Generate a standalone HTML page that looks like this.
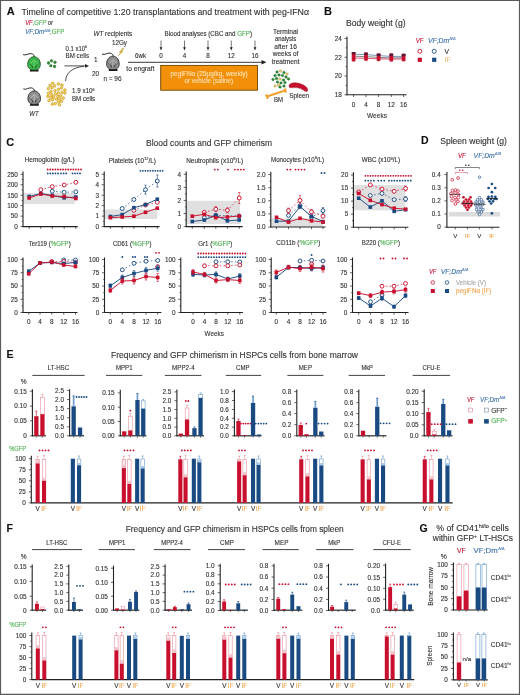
<!DOCTYPE html>
<html><head><meta charset="utf-8"><title>Figure</title>
<style>
html,body{margin:0;padding:0;background:#fff;}
svg{display:block;font-family:"Liberation Sans", sans-serif;}
</style></head><body>
<div style="will-change:transform;width:520px;height:695px"><svg width="520" height="695" viewBox="0 0 520 695" font-family='"Liberation Sans", sans-serif'>
<rect x="0" y="0" width="520" height="695" fill="#fff"/>
<text x="6.80" y="14.80" font-size="11" fill="#111" font-weight="bold" stroke="#111" stroke-width="0.12">A</text>
<text x="21.50" y="15.30" font-size="8.8" fill="#333" textLength="287.50" lengthAdjust="spacingAndGlyphs" stroke="#333" stroke-width="0.12">Timeline of competitive 1:20 transplantations and treatment with peg-IFNα</text>
<text x="25.2" y="25.4" font-size="6.4" font-style="italic" fill="#c8102e" textLength="27.7" lengthAdjust="spacingAndGlyphs" stroke="#c8102e" stroke-width="0.12">VF<tspan fill="#4caf50" stroke="#4caf50" stroke-width="0.12">;GFP</tspan><tspan fill="#333" stroke="#333" stroke-width="0.12"> or</tspan></text>
<text x="25.2" y="34.3" font-size="6.4" font-style="italic" fill="#3a6fa8" textLength="39.2" lengthAdjust="spacingAndGlyphs" stroke="#3a6fa8" stroke-width="0.12">VF;Dm<tspan font-size="3.8" dy="-2.5">Δ/Δ</tspan><tspan dy="2.5" fill="#4caf50" font-style="normal" stroke="#4caf50" stroke-width="0.12">;GFP</tspan></text>
<path d="M23.10,54.60 C26.00,55.90 28.00,53.20 31.20,53.60 C33.20,53.90 34.30,55.30 34.40,56.90" fill="none" stroke="#222" stroke-width="0.95" />
<path d="M30.00,69.50 L38.40,69.50 L38.60,71.40 L29.80,71.40 Z" fill="#151515" />
<path d="M34.00,56.70 C38.00,56.70 40.30,60.50 40.30,64.40 C40.30,67.80 38.00,70.10 34.00,70.10 C30.00,70.10 27.70,67.80 27.70,64.40 C27.70,60.50 30.00,56.70 34.00,56.70 Z" fill="#3cb44b" stroke="#1a4d1e" stroke-width="0.85" />
<path d="M33.80,60.00 L29.20,65.00 M34.20,60.00 L38.80,65.00 M34.00,60.00 L34.00,68.00" fill="none" stroke="#62d464" stroke-width="1.1" />
<path d="M28.80,63.70 Q31.80,64.50 33.00,68.00 M39.20,63.70 Q36.20,64.50 35.00,68.00" fill="none" stroke="#1a5a1e" stroke-width="0.55" />
<circle cx="32.50" cy="67.10" r="0.75" fill="#1a5a1e" />
<circle cx="35.50" cy="67.10" r="0.75" fill="#1a5a1e" />
<path d="M23.30,88.90 C26.20,90.20 28.20,87.50 31.40,87.90 C33.40,88.20 34.50,89.60 34.60,91.20" fill="none" stroke="#222" stroke-width="0.95" />
<path d="M30.20,103.80 L38.60,103.80 L38.80,105.70 L30.00,105.70 Z" fill="#151515" />
<path d="M34.20,91.00 C38.20,91.00 40.50,94.80 40.50,98.70 C40.50,102.10 38.20,104.40 34.20,104.40 C30.20,104.40 27.90,102.10 27.90,98.70 C27.90,94.80 30.20,91.00 34.20,91.00 Z" fill="#8e8e8e" stroke="#222" stroke-width="0.85" />
<path d="M34.00,94.30 L29.40,99.30 M34.40,94.30 L39.00,99.30 M34.20,94.30 L34.20,102.30" fill="none" stroke="#b0b0b0" stroke-width="1.1" />
<path d="M29.00,98.00 Q32.00,98.80 33.20,102.30 M39.40,98.00 Q36.40,98.80 35.20,102.30" fill="none" stroke="#333" stroke-width="0.55" />
<circle cx="32.70" cy="101.40" r="0.75" fill="#333" />
<circle cx="35.70" cy="101.40" r="0.75" fill="#333" />
<path d="M102.00,54.10 C104.90,55.40 106.90,52.70 110.10,53.10 C112.10,53.40 113.20,54.80 113.30,56.40" fill="none" stroke="#222" stroke-width="0.95" />
<path d="M108.90,69.00 L117.30,69.00 L117.50,70.90 L108.70,70.90 Z" fill="#151515" />
<path d="M112.90,56.20 C116.90,56.20 119.20,60.00 119.20,63.90 C119.20,67.30 116.90,69.60 112.90,69.60 C108.90,69.60 106.60,67.30 106.60,63.90 C106.60,60.00 108.90,56.20 112.90,56.20 Z" fill="#8e8e8e" stroke="#222" stroke-width="0.85" />
<path d="M112.70,59.50 L108.10,64.50 M113.10,59.50 L117.70,64.50 M112.90,59.50 L112.90,67.50" fill="none" stroke="#b0b0b0" stroke-width="1.1" />
<path d="M107.70,63.20 Q110.70,64.00 111.90,67.50 M118.10,63.20 Q115.10,64.00 113.90,67.50" fill="none" stroke="#333" stroke-width="0.55" />
<circle cx="111.40" cy="66.60" r="0.75" fill="#333" />
<circle cx="114.40" cy="66.60" r="0.75" fill="#333" />
<text x="34.00" y="116.20" font-size="6.8" text-anchor="middle" fill="#333" textLength="9.50" lengthAdjust="spacingAndGlyphs" font-style="italic" stroke="#333" stroke-width="0.12">WT</text>
<circle cx="48.50" cy="63.00" r="1.40" fill="#2f8a35" stroke="#1d5e22" stroke-width="0.3" />
<circle cx="51.50" cy="60.80" r="1.40" fill="#2f8a35" stroke="#1d5e22" stroke-width="0.3" />
<circle cx="55.00" cy="62.30" r="1.40" fill="#2f8a35" stroke="#1d5e22" stroke-width="0.3" />
<circle cx="50.80" cy="65.80" r="1.40" fill="#2f8a35" stroke="#1d5e22" stroke-width="0.3" />
<circle cx="54.60" cy="66.50" r="1.40" fill="#2f8a35" stroke="#1d5e22" stroke-width="0.3" />
<circle cx="51.66" cy="94.75" r="1.30" fill="#f3d870" stroke="#c99a1a" stroke-width="0.7" />
<circle cx="58.45" cy="83.97" r="1.30" fill="#f3d870" stroke="#c99a1a" stroke-width="0.7" />
<circle cx="52.04" cy="87.77" r="1.30" fill="#f3d870" stroke="#c99a1a" stroke-width="0.7" />
<circle cx="64.92" cy="93.08" r="1.30" fill="#f3d870" stroke="#c99a1a" stroke-width="0.7" />
<circle cx="58.61" cy="102.03" r="1.30" fill="#f3d870" stroke="#c99a1a" stroke-width="0.7" />
<circle cx="56.66" cy="99.18" r="1.30" fill="#f3d870" stroke="#c99a1a" stroke-width="0.7" />
<circle cx="60.77" cy="95.80" r="1.30" fill="#f3d870" stroke="#c99a1a" stroke-width="0.7" />
<circle cx="52.77" cy="83.20" r="1.30" fill="#f3d870" stroke="#c99a1a" stroke-width="0.7" />
<circle cx="55.28" cy="103.55" r="1.30" fill="#f3d870" stroke="#c99a1a" stroke-width="0.7" />
<circle cx="58.47" cy="89.27" r="1.30" fill="#f3d870" stroke="#c99a1a" stroke-width="0.7" />
<circle cx="49.05" cy="100.51" r="1.30" fill="#f3d870" stroke="#c99a1a" stroke-width="0.7" />
<circle cx="54.68" cy="85.89" r="1.30" fill="#f3d870" stroke="#c99a1a" stroke-width="0.7" />
<circle cx="52.64" cy="99.80" r="1.30" fill="#f3d870" stroke="#c99a1a" stroke-width="0.7" />
<circle cx="50.95" cy="91.68" r="1.30" fill="#f3d870" stroke="#c99a1a" stroke-width="0.7" />
<circle cx="55.56" cy="94.20" r="1.30" fill="#f3d870" stroke="#c99a1a" stroke-width="0.7" />
<circle cx="47.85" cy="96.36" r="1.30" fill="#f3d870" stroke="#c99a1a" stroke-width="0.7" />
<circle cx="58.48" cy="92.99" r="1.30" fill="#f3d870" stroke="#c99a1a" stroke-width="0.7" />
<circle cx="59.87" cy="99.11" r="1.30" fill="#f3d870" stroke="#c99a1a" stroke-width="0.7" />
<circle cx="61.57" cy="87.87" r="1.30" fill="#f3d870" stroke="#c99a1a" stroke-width="0.7" />
<circle cx="62.09" cy="92.36" r="1.30" fill="#f3d870" stroke="#c99a1a" stroke-width="0.7" />
<circle cx="61.62" cy="101.37" r="1.30" fill="#f3d870" stroke="#c99a1a" stroke-width="0.7" />
<circle cx="63.31" cy="98.11" r="1.30" fill="#f3d870" stroke="#c99a1a" stroke-width="0.7" />
<circle cx="48.37" cy="88.61" r="1.30" fill="#f3d870" stroke="#c99a1a" stroke-width="0.7" />
<circle cx="53.65" cy="97.06" r="1.30" fill="#f3d870" stroke="#c99a1a" stroke-width="0.7" />
<circle cx="55.05" cy="90.88" r="1.30" fill="#f3d870" stroke="#c99a1a" stroke-width="0.7" />
<circle cx="61.95" cy="85.03" r="1.30" fill="#f3d870" stroke="#c99a1a" stroke-width="0.7" />
<circle cx="64.93" cy="90.04" r="1.30" fill="#f3d870" stroke="#c99a1a" stroke-width="0.7" />
<circle cx="59.47" cy="104.82" r="1.30" fill="#f3d870" stroke="#c99a1a" stroke-width="0.7" />
<circle cx="52.44" cy="104.13" r="1.30" fill="#f3d870" stroke="#c99a1a" stroke-width="0.7" />
<circle cx="50.04" cy="85.36" r="1.30" fill="#f3d870" stroke="#c99a1a" stroke-width="0.7" />
<circle cx="57.96" cy="96.63" r="1.30" fill="#f3d870" stroke="#c99a1a" stroke-width="0.7" />
<circle cx="48.46" cy="93.35" r="1.30" fill="#f3d870" stroke="#c99a1a" stroke-width="0.7" />
<circle cx="50.72" cy="97.53" r="1.30" fill="#f3d870" stroke="#c99a1a" stroke-width="0.7" />
<text x="65.6" y="50.7" font-size="6.6" fill="#333" textLength="21.4" lengthAdjust="spacingAndGlyphs" stroke="#333" stroke-width="0.12">0.1 x10<tspan font-size="3.8" dy="-2.6">6</tspan></text>
<text x="65.60" y="58.30" font-size="6.6" fill="#333" textLength="23.40" lengthAdjust="spacingAndGlyphs" stroke="#333" stroke-width="0.12">BM cells</text>
<text x="72" y="93.1" font-size="6.6" fill="#333" textLength="22.5" lengthAdjust="spacingAndGlyphs" stroke="#333" stroke-width="0.12">1.9 x10<tspan font-size="3.8" dy="-2.6">6</tspan></text>
<text x="72.00" y="100.70" font-size="6.6" fill="#333" textLength="23.20" lengthAdjust="spacingAndGlyphs" stroke="#333" stroke-width="0.12">BM cells</text>
<line x1="64.40" y1="65.90" x2="86.00" y2="65.90" stroke="#222" stroke-width="0.8" />
<path d="M89,65.9 L85,64 L85,67.8 Z" fill="#222" />
<path d="M65.6,81 C66,73 72,67.5 84,66.3" fill="none" stroke="#222" stroke-width="0.8" />
<text x="95.80" y="62.20" font-size="6.4" text-anchor="middle" fill="#333" stroke="#333" stroke-width="0.12">1</text>
<circle cx="94.60" cy="66.50" r="0.35" fill="#555" />
<circle cx="97.00" cy="66.50" r="0.35" fill="#555" />
<text x="95.50" y="75.80" font-size="6.4" text-anchor="middle" fill="#333" stroke="#333" stroke-width="0.12">20</text>
<text x="112.50" y="81.20" font-size="6.6" text-anchor="middle" fill="#333" textLength="18.20" lengthAdjust="spacingAndGlyphs" stroke="#333" stroke-width="0.12">n = 96</text>
<text x="93.4" y="35.7" font-size="6.6" fill="#333" textLength="38.8" lengthAdjust="spacingAndGlyphs" stroke="#333" stroke-width="0.12"><tspan font-style="italic">WT</tspan> recipients</text>
<text x="119.50" y="45.20" font-size="6.6" text-anchor="middle" fill="#333" textLength="15.00" lengthAdjust="spacingAndGlyphs" stroke="#333" stroke-width="0.12">12Gy</text>
<path d="M122.5,48.3 L119.2,52.6 L120.9,52.4 L118.2,56 L123.2,51.2 L121.4,51.4 L124,48.3 Z" fill="#e8c030" stroke="#8a7020" stroke-width="0.3" />
<line x1="128.00" y1="62.30" x2="262.00" y2="62.30" stroke="#222" stroke-width="0.9" />
<path d="M266.5,62.3 L261.5,60 L261.5,64.6 Z" fill="#222" />
<text x="140.50" y="58.20" font-size="6.3" text-anchor="middle" fill="#333" textLength="11.00" lengthAdjust="spacingAndGlyphs" stroke="#333" stroke-width="0.12">6wk</text>
<text x="126.30" y="71.20" font-size="6.6" fill="#333" textLength="28.20" lengthAdjust="spacingAndGlyphs" stroke="#333" stroke-width="0.12">to engraft</text>
<text x="164.5" y="35.6" font-size="6.5" fill="#333" textLength="87.5" lengthAdjust="spacingAndGlyphs" stroke="#333" stroke-width="0.12">Blood analyses (CBC and <tspan fill="#4caf50" stroke="#4caf50" stroke-width="0.12">GFP</tspan>)</text>
<line x1="161.00" y1="40.50" x2="161.00" y2="48.00" stroke="#222" stroke-width="0.6" />
<path d="M161,50.5 L159.6,47.3 L162.4,47.3 Z" fill="#222" />
<text x="161.00" y="58.20" font-size="6.3" text-anchor="middle" fill="#333" stroke="#333" stroke-width="0.12">0</text>
<line x1="184.50" y1="40.50" x2="184.50" y2="48.00" stroke="#222" stroke-width="0.6" />
<path d="M184.5,50.5 L183.1,47.3 L185.9,47.3 Z" fill="#222" />
<text x="184.50" y="58.20" font-size="6.3" text-anchor="middle" fill="#333" stroke="#333" stroke-width="0.12">4</text>
<line x1="208.00" y1="40.50" x2="208.00" y2="48.00" stroke="#222" stroke-width="0.6" />
<path d="M208,50.5 L206.6,47.3 L209.4,47.3 Z" fill="#222" />
<text x="208.00" y="58.20" font-size="6.3" text-anchor="middle" fill="#333" stroke="#333" stroke-width="0.12">8</text>
<line x1="231.30" y1="40.50" x2="231.30" y2="48.00" stroke="#222" stroke-width="0.6" />
<path d="M231.3,50.5 L229.9,47.3 L232.70000000000002,47.3 Z" fill="#222" />
<text x="231.30" y="58.20" font-size="6.3" text-anchor="middle" fill="#333" stroke="#333" stroke-width="0.12">12</text>
<line x1="255.00" y1="40.50" x2="255.00" y2="48.00" stroke="#222" stroke-width="0.6" />
<path d="M255,50.5 L253.6,47.3 L256.4,47.3 Z" fill="#222" />
<text x="255.00" y="58.20" font-size="6.3" text-anchor="middle" fill="#333" stroke="#333" stroke-width="0.12">16</text>
<rect x="160.70" y="65.40" width="96.80" height="24.80" fill="#f39009" stroke="#6b4500" stroke-width="0.9" />
<text x="209.10" y="75.80" font-size="6.6" text-anchor="middle" fill="#fde0b0" textLength="77.20" lengthAdjust="spacingAndGlyphs" stroke="#fde0b0" stroke-width="0.12">pegIFNα (25μg/kg, weekly)</text>
<text x="208.80" y="83.20" font-size="6.6" text-anchor="middle" fill="#fde0b0" textLength="48.40" lengthAdjust="spacingAndGlyphs" stroke="#fde0b0" stroke-width="0.12">or vehicle (saline)</text>
<text x="285.60" y="33.90" font-size="6.6" text-anchor="middle" fill="#333" textLength="25.00" lengthAdjust="spacingAndGlyphs" stroke="#333" stroke-width="0.12">Terminal</text>
<text x="285.60" y="41.40" font-size="6.6" text-anchor="middle" fill="#333" textLength="21.30" lengthAdjust="spacingAndGlyphs" stroke="#333" stroke-width="0.12">analysis</text>
<text x="285.60" y="48.90" font-size="6.6" text-anchor="middle" fill="#333" textLength="22.50" lengthAdjust="spacingAndGlyphs" stroke="#333" stroke-width="0.12">after 16</text>
<text x="285.60" y="56.40" font-size="6.6" text-anchor="middle" fill="#333" textLength="25.60" lengthAdjust="spacingAndGlyphs" stroke="#333" stroke-width="0.12">weeks of</text>
<text x="285.60" y="63.90" font-size="6.6" text-anchor="middle" fill="#333" textLength="27.90" lengthAdjust="spacingAndGlyphs" stroke="#333" stroke-width="0.12">treatment</text>
<circle cx="277.00" cy="72.00" r="1.35" fill="#2f8a35" stroke="#1d5e22" stroke-width="0.3" />
<circle cx="280.50" cy="71.00" r="1.10" fill="#f8eeb8" stroke="#b08818" stroke-width="0.65" />
<circle cx="284.00" cy="72.50" r="1.35" fill="#2f8a35" stroke="#1d5e22" stroke-width="0.3" />
<circle cx="287.00" cy="74.00" r="1.10" fill="#f8eeb8" stroke="#b08818" stroke-width="0.65" />
<circle cx="275.00" cy="75.50" r="1.35" fill="#2f8a35" stroke="#1d5e22" stroke-width="0.3" />
<circle cx="279.00" cy="75.00" r="1.35" fill="#2f8a35" stroke="#1d5e22" stroke-width="0.3" />
<circle cx="282.50" cy="75.50" r="1.35" fill="#2f8a35" stroke="#1d5e22" stroke-width="0.3" />
<circle cx="286.00" cy="77.00" r="1.35" fill="#2f8a35" stroke="#1d5e22" stroke-width="0.3" />
<circle cx="288.50" cy="79.00" r="1.35" fill="#2f8a35" stroke="#1d5e22" stroke-width="0.3" />
<circle cx="273.00" cy="79.50" r="1.35" fill="#2f8a35" stroke="#1d5e22" stroke-width="0.3" />
<circle cx="276.50" cy="78.50" r="1.35" fill="#2f8a35" stroke="#1d5e22" stroke-width="0.3" />
<circle cx="280.00" cy="79.00" r="1.10" fill="#f8eeb8" stroke="#b08818" stroke-width="0.65" />
<circle cx="283.50" cy="80.00" r="1.35" fill="#2f8a35" stroke="#1d5e22" stroke-width="0.3" />
<circle cx="277.50" cy="82.00" r="1.35" fill="#2f8a35" stroke="#1d5e22" stroke-width="0.3" />
<circle cx="281.00" cy="83.00" r="1.35" fill="#2f8a35" stroke="#1d5e22" stroke-width="0.3" />
<circle cx="285.00" cy="82.50" r="1.35" fill="#2f8a35" stroke="#1d5e22" stroke-width="0.3" />
<circle cx="275.00" cy="86.00" r="1.10" fill="#f8eeb8" stroke="#b08818" stroke-width="0.65" />
<circle cx="280.00" cy="87.00" r="1.35" fill="#2f8a35" stroke="#1d5e22" stroke-width="0.3" />
<circle cx="284.00" cy="86.00" r="1.35" fill="#2f8a35" stroke="#1d5e22" stroke-width="0.3" />
<circle cx="278.50" cy="85.00" r="1.10" fill="#f8eeb8" stroke="#b08818" stroke-width="0.65" />
<path d="M267,96.5 L285,90.5" fill="none" stroke="#f0a030" stroke-width="2.0" stroke-linecap="round"/>
<circle cx="266.50" cy="95.50" r="1.20" fill="#f0a030" />
<circle cx="267.50" cy="97.70" r="1.20" fill="#f0a030" />
<circle cx="285.30" cy="89.40" r="1.20" fill="#f0a030" />
<circle cx="285.80" cy="91.60" r="1.20" fill="#f0a030" />
<path d="M289.5,84.5 C292,82 298,82.2 303,84.8 C306.5,86.6 308.5,89 307.5,91 C306.5,92.2 304.8,91.2 303,89.8 C299,87.2 294,87.5 291,87.8 C289,88 288.5,86 289.5,84.5 Z" fill="#c8102e" stroke="#8a0a1e" stroke-width="0.4" />
<text x="278.50" y="102.20" font-size="6.6" text-anchor="middle" fill="#333" textLength="9.00" lengthAdjust="spacingAndGlyphs" stroke="#333" stroke-width="0.12">BM</text>
<text x="299.20" y="97.70" font-size="6.6" text-anchor="middle" fill="#333" textLength="20.00" lengthAdjust="spacingAndGlyphs" stroke="#333" stroke-width="0.12">Spleen</text>
<text x="324.00" y="15.00" font-size="11" fill="#111" font-weight="bold" stroke="#111" stroke-width="0.12">B</text>
<text x="346.00" y="26.00" font-size="8.6" fill="#333" textLength="59.60" lengthAdjust="spacingAndGlyphs" stroke="#333" stroke-width="0.12">Body weight (g)</text>
<line x1="347.00" y1="36.50" x2="347.00" y2="95.20" stroke="#222" stroke-width="1.1" />
<line x1="346.60" y1="94.80" x2="406.50" y2="94.80" stroke="#222" stroke-width="1.1" />
<line x1="344.50" y1="38.50" x2="347.00" y2="38.50" stroke="#222" stroke-width="0.7" />
<text x="341.80" y="40.80" font-size="6.4" text-anchor="end" fill="#333" stroke="#333" stroke-width="0.12">24</text>
<line x1="344.50" y1="57.30" x2="347.00" y2="57.30" stroke="#222" stroke-width="0.7" />
<text x="341.80" y="59.60" font-size="6.4" text-anchor="end" fill="#333" stroke="#333" stroke-width="0.12">22</text>
<line x1="344.50" y1="76.00" x2="347.00" y2="76.00" stroke="#222" stroke-width="0.7" />
<text x="341.80" y="78.30" font-size="6.4" text-anchor="end" fill="#333" stroke="#333" stroke-width="0.12">20</text>
<line x1="344.50" y1="94.80" x2="347.00" y2="94.80" stroke="#222" stroke-width="0.7" />
<text x="341.80" y="97.10" font-size="6.4" text-anchor="end" fill="#333" stroke="#333" stroke-width="0.12">18</text>
<line x1="345.50" y1="47.90" x2="347.00" y2="47.90" stroke="#222" stroke-width="0.6" />
<line x1="345.50" y1="66.60" x2="347.00" y2="66.60" stroke="#222" stroke-width="0.6" />
<line x1="345.50" y1="85.40" x2="347.00" y2="85.40" stroke="#222" stroke-width="0.6" />
<line x1="353.60" y1="94.80" x2="353.60" y2="97.00" stroke="#222" stroke-width="0.7" />
<text x="353.60" y="106.90" font-size="6.4" text-anchor="middle" fill="#333" stroke="#333" stroke-width="0.12">0</text>
<line x1="366.00" y1="94.80" x2="366.00" y2="97.00" stroke="#222" stroke-width="0.7" />
<text x="366.00" y="106.90" font-size="6.4" text-anchor="middle" fill="#333" stroke="#333" stroke-width="0.12">4</text>
<line x1="378.60" y1="94.80" x2="378.60" y2="97.00" stroke="#222" stroke-width="0.7" />
<text x="378.60" y="106.90" font-size="6.4" text-anchor="middle" fill="#333" stroke="#333" stroke-width="0.12">8</text>
<line x1="391.30" y1="94.80" x2="391.30" y2="97.00" stroke="#222" stroke-width="0.7" />
<text x="391.30" y="106.90" font-size="6.4" text-anchor="middle" fill="#333" stroke="#333" stroke-width="0.12">12</text>
<line x1="403.60" y1="94.80" x2="403.60" y2="97.00" stroke="#222" stroke-width="0.7" />
<text x="403.60" y="106.90" font-size="6.4" text-anchor="middle" fill="#333" stroke="#333" stroke-width="0.12">16</text>
<text x="377.00" y="117.80" font-size="7.6" text-anchor="middle" fill="#333" textLength="20.00" lengthAdjust="spacingAndGlyphs" stroke="#333" stroke-width="0.12">Weeks</text>
<path d="M353.6,54.2 L366.0,54.6 L378.6,55.6 L391.3,56.4 L403.6,56.4" fill="none" stroke="#3a6a9a" stroke-width="0.7" />
<path d="M353.6,56.2 L366.0,56.6 L378.6,57.4 L391.3,57.9 L403.6,57.8" fill="none" stroke="#333" stroke-width="0.6" />
<path d="M353.6,58.0 L366.0,58.3 L378.6,58.8 L391.3,59.1 L403.6,58.9" fill="none" stroke="#c8102e" stroke-width="0.7" />
<rect x="351.70" y="51.90" width="3.80" height="9.50" fill="#c8102e" rx="0.8"/>
<rect x="351.70" y="51.90" width="3.80" height="2.40" fill="#5a1a34" rx="0.8"/>
<line x1="353.60" y1="61.40" x2="353.60" y2="62.00" stroke="#c8102e" stroke-width="0.5" />
<rect x="364.10" y="52.60" width="3.80" height="8.20" fill="#c8102e" rx="0.8"/>
<rect x="364.10" y="52.60" width="3.80" height="2.40" fill="#5a1a34" rx="0.8"/>
<line x1="366.00" y1="60.80" x2="366.00" y2="61.40" stroke="#c8102e" stroke-width="0.5" />
<rect x="376.70" y="53.50" width="3.80" height="7.50" fill="#c8102e" rx="0.8"/>
<rect x="376.70" y="53.50" width="3.80" height="2.40" fill="#5a1a34" rx="0.8"/>
<line x1="378.60" y1="61.00" x2="378.60" y2="61.60" stroke="#c8102e" stroke-width="0.5" />
<rect x="389.40" y="53.60" width="3.80" height="8.00" fill="#c8102e" rx="0.8"/>
<rect x="389.40" y="53.60" width="3.80" height="2.40" fill="#5a1a34" rx="0.8"/>
<line x1="391.30" y1="61.60" x2="391.30" y2="62.20" stroke="#c8102e" stroke-width="0.5" />
<rect x="401.70" y="53.80" width="3.80" height="7.50" fill="#c8102e" rx="0.8"/>
<rect x="401.70" y="53.80" width="3.80" height="2.40" fill="#5a1a34" rx="0.8"/>
<line x1="403.60" y1="61.30" x2="403.60" y2="61.90" stroke="#c8102e" stroke-width="0.5" />
<text x="415.80" y="42.50" font-size="6.8" fill="#c8102e" textLength="7.80" lengthAdjust="spacingAndGlyphs" font-style="italic" stroke="#c8102e" stroke-width="0.12">VF</text>
<text x="428" y="42.5" font-size="6.8" font-style="italic" fill="#3a6fa8" stroke="#3a6fa8" stroke-width="0.12">VF;Dm<tspan font-size="4" dy="-2.8">Δ/Δ</tspan></text>
<circle cx="419.80" cy="51.30" r="2.00" fill="#fff" stroke="#c8102e" stroke-width="0.9" />
<circle cx="434.20" cy="51.30" r="2.00" fill="#fff" stroke="#1a4a82" stroke-width="0.9" />
<text x="444.60" y="53.50" font-size="6.8" fill="#333" stroke="#333" stroke-width="0.12">V</text>
<rect x="417.70" y="57.70" width="4.20" height="4.20" fill="#c8102e" />
<rect x="432.10" y="57.70" width="4.20" height="4.20" fill="#1a4a82" />
<text x="444.60" y="62.00" font-size="6.8" fill="#f5b878" stroke="#f5b878" stroke-width="0.12">IF</text>
<text x="6.20" y="145.50" font-size="11" fill="#111" font-weight="bold" stroke="#111" stroke-width="0.12">C</text>
<text x="146.00" y="145.60" font-size="8.5" fill="#333" textLength="126.00" lengthAdjust="spacingAndGlyphs" stroke="#333" stroke-width="0.12">Blood counts and GFP chimerism</text>
<text x="24.60" y="162.30" font-size="6.4" fill="#333" textLength="50.00" lengthAdjust="spacingAndGlyphs" stroke="#333" stroke-width="0.12"><tspan>Hemoglobin (g/L)</tspan></text>
<rect x="23.00" y="193.00" width="51.60" height="11.00" fill="#e0e0e0" />
<line x1="23.00" y1="171.50" x2="23.00" y2="227.05" stroke="#222" stroke-width="1.1" />
<line x1="20.50" y1="174.30" x2="23.00" y2="174.30" stroke="#222" stroke-width="0.7" />
<text x="17.80" y="176.60" font-size="6.4" text-anchor="end" fill="#333" stroke="#333" stroke-width="0.12">250</text>
<line x1="20.50" y1="184.76" x2="23.00" y2="184.76" stroke="#222" stroke-width="0.7" />
<text x="17.80" y="187.06" font-size="6.4" text-anchor="end" fill="#333" stroke="#333" stroke-width="0.12">200</text>
<line x1="20.50" y1="195.22" x2="23.00" y2="195.22" stroke="#222" stroke-width="0.7" />
<text x="17.80" y="197.52" font-size="6.4" text-anchor="end" fill="#333" stroke="#333" stroke-width="0.12">150</text>
<line x1="20.50" y1="205.68" x2="23.00" y2="205.68" stroke="#222" stroke-width="0.7" />
<text x="17.80" y="207.98" font-size="6.4" text-anchor="end" fill="#333" stroke="#333" stroke-width="0.12">100</text>
<line x1="20.50" y1="216.14" x2="23.00" y2="216.14" stroke="#222" stroke-width="0.7" />
<text x="17.80" y="218.44" font-size="6.4" text-anchor="end" fill="#333" stroke="#333" stroke-width="0.12">50</text>
<line x1="20.50" y1="226.60" x2="23.00" y2="226.60" stroke="#222" stroke-width="0.7" />
<text x="17.80" y="228.90" font-size="6.4" text-anchor="end" fill="#333" stroke="#333" stroke-width="0.12">0</text>
<line x1="21.60" y1="179.53" x2="23.00" y2="179.53" stroke="#222" stroke-width="0.6" />
<line x1="21.60" y1="189.99" x2="23.00" y2="189.99" stroke="#222" stroke-width="0.6" />
<line x1="21.60" y1="200.45" x2="23.00" y2="200.45" stroke="#222" stroke-width="0.6" />
<line x1="21.60" y1="210.91" x2="23.00" y2="210.91" stroke="#222" stroke-width="0.6" />
<line x1="21.60" y1="221.37" x2="23.00" y2="221.37" stroke="#222" stroke-width="0.6" />
<line x1="22.55" y1="226.60" x2="77.70" y2="226.60" stroke="#222" stroke-width="1.1" />
<line x1="29.20" y1="226.60" x2="29.20" y2="228.80" stroke="#222" stroke-width="0.7" />
<line x1="40.80" y1="226.60" x2="40.80" y2="228.80" stroke="#222" stroke-width="0.7" />
<line x1="52.30" y1="226.60" x2="52.30" y2="228.80" stroke="#222" stroke-width="0.7" />
<line x1="64.20" y1="226.60" x2="64.20" y2="228.80" stroke="#222" stroke-width="0.7" />
<line x1="75.80" y1="226.60" x2="75.80" y2="228.80" stroke="#222" stroke-width="0.7" />
<circle cx="47.70" cy="169.50" r="0.92" fill="#c8102e" />
<circle cx="50.26" cy="169.50" r="0.92" fill="#c8102e" />
<circle cx="52.82" cy="169.50" r="0.92" fill="#c8102e" />
<circle cx="55.38" cy="169.50" r="0.92" fill="#c8102e" />
<circle cx="57.95" cy="169.50" r="0.92" fill="#c8102e" />
<circle cx="60.51" cy="169.50" r="0.92" fill="#c8102e" />
<circle cx="63.07" cy="169.50" r="0.92" fill="#c8102e" />
<circle cx="65.63" cy="169.50" r="0.92" fill="#c8102e" />
<circle cx="68.19" cy="169.50" r="0.92" fill="#c8102e" />
<circle cx="70.75" cy="169.50" r="0.92" fill="#c8102e" />
<circle cx="73.32" cy="169.50" r="0.92" fill="#c8102e" />
<circle cx="75.88" cy="169.50" r="0.92" fill="#c8102e" />
<circle cx="78.44" cy="169.50" r="0.92" fill="#c8102e" />
<circle cx="81.00" cy="169.50" r="0.92" fill="#c8102e" />
<circle cx="47.70" cy="173.40" r="0.92" fill="#1a4a82" />
<circle cx="50.28" cy="173.40" r="0.92" fill="#1a4a82" />
<circle cx="52.85" cy="173.40" r="0.92" fill="#1a4a82" />
<circle cx="55.42" cy="173.40" r="0.92" fill="#1a4a82" />
<circle cx="58.00" cy="173.40" r="0.92" fill="#1a4a82" />
<circle cx="61.00" cy="173.40" r="0.92" fill="#1a4a82" />
<circle cx="63.60" cy="173.40" r="0.92" fill="#1a4a82" />
<circle cx="66.20" cy="173.40" r="0.92" fill="#1a4a82" />
<circle cx="72.50" cy="173.40" r="0.92" fill="#1a4a82" />
<circle cx="75.00" cy="173.40" r="0.92" fill="#1a4a82" />
<circle cx="77.50" cy="173.40" r="0.92" fill="#1a4a82" />
<circle cx="80.00" cy="173.40" r="0.92" fill="#1a4a82" />
<path d="M52.30,191.20 L64.20,192.30 L75.80,191.80" fill="none" stroke="#1a4a82" stroke-width="0.7" stroke-dasharray="1.6,2.2"/>
<circle cx="52.30" cy="191.20" r="1.95" fill="#fff" stroke="#1a4a82" stroke-width="0.95" />
<circle cx="64.20" cy="192.30" r="1.95" fill="#fff" stroke="#1a4a82" stroke-width="0.95" />
<circle cx="75.80" cy="191.80" r="1.95" fill="#fff" stroke="#1a4a82" stroke-width="0.95" />
<path d="M40.80,189.70 L52.30,186.60 L64.20,185.00 L75.80,182.30" fill="none" stroke="#c8102e" stroke-width="0.7" stroke-dasharray="1.6,2.2"/>
<circle cx="40.80" cy="189.70" r="1.95" fill="#fff" stroke="#c8102e" stroke-width="0.95" />
<circle cx="52.30" cy="186.60" r="1.95" fill="#fff" stroke="#c8102e" stroke-width="0.95" />
<circle cx="64.20" cy="185.00" r="1.95" fill="#fff" stroke="#c8102e" stroke-width="0.95" />
<circle cx="75.80" cy="182.30" r="1.95" fill="#fff" stroke="#c8102e" stroke-width="0.95" />
<path d="M29.20,196.50 L40.80,193.50 L52.30,195.50 L64.20,197.80 L75.80,197.00" fill="none" stroke="#1a4a82" stroke-width="0.95" />
<rect x="27.40" y="194.70" width="3.60" height="3.60" fill="#1a4a82" />
<rect x="39.00" y="191.70" width="3.60" height="3.60" fill="#1a4a82" />
<rect x="50.50" y="193.70" width="3.60" height="3.60" fill="#1a4a82" />
<rect x="62.40" y="196.00" width="3.60" height="3.60" fill="#1a4a82" />
<rect x="74.00" y="195.20" width="3.60" height="3.60" fill="#1a4a82" />
<path d="M29.20,198.00 L40.80,194.00 L52.30,196.00 L64.20,196.50 L75.80,198.50" fill="none" stroke="#c8102e" stroke-width="0.95" />
<rect x="27.40" y="196.20" width="3.60" height="3.60" fill="#c8102e" />
<rect x="39.00" y="192.20" width="3.60" height="3.60" fill="#c8102e" />
<rect x="50.50" y="194.20" width="3.60" height="3.60" fill="#c8102e" />
<rect x="62.40" y="194.70" width="3.60" height="3.60" fill="#c8102e" />
<rect x="74.00" y="196.70" width="3.60" height="3.60" fill="#c8102e" />
<text x="108.80" y="162.60" font-size="6.4" fill="#333" textLength="47.20" lengthAdjust="spacingAndGlyphs" stroke="#333" stroke-width="0.12"><tspan>Platelets (10</tspan><tspan font-size="3.97" dy="-2.56">12</tspan><tspan dy="2.56">/L)</tspan></text>
<rect x="104.20" y="209.50" width="53.10" height="9.50" fill="#e0e0e0" />
<line x1="104.20" y1="171.50" x2="104.20" y2="227.05" stroke="#222" stroke-width="1.1" />
<line x1="101.70" y1="174.30" x2="104.20" y2="174.30" stroke="#222" stroke-width="0.7" />
<text x="99.00" y="176.60" font-size="6.4" text-anchor="end" fill="#333" stroke="#333" stroke-width="0.12">5</text>
<line x1="101.70" y1="184.76" x2="104.20" y2="184.76" stroke="#222" stroke-width="0.7" />
<text x="99.00" y="187.06" font-size="6.4" text-anchor="end" fill="#333" stroke="#333" stroke-width="0.12">4</text>
<line x1="101.70" y1="195.22" x2="104.20" y2="195.22" stroke="#222" stroke-width="0.7" />
<text x="99.00" y="197.52" font-size="6.4" text-anchor="end" fill="#333" stroke="#333" stroke-width="0.12">3</text>
<line x1="101.70" y1="205.68" x2="104.20" y2="205.68" stroke="#222" stroke-width="0.7" />
<text x="99.00" y="207.98" font-size="6.4" text-anchor="end" fill="#333" stroke="#333" stroke-width="0.12">2</text>
<line x1="101.70" y1="216.14" x2="104.20" y2="216.14" stroke="#222" stroke-width="0.7" />
<text x="99.00" y="218.44" font-size="6.4" text-anchor="end" fill="#333" stroke="#333" stroke-width="0.12">1</text>
<line x1="101.70" y1="226.60" x2="104.20" y2="226.60" stroke="#222" stroke-width="0.7" />
<text x="99.00" y="228.90" font-size="6.4" text-anchor="end" fill="#333" stroke="#333" stroke-width="0.12">0</text>
<line x1="102.80" y1="179.53" x2="104.20" y2="179.53" stroke="#222" stroke-width="0.6" />
<line x1="102.80" y1="189.99" x2="104.20" y2="189.99" stroke="#222" stroke-width="0.6" />
<line x1="102.80" y1="200.45" x2="104.20" y2="200.45" stroke="#222" stroke-width="0.6" />
<line x1="102.80" y1="210.91" x2="104.20" y2="210.91" stroke="#222" stroke-width="0.6" />
<line x1="102.80" y1="221.37" x2="104.20" y2="221.37" stroke="#222" stroke-width="0.6" />
<line x1="103.75" y1="226.60" x2="159.60" y2="226.60" stroke="#222" stroke-width="1.1" />
<line x1="110.40" y1="226.60" x2="110.40" y2="228.80" stroke="#222" stroke-width="0.7" />
<line x1="122.20" y1="226.60" x2="122.20" y2="228.80" stroke="#222" stroke-width="0.7" />
<line x1="133.90" y1="226.60" x2="133.90" y2="228.80" stroke="#222" stroke-width="0.7" />
<line x1="145.50" y1="226.60" x2="145.50" y2="228.80" stroke="#222" stroke-width="0.7" />
<line x1="157.30" y1="226.60" x2="157.30" y2="228.80" stroke="#222" stroke-width="0.7" />
<circle cx="140.40" cy="170.80" r="0.92" fill="#1a4a82" />
<circle cx="142.88" cy="170.80" r="0.92" fill="#1a4a82" />
<circle cx="145.36" cy="170.80" r="0.92" fill="#1a4a82" />
<circle cx="147.83" cy="170.80" r="0.92" fill="#1a4a82" />
<circle cx="150.31" cy="170.80" r="0.92" fill="#1a4a82" />
<circle cx="152.79" cy="170.80" r="0.92" fill="#1a4a82" />
<circle cx="155.27" cy="170.80" r="0.92" fill="#1a4a82" />
<circle cx="157.74" cy="170.80" r="0.92" fill="#1a4a82" />
<circle cx="160.22" cy="170.80" r="0.92" fill="#1a4a82" />
<circle cx="162.70" cy="170.80" r="0.92" fill="#1a4a82" />
<path d="M122.20,208.50 L133.90,199.50 L145.50,189.70 L157.30,181.00" fill="none" stroke="#1a4a82" stroke-width="0.7" stroke-dasharray="1.6,2.2"/>
<circle cx="122.20" cy="208.50" r="1.95" fill="#fff" stroke="#1a4a82" stroke-width="0.95" />
<circle cx="133.90" cy="199.50" r="1.95" fill="#fff" stroke="#1a4a82" stroke-width="0.95" />
<line x1="145.50" y1="185.20" x2="145.50" y2="194.20" stroke="#1a4a82" stroke-width="0.6" />
<line x1="144.30" y1="185.20" x2="146.70" y2="185.20" stroke="#1a4a82" stroke-width="0.6" />
<line x1="144.30" y1="194.20" x2="146.70" y2="194.20" stroke="#1a4a82" stroke-width="0.6" />
<circle cx="145.50" cy="189.70" r="1.95" fill="#fff" stroke="#1a4a82" stroke-width="0.95" />
<line x1="157.30" y1="175.00" x2="157.30" y2="187.00" stroke="#1a4a82" stroke-width="0.6" />
<line x1="156.10" y1="175.00" x2="158.50" y2="175.00" stroke="#1a4a82" stroke-width="0.6" />
<line x1="156.10" y1="187.00" x2="158.50" y2="187.00" stroke="#1a4a82" stroke-width="0.6" />
<circle cx="157.30" cy="181.00" r="1.95" fill="#fff" stroke="#1a4a82" stroke-width="0.95" />
<path d="M133.90,210.30 L145.50,205.00 L157.30,202.30" fill="none" stroke="#c8102e" stroke-width="0.7" stroke-dasharray="1.6,2.2"/>
<circle cx="133.90" cy="210.30" r="1.95" fill="#fff" stroke="#c8102e" stroke-width="0.95" />
<circle cx="145.50" cy="205.00" r="1.95" fill="#fff" stroke="#c8102e" stroke-width="0.95" />
<circle cx="157.30" cy="202.30" r="1.95" fill="#fff" stroke="#c8102e" stroke-width="0.95" />
<path d="M110.40,216.50 L122.20,214.60 L133.90,207.70 L145.50,204.60 L157.30,199.20" fill="none" stroke="#1a4a82" stroke-width="0.95" />
<rect x="108.60" y="214.70" width="3.60" height="3.60" fill="#1a4a82" />
<rect x="120.40" y="212.80" width="3.60" height="3.60" fill="#1a4a82" />
<rect x="132.10" y="205.90" width="3.60" height="3.60" fill="#1a4a82" />
<rect x="143.70" y="202.80" width="3.60" height="3.60" fill="#1a4a82" />
<rect x="155.50" y="197.40" width="3.60" height="3.60" fill="#1a4a82" />
<path d="M110.40,217.70 L122.20,217.00 L133.90,216.20 L145.50,212.30 L157.30,208.20" fill="none" stroke="#c8102e" stroke-width="0.95" />
<rect x="108.60" y="215.90" width="3.60" height="3.60" fill="#c8102e" />
<rect x="120.40" y="215.20" width="3.60" height="3.60" fill="#c8102e" />
<rect x="132.10" y="214.40" width="3.60" height="3.60" fill="#c8102e" />
<rect x="143.70" y="210.50" width="3.60" height="3.60" fill="#c8102e" />
<rect x="155.50" y="206.40" width="3.60" height="3.60" fill="#c8102e" />
<text x="186.20" y="162.60" font-size="6.4" fill="#333" textLength="57.00" lengthAdjust="spacingAndGlyphs" stroke="#333" stroke-width="0.12"><tspan>Neutrophils (x10</tspan><tspan font-size="3.97" dy="-2.56">9</tspan><tspan dy="2.56">/L)</tspan></text>
<rect x="186.20" y="200.80" width="53.80" height="23.20" fill="#e0e0e0" />
<line x1="186.20" y1="171.50" x2="186.20" y2="227.05" stroke="#222" stroke-width="1.1" />
<line x1="183.70" y1="174.30" x2="186.20" y2="174.30" stroke="#222" stroke-width="0.7" />
<text x="181.00" y="176.60" font-size="6.4" text-anchor="end" fill="#333" stroke="#333" stroke-width="0.12">4</text>
<line x1="183.70" y1="187.38" x2="186.20" y2="187.38" stroke="#222" stroke-width="0.7" />
<text x="181.00" y="189.68" font-size="6.4" text-anchor="end" fill="#333" stroke="#333" stroke-width="0.12">3</text>
<line x1="183.70" y1="200.45" x2="186.20" y2="200.45" stroke="#222" stroke-width="0.7" />
<text x="181.00" y="202.75" font-size="6.4" text-anchor="end" fill="#333" stroke="#333" stroke-width="0.12">2</text>
<line x1="183.70" y1="213.53" x2="186.20" y2="213.53" stroke="#222" stroke-width="0.7" />
<text x="181.00" y="215.83" font-size="6.4" text-anchor="end" fill="#333" stroke="#333" stroke-width="0.12">1</text>
<line x1="183.70" y1="226.60" x2="186.20" y2="226.60" stroke="#222" stroke-width="0.7" />
<text x="181.00" y="228.90" font-size="6.4" text-anchor="end" fill="#333" stroke="#333" stroke-width="0.12">0</text>
<line x1="184.80" y1="180.84" x2="186.20" y2="180.84" stroke="#222" stroke-width="0.6" />
<line x1="184.80" y1="193.91" x2="186.20" y2="193.91" stroke="#222" stroke-width="0.6" />
<line x1="184.80" y1="206.99" x2="186.20" y2="206.99" stroke="#222" stroke-width="0.6" />
<line x1="184.80" y1="220.06" x2="186.20" y2="220.06" stroke="#222" stroke-width="0.6" />
<line x1="185.75" y1="226.60" x2="242.70" y2="226.60" stroke="#222" stroke-width="1.1" />
<line x1="192.30" y1="226.60" x2="192.30" y2="228.80" stroke="#222" stroke-width="0.7" />
<line x1="204.30" y1="226.60" x2="204.30" y2="228.80" stroke="#222" stroke-width="0.7" />
<line x1="215.80" y1="226.60" x2="215.80" y2="228.80" stroke="#222" stroke-width="0.7" />
<line x1="227.40" y1="226.60" x2="227.40" y2="228.80" stroke="#222" stroke-width="0.7" />
<line x1="239.20" y1="226.60" x2="239.20" y2="228.80" stroke="#222" stroke-width="0.7" />
<circle cx="214.75" cy="169.60" r="0.92" fill="#c8102e" />
<circle cx="217.75" cy="169.60" r="0.92" fill="#c8102e" />
<circle cx="228.00" cy="169.60" r="0.92" fill="#c8102e" />
<circle cx="234.90" cy="169.60" r="0.92" fill="#c8102e" />
<circle cx="237.90" cy="169.60" r="0.92" fill="#c8102e" />
<circle cx="240.90" cy="169.60" r="0.92" fill="#c8102e" />
<circle cx="243.90" cy="169.60" r="0.92" fill="#c8102e" />
<path d="M204.30,217.70 L215.80,215.40 L239.20,216.00" fill="none" stroke="#1a4a82" stroke-width="0.7" stroke-dasharray="1.6,2.2"/>
<circle cx="204.30" cy="217.70" r="1.95" fill="#fff" stroke="#1a4a82" stroke-width="0.95" />
<circle cx="215.80" cy="215.40" r="1.95" fill="#fff" stroke="#1a4a82" stroke-width="0.95" />
<circle cx="239.20" cy="216.00" r="1.95" fill="#fff" stroke="#1a4a82" stroke-width="0.95" />
<path d="M204.30,212.30 L215.80,209.20 L227.40,210.30 L239.20,198.00" fill="none" stroke="#c8102e" stroke-width="0.7" stroke-dasharray="1.6,2.2"/>
<circle cx="204.30" cy="212.30" r="1.95" fill="#fff" stroke="#c8102e" stroke-width="0.95" />
<line x1="215.80" y1="206.70" x2="215.80" y2="211.70" stroke="#c8102e" stroke-width="0.6" />
<line x1="214.60" y1="206.70" x2="217.00" y2="206.70" stroke="#c8102e" stroke-width="0.6" />
<line x1="214.60" y1="211.70" x2="217.00" y2="211.70" stroke="#c8102e" stroke-width="0.6" />
<circle cx="215.80" cy="209.20" r="1.95" fill="#fff" stroke="#c8102e" stroke-width="0.95" />
<line x1="227.40" y1="207.80" x2="227.40" y2="212.80" stroke="#c8102e" stroke-width="0.6" />
<line x1="226.20" y1="207.80" x2="228.60" y2="207.80" stroke="#c8102e" stroke-width="0.6" />
<line x1="226.20" y1="212.80" x2="228.60" y2="212.80" stroke="#c8102e" stroke-width="0.6" />
<circle cx="227.40" cy="210.30" r="1.95" fill="#fff" stroke="#c8102e" stroke-width="0.95" />
<line x1="239.20" y1="192.50" x2="239.20" y2="203.50" stroke="#c8102e" stroke-width="0.6" />
<line x1="238.00" y1="192.50" x2="240.40" y2="192.50" stroke="#c8102e" stroke-width="0.6" />
<line x1="238.00" y1="203.50" x2="240.40" y2="203.50" stroke="#c8102e" stroke-width="0.6" />
<circle cx="239.20" cy="198.00" r="1.95" fill="#fff" stroke="#c8102e" stroke-width="0.95" />
<path d="M192.30,221.50 L204.30,220.00 L215.80,215.40 L227.40,220.80 L239.20,220.00" fill="none" stroke="#1a4a82" stroke-width="0.95" />
<rect x="190.50" y="219.70" width="3.60" height="3.60" fill="#1a4a82" />
<rect x="202.50" y="218.20" width="3.60" height="3.60" fill="#1a4a82" />
<rect x="214.00" y="213.60" width="3.60" height="3.60" fill="#1a4a82" />
<rect x="225.60" y="219.00" width="3.60" height="3.60" fill="#1a4a82" />
<rect x="237.40" y="218.20" width="3.60" height="3.60" fill="#1a4a82" />
<path d="M192.30,216.20 L204.30,214.30 L215.80,217.70 L227.40,217.00 L239.20,216.00" fill="none" stroke="#c8102e" stroke-width="0.95" />
<rect x="190.50" y="214.40" width="3.60" height="3.60" fill="#c8102e" />
<rect x="202.50" y="212.50" width="3.60" height="3.60" fill="#c8102e" />
<rect x="214.00" y="215.90" width="3.60" height="3.60" fill="#c8102e" />
<rect x="225.60" y="215.20" width="3.60" height="3.60" fill="#c8102e" />
<rect x="237.40" y="214.20" width="3.60" height="3.60" fill="#c8102e" />
<text x="271.00" y="162.00" font-size="6.4" fill="#333" textLength="53.00" lengthAdjust="spacingAndGlyphs" stroke="#333" stroke-width="0.12"><tspan>Monocytes (x10</tspan><tspan font-size="3.97" dy="-2.56">9</tspan><tspan dy="2.56">/L)</tspan></text>
<rect x="270.80" y="218.50" width="52.20" height="8.00" fill="#e0e0e0" />
<line x1="270.80" y1="171.80" x2="270.80" y2="227.45" stroke="#222" stroke-width="1.1" />
<line x1="268.30" y1="174.60" x2="270.80" y2="174.60" stroke="#222" stroke-width="0.7" />
<text x="265.60" y="176.90" font-size="6.4" text-anchor="end" fill="#333" stroke="#333" stroke-width="0.12">2.0</text>
<line x1="268.30" y1="187.70" x2="270.80" y2="187.70" stroke="#222" stroke-width="0.7" />
<text x="265.60" y="190.00" font-size="6.4" text-anchor="end" fill="#333" stroke="#333" stroke-width="0.12">1.5</text>
<line x1="268.30" y1="200.80" x2="270.80" y2="200.80" stroke="#222" stroke-width="0.7" />
<text x="265.60" y="203.10" font-size="6.4" text-anchor="end" fill="#333" stroke="#333" stroke-width="0.12">1.0</text>
<line x1="268.30" y1="213.90" x2="270.80" y2="213.90" stroke="#222" stroke-width="0.7" />
<text x="265.60" y="216.20" font-size="6.4" text-anchor="end" fill="#333" stroke="#333" stroke-width="0.12">0.5</text>
<line x1="268.30" y1="227.00" x2="270.80" y2="227.00" stroke="#222" stroke-width="0.7" />
<text x="265.60" y="229.30" font-size="6.4" text-anchor="end" fill="#333" stroke="#333" stroke-width="0.12">0.0</text>
<line x1="269.40" y1="181.15" x2="270.80" y2="181.15" stroke="#222" stroke-width="0.6" />
<line x1="269.40" y1="194.25" x2="270.80" y2="194.25" stroke="#222" stroke-width="0.6" />
<line x1="269.40" y1="207.35" x2="270.80" y2="207.35" stroke="#222" stroke-width="0.6" />
<line x1="269.40" y1="220.45" x2="270.80" y2="220.45" stroke="#222" stroke-width="0.6" />
<line x1="270.35" y1="227.00" x2="325.50" y2="227.00" stroke="#222" stroke-width="1.1" />
<line x1="276.50" y1="227.00" x2="276.50" y2="229.20" stroke="#222" stroke-width="0.7" />
<line x1="288.50" y1="227.00" x2="288.50" y2="229.20" stroke="#222" stroke-width="0.7" />
<line x1="300.00" y1="227.00" x2="300.00" y2="229.20" stroke="#222" stroke-width="0.7" />
<line x1="311.50" y1="227.00" x2="311.50" y2="229.20" stroke="#222" stroke-width="0.7" />
<line x1="323.00" y1="227.00" x2="323.00" y2="229.20" stroke="#222" stroke-width="0.7" />
<circle cx="287.25" cy="169.60" r="0.92" fill="#c8102e" />
<circle cx="290.25" cy="169.60" r="0.92" fill="#c8102e" />
<circle cx="295.50" cy="169.60" r="0.92" fill="#c8102e" />
<circle cx="298.50" cy="169.60" r="0.92" fill="#c8102e" />
<circle cx="301.50" cy="169.60" r="0.92" fill="#c8102e" />
<circle cx="304.50" cy="169.60" r="0.92" fill="#c8102e" />
<circle cx="321.50" cy="173.00" r="0.92" fill="#1a4a82" />
<circle cx="324.50" cy="173.00" r="0.92" fill="#1a4a82" />
<path d="M288.50,215.40 L300.00,205.80 L311.50,217.30 L323.00,210.60" fill="none" stroke="#1a4a82" stroke-width="0.7" stroke-dasharray="1.6,2.2"/>
<circle cx="288.50" cy="215.40" r="1.95" fill="#fff" stroke="#1a4a82" stroke-width="0.95" />
<line x1="300.00" y1="202.80" x2="300.00" y2="208.80" stroke="#1a4a82" stroke-width="0.6" />
<line x1="298.80" y1="202.80" x2="301.20" y2="202.80" stroke="#1a4a82" stroke-width="0.6" />
<line x1="298.80" y1="208.80" x2="301.20" y2="208.80" stroke="#1a4a82" stroke-width="0.6" />
<circle cx="300.00" cy="205.80" r="1.95" fill="#fff" stroke="#1a4a82" stroke-width="0.95" />
<circle cx="311.50" cy="217.30" r="1.95" fill="#fff" stroke="#1a4a82" stroke-width="0.95" />
<line x1="323.00" y1="207.60" x2="323.00" y2="213.60" stroke="#1a4a82" stroke-width="0.6" />
<line x1="321.80" y1="207.60" x2="324.20" y2="207.60" stroke="#1a4a82" stroke-width="0.6" />
<line x1="321.80" y1="213.60" x2="324.20" y2="213.60" stroke="#1a4a82" stroke-width="0.6" />
<circle cx="323.00" cy="210.60" r="1.95" fill="#fff" stroke="#1a4a82" stroke-width="0.95" />
<path d="M288.50,210.60 L300.00,200.40 L311.50,211.90 L323.00,216.30" fill="none" stroke="#c8102e" stroke-width="0.7" stroke-dasharray="1.6,2.2"/>
<line x1="288.50" y1="208.10" x2="288.50" y2="213.10" stroke="#c8102e" stroke-width="0.6" />
<line x1="287.30" y1="208.10" x2="289.70" y2="208.10" stroke="#c8102e" stroke-width="0.6" />
<line x1="287.30" y1="213.10" x2="289.70" y2="213.10" stroke="#c8102e" stroke-width="0.6" />
<circle cx="288.50" cy="210.60" r="1.95" fill="#fff" stroke="#c8102e" stroke-width="0.95" />
<line x1="300.00" y1="195.40" x2="300.00" y2="205.40" stroke="#c8102e" stroke-width="0.6" />
<line x1="298.80" y1="195.40" x2="301.20" y2="195.40" stroke="#c8102e" stroke-width="0.6" />
<line x1="298.80" y1="205.40" x2="301.20" y2="205.40" stroke="#c8102e" stroke-width="0.6" />
<circle cx="300.00" cy="200.40" r="1.95" fill="#fff" stroke="#c8102e" stroke-width="0.95" />
<line x1="311.50" y1="209.40" x2="311.50" y2="214.40" stroke="#c8102e" stroke-width="0.6" />
<line x1="310.30" y1="209.40" x2="312.70" y2="209.40" stroke="#c8102e" stroke-width="0.6" />
<line x1="310.30" y1="214.40" x2="312.70" y2="214.40" stroke="#c8102e" stroke-width="0.6" />
<circle cx="311.50" cy="211.90" r="1.95" fill="#fff" stroke="#c8102e" stroke-width="0.95" />
<circle cx="323.00" cy="216.30" r="1.95" fill="#fff" stroke="#c8102e" stroke-width="0.95" />
<path d="M276.50,221.20 L288.50,221.20 L300.00,206.70 L311.50,216.30 L323.00,221.70" fill="none" stroke="#1a4a82" stroke-width="0.95" />
<rect x="274.70" y="219.40" width="3.60" height="3.60" fill="#1a4a82" />
<rect x="286.70" y="219.40" width="3.60" height="3.60" fill="#1a4a82" />
<rect x="298.20" y="204.90" width="3.60" height="3.60" fill="#1a4a82" />
<rect x="309.70" y="214.50" width="3.60" height="3.60" fill="#1a4a82" />
<rect x="321.20" y="219.90" width="3.60" height="3.60" fill="#1a4a82" />
<path d="M276.50,217.30 L288.50,222.10 L300.00,218.30 L311.50,220.80 L323.00,222.10" fill="none" stroke="#c8102e" stroke-width="0.95" />
<rect x="274.70" y="215.50" width="3.60" height="3.60" fill="#c8102e" />
<rect x="286.70" y="220.30" width="3.60" height="3.60" fill="#c8102e" />
<rect x="298.20" y="216.50" width="3.60" height="3.60" fill="#c8102e" />
<rect x="309.70" y="219.00" width="3.60" height="3.60" fill="#c8102e" />
<rect x="321.20" y="220.30" width="3.60" height="3.60" fill="#c8102e" />
<text x="361.80" y="162.30" font-size="6.4" fill="#333" textLength="38.20" lengthAdjust="spacingAndGlyphs" stroke="#333" stroke-width="0.12"><tspan>WBC (x10</tspan><tspan font-size="3.97" dy="-2.56">9</tspan><tspan dy="2.56">/L)</tspan></text>
<rect x="353.40" y="185.00" width="51.60" height="25.30" fill="#e0e0e0" />
<line x1="353.40" y1="172.20" x2="353.40" y2="227.65" stroke="#222" stroke-width="1.1" />
<line x1="350.90" y1="175.00" x2="353.40" y2="175.00" stroke="#222" stroke-width="0.7" />
<text x="348.20" y="177.30" font-size="6.4" text-anchor="end" fill="#333" stroke="#333" stroke-width="0.12">20</text>
<line x1="350.90" y1="188.05" x2="353.40" y2="188.05" stroke="#222" stroke-width="0.7" />
<text x="348.20" y="190.35" font-size="6.4" text-anchor="end" fill="#333" stroke="#333" stroke-width="0.12">15</text>
<line x1="350.90" y1="201.10" x2="353.40" y2="201.10" stroke="#222" stroke-width="0.7" />
<text x="348.20" y="203.40" font-size="6.4" text-anchor="end" fill="#333" stroke="#333" stroke-width="0.12">10</text>
<line x1="350.90" y1="214.15" x2="353.40" y2="214.15" stroke="#222" stroke-width="0.7" />
<text x="348.20" y="216.45" font-size="6.4" text-anchor="end" fill="#333" stroke="#333" stroke-width="0.12">5</text>
<line x1="350.90" y1="227.20" x2="353.40" y2="227.20" stroke="#222" stroke-width="0.7" />
<text x="348.20" y="229.50" font-size="6.4" text-anchor="end" fill="#333" stroke="#333" stroke-width="0.12">0</text>
<line x1="352.00" y1="181.53" x2="353.40" y2="181.53" stroke="#222" stroke-width="0.6" />
<line x1="352.00" y1="194.57" x2="353.40" y2="194.57" stroke="#222" stroke-width="0.6" />
<line x1="352.00" y1="207.62" x2="353.40" y2="207.62" stroke="#222" stroke-width="0.6" />
<line x1="352.00" y1="220.67" x2="353.40" y2="220.67" stroke="#222" stroke-width="0.6" />
<line x1="352.95" y1="227.20" x2="408.40" y2="227.20" stroke="#222" stroke-width="1.1" />
<line x1="358.70" y1="227.20" x2="358.70" y2="229.40" stroke="#222" stroke-width="0.7" />
<line x1="370.30" y1="227.20" x2="370.30" y2="229.40" stroke="#222" stroke-width="0.7" />
<line x1="382.00" y1="227.20" x2="382.00" y2="229.40" stroke="#222" stroke-width="0.7" />
<line x1="394.20" y1="227.20" x2="394.20" y2="229.40" stroke="#222" stroke-width="0.7" />
<line x1="405.60" y1="227.20" x2="405.60" y2="229.40" stroke="#222" stroke-width="0.7" />
<circle cx="365.40" cy="175.80" r="0.92" fill="#c8102e" />
<circle cx="367.93" cy="175.80" r="0.92" fill="#c8102e" />
<circle cx="370.47" cy="175.80" r="0.92" fill="#c8102e" />
<circle cx="373.00" cy="175.80" r="0.92" fill="#c8102e" />
<circle cx="375.53" cy="175.80" r="0.92" fill="#c8102e" />
<circle cx="378.07" cy="175.80" r="0.92" fill="#c8102e" />
<circle cx="380.60" cy="175.80" r="0.92" fill="#c8102e" />
<circle cx="383.13" cy="175.80" r="0.92" fill="#c8102e" />
<circle cx="385.67" cy="175.80" r="0.92" fill="#c8102e" />
<circle cx="388.20" cy="175.80" r="0.92" fill="#c8102e" />
<circle cx="390.73" cy="175.80" r="0.92" fill="#c8102e" />
<circle cx="393.27" cy="175.80" r="0.92" fill="#c8102e" />
<circle cx="395.80" cy="175.80" r="0.92" fill="#c8102e" />
<circle cx="398.33" cy="175.80" r="0.92" fill="#c8102e" />
<circle cx="400.87" cy="175.80" r="0.92" fill="#c8102e" />
<circle cx="403.40" cy="175.80" r="0.92" fill="#c8102e" />
<circle cx="405.93" cy="175.80" r="0.92" fill="#c8102e" />
<circle cx="408.47" cy="175.80" r="0.92" fill="#c8102e" />
<circle cx="411.00" cy="175.80" r="0.92" fill="#c8102e" />
<circle cx="365.30" cy="180.70" r="0.92" fill="#1a4a82" />
<circle cx="368.17" cy="180.70" r="0.92" fill="#1a4a82" />
<circle cx="371.03" cy="180.70" r="0.92" fill="#1a4a82" />
<circle cx="373.90" cy="180.70" r="0.92" fill="#1a4a82" />
<circle cx="378.25" cy="180.70" r="0.92" fill="#1a4a82" />
<circle cx="381.25" cy="180.70" r="0.92" fill="#1a4a82" />
<circle cx="384.25" cy="180.70" r="0.92" fill="#1a4a82" />
<circle cx="389.00" cy="180.70" r="0.92" fill="#1a4a82" />
<circle cx="391.71" cy="180.70" r="0.92" fill="#1a4a82" />
<circle cx="394.43" cy="180.70" r="0.92" fill="#1a4a82" />
<circle cx="397.14" cy="180.70" r="0.92" fill="#1a4a82" />
<circle cx="399.85" cy="180.70" r="0.92" fill="#1a4a82" />
<circle cx="402.56" cy="180.70" r="0.92" fill="#1a4a82" />
<circle cx="405.27" cy="180.70" r="0.92" fill="#1a4a82" />
<circle cx="407.99" cy="180.70" r="0.92" fill="#1a4a82" />
<circle cx="410.70" cy="180.70" r="0.92" fill="#1a4a82" />
<path d="M370.30,195.50 L382.00,193.40 L394.20,199.70 L405.60,199.00" fill="none" stroke="#1a4a82" stroke-width="0.7" stroke-dasharray="1.6,2.2"/>
<circle cx="370.30" cy="195.50" r="1.95" fill="#fff" stroke="#1a4a82" stroke-width="0.95" />
<circle cx="382.00" cy="193.40" r="1.95" fill="#fff" stroke="#1a4a82" stroke-width="0.95" />
<circle cx="394.20" cy="199.70" r="1.95" fill="#fff" stroke="#1a4a82" stroke-width="0.95" />
<line x1="405.60" y1="196.50" x2="405.60" y2="201.50" stroke="#1a4a82" stroke-width="0.6" />
<line x1="404.40" y1="196.50" x2="406.80" y2="196.50" stroke="#1a4a82" stroke-width="0.6" />
<line x1="404.40" y1="201.50" x2="406.80" y2="201.50" stroke="#1a4a82" stroke-width="0.6" />
<circle cx="405.60" cy="199.00" r="1.95" fill="#fff" stroke="#1a4a82" stroke-width="0.95" />
<path d="M358.70,191.90 L370.30,184.90 L382.00,189.10 L394.20,191.30 L405.60,188.50" fill="none" stroke="#c8102e" stroke-width="0.7" stroke-dasharray="1.6,2.2"/>
<circle cx="358.70" cy="191.90" r="1.95" fill="#fff" stroke="#c8102e" stroke-width="0.95" />
<circle cx="370.30" cy="184.90" r="1.95" fill="#fff" stroke="#c8102e" stroke-width="0.95" />
<circle cx="382.00" cy="189.10" r="1.95" fill="#fff" stroke="#c8102e" stroke-width="0.95" />
<circle cx="394.20" cy="191.30" r="1.95" fill="#fff" stroke="#c8102e" stroke-width="0.95" />
<line x1="405.60" y1="186.00" x2="405.60" y2="191.00" stroke="#c8102e" stroke-width="0.6" />
<line x1="404.40" y1="186.00" x2="406.80" y2="186.00" stroke="#c8102e" stroke-width="0.6" />
<line x1="404.40" y1="191.00" x2="406.80" y2="191.00" stroke="#c8102e" stroke-width="0.6" />
<circle cx="405.60" cy="188.50" r="1.95" fill="#fff" stroke="#c8102e" stroke-width="0.95" />
<path d="M358.70,198.20 L370.30,207.10 L382.00,200.80 L394.20,211.30 L405.60,209.70" fill="none" stroke="#1a4a82" stroke-width="0.95" />
<rect x="356.90" y="196.40" width="3.60" height="3.60" fill="#1a4a82" />
<rect x="368.50" y="205.30" width="3.60" height="3.60" fill="#1a4a82" />
<rect x="380.20" y="199.00" width="3.60" height="3.60" fill="#1a4a82" />
<rect x="392.40" y="209.50" width="3.60" height="3.60" fill="#1a4a82" />
<rect x="403.80" y="207.90" width="3.60" height="3.60" fill="#1a4a82" />
<path d="M358.70,193.40 L370.30,200.30 L382.00,204.60 L394.20,208.20 L405.60,209.20" fill="none" stroke="#c8102e" stroke-width="0.95" />
<rect x="356.90" y="191.60" width="3.60" height="3.60" fill="#c8102e" />
<rect x="368.50" y="198.50" width="3.60" height="3.60" fill="#c8102e" />
<rect x="380.20" y="202.80" width="3.60" height="3.60" fill="#c8102e" />
<rect x="392.40" y="206.40" width="3.60" height="3.60" fill="#c8102e" />
<rect x="403.80" y="207.40" width="3.60" height="3.60" fill="#c8102e" />
<text x="28.75" y="246.25" font-size="6.4" fill="#333" textLength="42.00" lengthAdjust="spacingAndGlyphs" stroke="#333" stroke-width="0.12"><tspan>Ter119 (</tspan><tspan fill="#4caf50" stroke="#4caf50" stroke-width="0.12">%GFP</tspan><tspan>)</tspan></text>
<line x1="23.00" y1="257.50" x2="23.00" y2="312.95" stroke="#222" stroke-width="1.1" />
<line x1="20.50" y1="259.50" x2="23.00" y2="259.50" stroke="#222" stroke-width="0.7" />
<text x="17.80" y="261.80" font-size="6.4" text-anchor="end" fill="#333" stroke="#333" stroke-width="0.12">100</text>
<line x1="20.50" y1="272.75" x2="23.00" y2="272.75" stroke="#222" stroke-width="0.7" />
<text x="17.80" y="275.05" font-size="6.4" text-anchor="end" fill="#333" stroke="#333" stroke-width="0.12">75</text>
<line x1="20.50" y1="286.00" x2="23.00" y2="286.00" stroke="#222" stroke-width="0.7" />
<text x="17.80" y="288.30" font-size="6.4" text-anchor="end" fill="#333" stroke="#333" stroke-width="0.12">50</text>
<line x1="20.50" y1="299.25" x2="23.00" y2="299.25" stroke="#222" stroke-width="0.7" />
<text x="17.80" y="301.55" font-size="6.4" text-anchor="end" fill="#333" stroke="#333" stroke-width="0.12">25</text>
<line x1="20.50" y1="312.50" x2="23.00" y2="312.50" stroke="#222" stroke-width="0.7" />
<text x="17.80" y="314.80" font-size="6.4" text-anchor="end" fill="#333" stroke="#333" stroke-width="0.12">0</text>
<line x1="21.60" y1="266.12" x2="23.00" y2="266.12" stroke="#222" stroke-width="0.6" />
<line x1="21.60" y1="279.38" x2="23.00" y2="279.38" stroke="#222" stroke-width="0.6" />
<line x1="21.60" y1="292.62" x2="23.00" y2="292.62" stroke="#222" stroke-width="0.6" />
<line x1="21.60" y1="305.88" x2="23.00" y2="305.88" stroke="#222" stroke-width="0.6" />
<line x1="22.55" y1="312.50" x2="77.50" y2="312.50" stroke="#222" stroke-width="1.1" />
<line x1="28.75" y1="312.50" x2="28.75" y2="314.70" stroke="#222" stroke-width="0.7" />
<text x="28.75" y="324.20" font-size="6.4" text-anchor="middle" fill="#333" stroke="#333" stroke-width="0.12">0</text>
<line x1="40.00" y1="312.50" x2="40.00" y2="314.70" stroke="#222" stroke-width="0.7" />
<text x="40.00" y="324.20" font-size="6.4" text-anchor="middle" fill="#333" stroke="#333" stroke-width="0.12">4</text>
<line x1="51.75" y1="312.50" x2="51.75" y2="314.70" stroke="#222" stroke-width="0.7" />
<text x="51.75" y="324.20" font-size="6.4" text-anchor="middle" fill="#333" stroke="#333" stroke-width="0.12">8</text>
<line x1="63.75" y1="312.50" x2="63.75" y2="314.70" stroke="#222" stroke-width="0.7" />
<text x="63.75" y="324.20" font-size="6.4" text-anchor="middle" fill="#333" stroke="#333" stroke-width="0.12">12</text>
<line x1="75.50" y1="312.50" x2="75.50" y2="314.70" stroke="#222" stroke-width="0.7" />
<text x="75.50" y="324.20" font-size="6.4" text-anchor="middle" fill="#333" stroke="#333" stroke-width="0.12">16</text>
<path d="M63.75,260.00 L75.50,260.00" fill="none" stroke="#1a4a82" stroke-width="0.7" stroke-dasharray="1.6,2.2"/>
<circle cx="63.75" cy="260.00" r="1.95" fill="#fff" stroke="#1a4a82" stroke-width="0.95" />
<circle cx="75.50" cy="260.00" r="1.95" fill="#fff" stroke="#1a4a82" stroke-width="0.95" />
<path d="M51.75,261.50 L63.75,261.50 L75.50,262.50" fill="none" stroke="#c8102e" stroke-width="0.7" stroke-dasharray="1.6,2.2"/>
<circle cx="51.75" cy="261.50" r="1.95" fill="#fff" stroke="#c8102e" stroke-width="0.95" />
<circle cx="63.75" cy="261.50" r="1.95" fill="#fff" stroke="#c8102e" stroke-width="0.95" />
<circle cx="75.50" cy="262.50" r="1.95" fill="#fff" stroke="#c8102e" stroke-width="0.95" />
<path d="M28.75,271.20 L40.00,263.00 L51.75,262.50 L63.75,263.50 L75.50,262.50" fill="none" stroke="#1a4a82" stroke-width="0.95" />
<rect x="26.95" y="269.40" width="3.60" height="3.60" fill="#1a4a82" />
<rect x="38.20" y="261.20" width="3.60" height="3.60" fill="#1a4a82" />
<rect x="49.95" y="260.70" width="3.60" height="3.60" fill="#1a4a82" />
<rect x="61.95" y="261.70" width="3.60" height="3.60" fill="#1a4a82" />
<rect x="73.70" y="260.70" width="3.60" height="3.60" fill="#1a4a82" />
<path d="M28.75,273.80 L40.00,263.00 L51.75,262.00 L63.75,265.00 L75.50,266.50" fill="none" stroke="#c8102e" stroke-width="0.95" />
<rect x="26.95" y="272.00" width="3.60" height="3.60" fill="#c8102e" />
<rect x="38.20" y="261.20" width="3.60" height="3.60" fill="#c8102e" />
<rect x="49.95" y="260.20" width="3.60" height="3.60" fill="#c8102e" />
<rect x="61.95" y="263.20" width="3.60" height="3.60" fill="#c8102e" />
<rect x="73.70" y="264.70" width="3.60" height="3.60" fill="#c8102e" />
<text x="113.00" y="245.80" font-size="6.4" fill="#333" textLength="38.50" lengthAdjust="spacingAndGlyphs" stroke="#333" stroke-width="0.12"><tspan>CD61 (</tspan><tspan fill="#4caf50" stroke="#4caf50" stroke-width="0.12">%GFP</tspan><tspan>)</tspan></text>
<line x1="104.50" y1="257.50" x2="104.50" y2="312.95" stroke="#222" stroke-width="1.1" />
<line x1="102.00" y1="259.50" x2="104.50" y2="259.50" stroke="#222" stroke-width="0.7" />
<text x="99.30" y="261.80" font-size="6.4" text-anchor="end" fill="#333" stroke="#333" stroke-width="0.12">100</text>
<line x1="102.00" y1="272.75" x2="104.50" y2="272.75" stroke="#222" stroke-width="0.7" />
<text x="99.30" y="275.05" font-size="6.4" text-anchor="end" fill="#333" stroke="#333" stroke-width="0.12">75</text>
<line x1="102.00" y1="286.00" x2="104.50" y2="286.00" stroke="#222" stroke-width="0.7" />
<text x="99.30" y="288.30" font-size="6.4" text-anchor="end" fill="#333" stroke="#333" stroke-width="0.12">50</text>
<line x1="102.00" y1="299.25" x2="104.50" y2="299.25" stroke="#222" stroke-width="0.7" />
<text x="99.30" y="301.55" font-size="6.4" text-anchor="end" fill="#333" stroke="#333" stroke-width="0.12">25</text>
<line x1="102.00" y1="312.50" x2="104.50" y2="312.50" stroke="#222" stroke-width="0.7" />
<text x="99.30" y="314.80" font-size="6.4" text-anchor="end" fill="#333" stroke="#333" stroke-width="0.12">0</text>
<line x1="103.10" y1="266.12" x2="104.50" y2="266.12" stroke="#222" stroke-width="0.6" />
<line x1="103.10" y1="279.38" x2="104.50" y2="279.38" stroke="#222" stroke-width="0.6" />
<line x1="103.10" y1="292.62" x2="104.50" y2="292.62" stroke="#222" stroke-width="0.6" />
<line x1="103.10" y1="305.88" x2="104.50" y2="305.88" stroke="#222" stroke-width="0.6" />
<line x1="104.05" y1="312.50" x2="161.40" y2="312.50" stroke="#222" stroke-width="1.1" />
<line x1="110.30" y1="312.50" x2="110.30" y2="314.70" stroke="#222" stroke-width="0.7" />
<text x="110.30" y="324.20" font-size="6.4" text-anchor="middle" fill="#333" stroke="#333" stroke-width="0.12">0</text>
<line x1="122.30" y1="312.50" x2="122.30" y2="314.70" stroke="#222" stroke-width="0.7" />
<text x="122.30" y="324.20" font-size="6.4" text-anchor="middle" fill="#333" stroke="#333" stroke-width="0.12">4</text>
<line x1="134.00" y1="312.50" x2="134.00" y2="314.70" stroke="#222" stroke-width="0.7" />
<text x="134.00" y="324.20" font-size="6.4" text-anchor="middle" fill="#333" stroke="#333" stroke-width="0.12">8</text>
<line x1="146.00" y1="312.50" x2="146.00" y2="314.70" stroke="#222" stroke-width="0.7" />
<text x="146.00" y="324.20" font-size="6.4" text-anchor="middle" fill="#333" stroke="#333" stroke-width="0.12">12</text>
<line x1="157.70" y1="312.50" x2="157.70" y2="314.70" stroke="#222" stroke-width="0.7" />
<text x="157.70" y="324.20" font-size="6.4" text-anchor="middle" fill="#333" stroke="#333" stroke-width="0.12">16</text>
<circle cx="122.30" cy="257.00" r="0.92" fill="#1a4a82" />
<circle cx="132.80" cy="257.00" r="0.92" fill="#1a4a82" />
<circle cx="135.20" cy="257.00" r="0.92" fill="#1a4a82" />
<circle cx="144.80" cy="257.00" r="0.92" fill="#1a4a82" />
<circle cx="147.20" cy="257.00" r="0.92" fill="#1a4a82" />
<circle cx="156.00" cy="252.80" r="0.92" fill="#c8102e" />
<circle cx="159.00" cy="252.80" r="0.92" fill="#c8102e" />
<path d="M122.30,269.80 L134.00,263.30 L146.00,261.20 L157.70,260.50" fill="none" stroke="#1a4a82" stroke-width="0.7" stroke-dasharray="1.6,2.2"/>
<circle cx="122.30" cy="269.80" r="1.95" fill="#fff" stroke="#1a4a82" stroke-width="0.95" />
<circle cx="134.00" cy="263.30" r="1.95" fill="#fff" stroke="#1a4a82" stroke-width="0.95" />
<circle cx="146.00" cy="261.20" r="1.95" fill="#fff" stroke="#1a4a82" stroke-width="0.95" />
<circle cx="157.70" cy="260.50" r="1.95" fill="#fff" stroke="#1a4a82" stroke-width="0.95" />
<circle cx="157.70" cy="266.70" r="1.95" fill="#fff" stroke="#c8102e" stroke-width="0.95" />
<path d="M110.30,285.80 L122.30,277.50 L134.00,273.50 L146.00,270.40 L157.70,268.20" fill="none" stroke="#1a4a82" stroke-width="0.95" />
<line x1="110.30" y1="283.80" x2="110.30" y2="287.80" stroke="#1a4a82" stroke-width="0.6" />
<line x1="109.10" y1="283.80" x2="111.50" y2="283.80" stroke="#1a4a82" stroke-width="0.6" />
<line x1="109.10" y1="287.80" x2="111.50" y2="287.80" stroke="#1a4a82" stroke-width="0.6" />
<rect x="108.50" y="284.00" width="3.60" height="3.60" fill="#1a4a82" />
<line x1="122.30" y1="275.00" x2="122.30" y2="280.00" stroke="#1a4a82" stroke-width="0.6" />
<line x1="121.10" y1="275.00" x2="123.50" y2="275.00" stroke="#1a4a82" stroke-width="0.6" />
<line x1="121.10" y1="280.00" x2="123.50" y2="280.00" stroke="#1a4a82" stroke-width="0.6" />
<rect x="120.50" y="275.70" width="3.60" height="3.60" fill="#1a4a82" />
<line x1="134.00" y1="270.50" x2="134.00" y2="276.50" stroke="#1a4a82" stroke-width="0.6" />
<line x1="132.80" y1="270.50" x2="135.20" y2="270.50" stroke="#1a4a82" stroke-width="0.6" />
<line x1="132.80" y1="276.50" x2="135.20" y2="276.50" stroke="#1a4a82" stroke-width="0.6" />
<rect x="132.20" y="271.70" width="3.60" height="3.60" fill="#1a4a82" />
<line x1="146.00" y1="267.40" x2="146.00" y2="273.40" stroke="#1a4a82" stroke-width="0.6" />
<line x1="144.80" y1="267.40" x2="147.20" y2="267.40" stroke="#1a4a82" stroke-width="0.6" />
<line x1="144.80" y1="273.40" x2="147.20" y2="273.40" stroke="#1a4a82" stroke-width="0.6" />
<rect x="144.20" y="268.60" width="3.60" height="3.60" fill="#1a4a82" />
<line x1="157.70" y1="265.20" x2="157.70" y2="271.20" stroke="#1a4a82" stroke-width="0.6" />
<line x1="156.50" y1="265.20" x2="158.90" y2="265.20" stroke="#1a4a82" stroke-width="0.6" />
<line x1="156.50" y1="271.20" x2="158.90" y2="271.20" stroke="#1a4a82" stroke-width="0.6" />
<rect x="155.90" y="266.40" width="3.60" height="3.60" fill="#1a4a82" />
<path d="M110.30,290.40 L122.30,281.00 L134.00,280.50 L146.00,276.50 L157.70,277.50" fill="none" stroke="#c8102e" stroke-width="0.95" />
<line x1="110.30" y1="288.40" x2="110.30" y2="292.40" stroke="#c8102e" stroke-width="0.6" />
<line x1="109.10" y1="288.40" x2="111.50" y2="288.40" stroke="#c8102e" stroke-width="0.6" />
<line x1="109.10" y1="292.40" x2="111.50" y2="292.40" stroke="#c8102e" stroke-width="0.6" />
<rect x="108.50" y="288.60" width="3.60" height="3.60" fill="#c8102e" />
<line x1="122.30" y1="278.00" x2="122.30" y2="284.00" stroke="#c8102e" stroke-width="0.6" />
<line x1="121.10" y1="278.00" x2="123.50" y2="278.00" stroke="#c8102e" stroke-width="0.6" />
<line x1="121.10" y1="284.00" x2="123.50" y2="284.00" stroke="#c8102e" stroke-width="0.6" />
<rect x="120.50" y="279.20" width="3.60" height="3.60" fill="#c8102e" />
<line x1="134.00" y1="277.00" x2="134.00" y2="284.00" stroke="#c8102e" stroke-width="0.6" />
<line x1="132.80" y1="277.00" x2="135.20" y2="277.00" stroke="#c8102e" stroke-width="0.6" />
<line x1="132.80" y1="284.00" x2="135.20" y2="284.00" stroke="#c8102e" stroke-width="0.6" />
<rect x="132.20" y="278.70" width="3.60" height="3.60" fill="#c8102e" />
<line x1="146.00" y1="273.00" x2="146.00" y2="280.00" stroke="#c8102e" stroke-width="0.6" />
<line x1="144.80" y1="273.00" x2="147.20" y2="273.00" stroke="#c8102e" stroke-width="0.6" />
<line x1="144.80" y1="280.00" x2="147.20" y2="280.00" stroke="#c8102e" stroke-width="0.6" />
<rect x="144.20" y="274.70" width="3.60" height="3.60" fill="#c8102e" />
<line x1="157.70" y1="273.50" x2="157.70" y2="281.50" stroke="#c8102e" stroke-width="0.6" />
<line x1="156.50" y1="273.50" x2="158.90" y2="273.50" stroke="#c8102e" stroke-width="0.6" />
<line x1="156.50" y1="281.50" x2="158.90" y2="281.50" stroke="#c8102e" stroke-width="0.6" />
<rect x="155.90" y="275.70" width="3.60" height="3.60" fill="#c8102e" />
<text x="198.30" y="245.80" font-size="6.4" fill="#333" textLength="34.00" lengthAdjust="spacingAndGlyphs" stroke="#333" stroke-width="0.12"><tspan>Gr1 (</tspan><tspan fill="#4caf50" stroke="#4caf50" stroke-width="0.12">%GFP</tspan><tspan>)</tspan></text>
<line x1="180.80" y1="257.50" x2="180.80" y2="312.95" stroke="#222" stroke-width="1.1" />
<line x1="178.30" y1="259.50" x2="180.80" y2="259.50" stroke="#222" stroke-width="0.7" />
<text x="175.60" y="261.80" font-size="6.4" text-anchor="end" fill="#333" stroke="#333" stroke-width="0.12">100</text>
<line x1="178.30" y1="272.75" x2="180.80" y2="272.75" stroke="#222" stroke-width="0.7" />
<text x="175.60" y="275.05" font-size="6.4" text-anchor="end" fill="#333" stroke="#333" stroke-width="0.12">75</text>
<line x1="178.30" y1="286.00" x2="180.80" y2="286.00" stroke="#222" stroke-width="0.7" />
<text x="175.60" y="288.30" font-size="6.4" text-anchor="end" fill="#333" stroke="#333" stroke-width="0.12">50</text>
<line x1="178.30" y1="299.25" x2="180.80" y2="299.25" stroke="#222" stroke-width="0.7" />
<text x="175.60" y="301.55" font-size="6.4" text-anchor="end" fill="#333" stroke="#333" stroke-width="0.12">25</text>
<line x1="178.30" y1="312.50" x2="180.80" y2="312.50" stroke="#222" stroke-width="0.7" />
<text x="175.60" y="314.80" font-size="6.4" text-anchor="end" fill="#333" stroke="#333" stroke-width="0.12">0</text>
<line x1="179.40" y1="266.12" x2="180.80" y2="266.12" stroke="#222" stroke-width="0.6" />
<line x1="179.40" y1="279.38" x2="180.80" y2="279.38" stroke="#222" stroke-width="0.6" />
<line x1="179.40" y1="292.62" x2="180.80" y2="292.62" stroke="#222" stroke-width="0.6" />
<line x1="179.40" y1="305.88" x2="180.80" y2="305.88" stroke="#222" stroke-width="0.6" />
<line x1="180.35" y1="312.50" x2="243.00" y2="312.50" stroke="#222" stroke-width="1.1" />
<line x1="193.00" y1="312.50" x2="193.00" y2="314.70" stroke="#222" stroke-width="0.7" />
<text x="193.00" y="324.20" font-size="6.4" text-anchor="middle" fill="#333" stroke="#333" stroke-width="0.12">0</text>
<line x1="204.50" y1="312.50" x2="204.50" y2="314.70" stroke="#222" stroke-width="0.7" />
<text x="204.50" y="324.20" font-size="6.4" text-anchor="middle" fill="#333" stroke="#333" stroke-width="0.12">4</text>
<line x1="216.00" y1="312.50" x2="216.00" y2="314.70" stroke="#222" stroke-width="0.7" />
<text x="216.00" y="324.20" font-size="6.4" text-anchor="middle" fill="#333" stroke="#333" stroke-width="0.12">8</text>
<line x1="227.80" y1="312.50" x2="227.80" y2="314.70" stroke="#222" stroke-width="0.7" />
<text x="227.80" y="324.20" font-size="6.4" text-anchor="middle" fill="#333" stroke="#333" stroke-width="0.12">12</text>
<line x1="239.80" y1="312.50" x2="239.80" y2="314.70" stroke="#222" stroke-width="0.7" />
<text x="239.80" y="324.20" font-size="6.4" text-anchor="middle" fill="#333" stroke="#333" stroke-width="0.12">16</text>
<circle cx="198.30" cy="253.50" r="0.92" fill="#c8102e" />
<circle cx="200.92" cy="253.50" r="0.92" fill="#c8102e" />
<circle cx="203.53" cy="253.50" r="0.92" fill="#c8102e" />
<circle cx="206.15" cy="253.50" r="0.92" fill="#c8102e" />
<circle cx="208.77" cy="253.50" r="0.92" fill="#c8102e" />
<circle cx="211.38" cy="253.50" r="0.92" fill="#c8102e" />
<circle cx="214.00" cy="253.50" r="0.92" fill="#c8102e" />
<circle cx="216.62" cy="253.50" r="0.92" fill="#c8102e" />
<circle cx="219.23" cy="253.50" r="0.92" fill="#c8102e" />
<circle cx="221.85" cy="253.50" r="0.92" fill="#c8102e" />
<circle cx="224.47" cy="253.50" r="0.92" fill="#c8102e" />
<circle cx="227.08" cy="253.50" r="0.92" fill="#c8102e" />
<circle cx="229.70" cy="253.50" r="0.92" fill="#c8102e" />
<circle cx="232.32" cy="253.50" r="0.92" fill="#c8102e" />
<circle cx="234.93" cy="253.50" r="0.92" fill="#c8102e" />
<circle cx="237.55" cy="253.50" r="0.92" fill="#c8102e" />
<circle cx="240.17" cy="253.50" r="0.92" fill="#c8102e" />
<circle cx="242.78" cy="253.50" r="0.92" fill="#c8102e" />
<circle cx="245.40" cy="253.50" r="0.92" fill="#c8102e" />
<circle cx="198.30" cy="257.20" r="0.92" fill="#1a4a82" />
<circle cx="200.92" cy="257.20" r="0.92" fill="#1a4a82" />
<circle cx="203.53" cy="257.20" r="0.92" fill="#1a4a82" />
<circle cx="206.15" cy="257.20" r="0.92" fill="#1a4a82" />
<circle cx="208.77" cy="257.20" r="0.92" fill="#1a4a82" />
<circle cx="211.38" cy="257.20" r="0.92" fill="#1a4a82" />
<circle cx="214.00" cy="257.20" r="0.92" fill="#1a4a82" />
<circle cx="216.62" cy="257.20" r="0.92" fill="#1a4a82" />
<circle cx="219.23" cy="257.20" r="0.92" fill="#1a4a82" />
<circle cx="221.85" cy="257.20" r="0.92" fill="#1a4a82" />
<circle cx="224.47" cy="257.20" r="0.92" fill="#1a4a82" />
<circle cx="227.08" cy="257.20" r="0.92" fill="#1a4a82" />
<circle cx="229.70" cy="257.20" r="0.92" fill="#1a4a82" />
<circle cx="232.32" cy="257.20" r="0.92" fill="#1a4a82" />
<circle cx="234.93" cy="257.20" r="0.92" fill="#1a4a82" />
<circle cx="237.55" cy="257.20" r="0.92" fill="#1a4a82" />
<circle cx="240.17" cy="257.20" r="0.92" fill="#1a4a82" />
<circle cx="242.78" cy="257.20" r="0.92" fill="#1a4a82" />
<circle cx="245.40" cy="257.20" r="0.92" fill="#1a4a82" />
<path d="M216.00,261.80 L227.80,261.80 L239.80,262.00" fill="none" stroke="#1a4a82" stroke-width="0.7" stroke-dasharray="1.6,2.2"/>
<circle cx="216.00" cy="261.80" r="1.95" fill="#fff" stroke="#1a4a82" stroke-width="0.95" />
<circle cx="227.80" cy="261.80" r="1.95" fill="#fff" stroke="#1a4a82" stroke-width="0.95" />
<circle cx="239.80" cy="262.00" r="1.95" fill="#fff" stroke="#1a4a82" stroke-width="0.95" />
<path d="M204.50,265.80 L216.00,265.80 L227.80,265.80 L239.80,265.00" fill="none" stroke="#c8102e" stroke-width="0.7" stroke-dasharray="1.6,2.2"/>
<circle cx="204.50" cy="265.80" r="1.95" fill="#fff" stroke="#c8102e" stroke-width="0.95" />
<circle cx="216.00" cy="265.80" r="1.95" fill="#fff" stroke="#c8102e" stroke-width="0.95" />
<circle cx="227.80" cy="265.80" r="1.95" fill="#fff" stroke="#c8102e" stroke-width="0.95" />
<circle cx="239.80" cy="265.00" r="1.95" fill="#fff" stroke="#c8102e" stroke-width="0.95" />
<path d="M193.00,274.40 L204.50,275.00 L216.00,274.40 L227.80,279.00 L239.80,276.00" fill="none" stroke="#1a4a82" stroke-width="0.95" />
<line x1="193.00" y1="272.40" x2="193.00" y2="276.40" stroke="#1a4a82" stroke-width="0.6" />
<line x1="191.80" y1="272.40" x2="194.20" y2="272.40" stroke="#1a4a82" stroke-width="0.6" />
<line x1="191.80" y1="276.40" x2="194.20" y2="276.40" stroke="#1a4a82" stroke-width="0.6" />
<rect x="191.20" y="272.60" width="3.60" height="3.60" fill="#1a4a82" />
<line x1="204.50" y1="273.00" x2="204.50" y2="277.00" stroke="#1a4a82" stroke-width="0.6" />
<line x1="203.30" y1="273.00" x2="205.70" y2="273.00" stroke="#1a4a82" stroke-width="0.6" />
<line x1="203.30" y1="277.00" x2="205.70" y2="277.00" stroke="#1a4a82" stroke-width="0.6" />
<rect x="202.70" y="273.20" width="3.60" height="3.60" fill="#1a4a82" />
<line x1="216.00" y1="271.90" x2="216.00" y2="276.90" stroke="#1a4a82" stroke-width="0.6" />
<line x1="214.80" y1="271.90" x2="217.20" y2="271.90" stroke="#1a4a82" stroke-width="0.6" />
<line x1="214.80" y1="276.90" x2="217.20" y2="276.90" stroke="#1a4a82" stroke-width="0.6" />
<rect x="214.20" y="272.60" width="3.60" height="3.60" fill="#1a4a82" />
<line x1="227.80" y1="277.00" x2="227.80" y2="281.00" stroke="#1a4a82" stroke-width="0.6" />
<line x1="226.60" y1="277.00" x2="229.00" y2="277.00" stroke="#1a4a82" stroke-width="0.6" />
<line x1="226.60" y1="281.00" x2="229.00" y2="281.00" stroke="#1a4a82" stroke-width="0.6" />
<rect x="226.00" y="277.20" width="3.60" height="3.60" fill="#1a4a82" />
<line x1="239.80" y1="273.50" x2="239.80" y2="278.50" stroke="#1a4a82" stroke-width="0.6" />
<line x1="238.60" y1="273.50" x2="241.00" y2="273.50" stroke="#1a4a82" stroke-width="0.6" />
<line x1="238.60" y1="278.50" x2="241.00" y2="278.50" stroke="#1a4a82" stroke-width="0.6" />
<rect x="238.00" y="274.20" width="3.60" height="3.60" fill="#1a4a82" />
<path d="M193.00,272.00 L204.50,274.40 L216.00,280.50 L227.80,279.60 L239.80,280.50" fill="none" stroke="#c8102e" stroke-width="0.95" />
<line x1="193.00" y1="269.50" x2="193.00" y2="274.50" stroke="#c8102e" stroke-width="0.6" />
<line x1="191.80" y1="269.50" x2="194.20" y2="269.50" stroke="#c8102e" stroke-width="0.6" />
<line x1="191.80" y1="274.50" x2="194.20" y2="274.50" stroke="#c8102e" stroke-width="0.6" />
<rect x="191.20" y="270.20" width="3.60" height="3.60" fill="#c8102e" />
<line x1="204.50" y1="272.40" x2="204.50" y2="276.40" stroke="#c8102e" stroke-width="0.6" />
<line x1="203.30" y1="272.40" x2="205.70" y2="272.40" stroke="#c8102e" stroke-width="0.6" />
<line x1="203.30" y1="276.40" x2="205.70" y2="276.40" stroke="#c8102e" stroke-width="0.6" />
<rect x="202.70" y="272.60" width="3.60" height="3.60" fill="#c8102e" />
<line x1="216.00" y1="278.00" x2="216.00" y2="283.00" stroke="#c8102e" stroke-width="0.6" />
<line x1="214.80" y1="278.00" x2="217.20" y2="278.00" stroke="#c8102e" stroke-width="0.6" />
<line x1="214.80" y1="283.00" x2="217.20" y2="283.00" stroke="#c8102e" stroke-width="0.6" />
<rect x="214.20" y="278.70" width="3.60" height="3.60" fill="#c8102e" />
<line x1="227.80" y1="277.60" x2="227.80" y2="281.60" stroke="#c8102e" stroke-width="0.6" />
<line x1="226.60" y1="277.60" x2="229.00" y2="277.60" stroke="#c8102e" stroke-width="0.6" />
<line x1="226.60" y1="281.60" x2="229.00" y2="281.60" stroke="#c8102e" stroke-width="0.6" />
<rect x="226.00" y="277.80" width="3.60" height="3.60" fill="#c8102e" />
<line x1="239.80" y1="277.50" x2="239.80" y2="283.50" stroke="#c8102e" stroke-width="0.6" />
<line x1="238.60" y1="277.50" x2="241.00" y2="277.50" stroke="#c8102e" stroke-width="0.6" />
<line x1="238.60" y1="283.50" x2="241.00" y2="283.50" stroke="#c8102e" stroke-width="0.6" />
<rect x="238.00" y="278.70" width="3.60" height="3.60" fill="#c8102e" />
<text x="276.30" y="245.40" font-size="6.4" fill="#333" textLength="44.00" lengthAdjust="spacingAndGlyphs" stroke="#333" stroke-width="0.12"><tspan>CD11b (</tspan><tspan fill="#4caf50" stroke="#4caf50" stroke-width="0.12">%GFP</tspan><tspan>)</tspan></text>
<line x1="271.20" y1="257.50" x2="271.20" y2="312.95" stroke="#222" stroke-width="1.1" />
<line x1="268.70" y1="259.50" x2="271.20" y2="259.50" stroke="#222" stroke-width="0.7" />
<text x="266.00" y="261.80" font-size="6.4" text-anchor="end" fill="#333" stroke="#333" stroke-width="0.12">100</text>
<line x1="268.70" y1="272.75" x2="271.20" y2="272.75" stroke="#222" stroke-width="0.7" />
<text x="266.00" y="275.05" font-size="6.4" text-anchor="end" fill="#333" stroke="#333" stroke-width="0.12">75</text>
<line x1="268.70" y1="286.00" x2="271.20" y2="286.00" stroke="#222" stroke-width="0.7" />
<text x="266.00" y="288.30" font-size="6.4" text-anchor="end" fill="#333" stroke="#333" stroke-width="0.12">50</text>
<line x1="268.70" y1="299.25" x2="271.20" y2="299.25" stroke="#222" stroke-width="0.7" />
<text x="266.00" y="301.55" font-size="6.4" text-anchor="end" fill="#333" stroke="#333" stroke-width="0.12">25</text>
<line x1="268.70" y1="312.50" x2="271.20" y2="312.50" stroke="#222" stroke-width="0.7" />
<text x="266.00" y="314.80" font-size="6.4" text-anchor="end" fill="#333" stroke="#333" stroke-width="0.12">0</text>
<line x1="269.80" y1="266.12" x2="271.20" y2="266.12" stroke="#222" stroke-width="0.6" />
<line x1="269.80" y1="279.38" x2="271.20" y2="279.38" stroke="#222" stroke-width="0.6" />
<line x1="269.80" y1="292.62" x2="271.20" y2="292.62" stroke="#222" stroke-width="0.6" />
<line x1="269.80" y1="305.88" x2="271.20" y2="305.88" stroke="#222" stroke-width="0.6" />
<line x1="270.75" y1="312.50" x2="326.50" y2="312.50" stroke="#222" stroke-width="1.1" />
<line x1="276.30" y1="312.50" x2="276.30" y2="314.70" stroke="#222" stroke-width="0.7" />
<text x="276.30" y="324.20" font-size="6.4" text-anchor="middle" fill="#333" stroke="#333" stroke-width="0.12">0</text>
<line x1="288.50" y1="312.50" x2="288.50" y2="314.70" stroke="#222" stroke-width="0.7" />
<text x="288.50" y="324.20" font-size="6.4" text-anchor="middle" fill="#333" stroke="#333" stroke-width="0.12">4</text>
<line x1="300.00" y1="312.50" x2="300.00" y2="314.70" stroke="#222" stroke-width="0.7" />
<text x="300.00" y="324.20" font-size="6.4" text-anchor="middle" fill="#333" stroke="#333" stroke-width="0.12">8</text>
<line x1="311.60" y1="312.50" x2="311.60" y2="314.70" stroke="#222" stroke-width="0.7" />
<text x="311.60" y="324.20" font-size="6.4" text-anchor="middle" fill="#333" stroke="#333" stroke-width="0.12">12</text>
<line x1="323.00" y1="312.50" x2="323.00" y2="314.70" stroke="#222" stroke-width="0.7" />
<text x="323.00" y="324.20" font-size="6.4" text-anchor="middle" fill="#333" stroke="#333" stroke-width="0.12">16</text>
<circle cx="311.60" cy="255.00" r="0.92" fill="#1a4a82" />
<path d="M300.00,261.00 L311.60,260.30 L323.00,261.00" fill="none" stroke="#1a4a82" stroke-width="0.7" stroke-dasharray="1.6,2.2"/>
<circle cx="300.00" cy="261.00" r="1.95" fill="#fff" stroke="#1a4a82" stroke-width="0.95" />
<circle cx="311.60" cy="260.30" r="1.95" fill="#fff" stroke="#1a4a82" stroke-width="0.95" />
<circle cx="323.00" cy="261.00" r="1.95" fill="#fff" stroke="#1a4a82" stroke-width="0.95" />
<circle cx="311.60" cy="264.00" r="1.95" fill="#fff" stroke="#c8102e" stroke-width="0.95" />
<path d="M276.30,277.20 L288.50,267.50 L300.00,267.50 L311.60,268.50 L323.00,267.50" fill="none" stroke="#1a4a82" stroke-width="0.95" />
<line x1="276.30" y1="275.20" x2="276.30" y2="279.20" stroke="#1a4a82" stroke-width="0.6" />
<line x1="275.10" y1="275.20" x2="277.50" y2="275.20" stroke="#1a4a82" stroke-width="0.6" />
<line x1="275.10" y1="279.20" x2="277.50" y2="279.20" stroke="#1a4a82" stroke-width="0.6" />
<rect x="274.50" y="275.40" width="3.60" height="3.60" fill="#1a4a82" />
<line x1="288.50" y1="266.00" x2="288.50" y2="269.00" stroke="#1a4a82" stroke-width="0.6" />
<line x1="287.30" y1="266.00" x2="289.70" y2="266.00" stroke="#1a4a82" stroke-width="0.6" />
<line x1="287.30" y1="269.00" x2="289.70" y2="269.00" stroke="#1a4a82" stroke-width="0.6" />
<rect x="286.70" y="265.70" width="3.60" height="3.60" fill="#1a4a82" />
<line x1="300.00" y1="265.50" x2="300.00" y2="269.50" stroke="#1a4a82" stroke-width="0.6" />
<line x1="298.80" y1="265.50" x2="301.20" y2="265.50" stroke="#1a4a82" stroke-width="0.6" />
<line x1="298.80" y1="269.50" x2="301.20" y2="269.50" stroke="#1a4a82" stroke-width="0.6" />
<rect x="298.20" y="265.70" width="3.60" height="3.60" fill="#1a4a82" />
<line x1="311.60" y1="266.00" x2="311.60" y2="271.00" stroke="#1a4a82" stroke-width="0.6" />
<line x1="310.40" y1="266.00" x2="312.80" y2="266.00" stroke="#1a4a82" stroke-width="0.6" />
<line x1="310.40" y1="271.00" x2="312.80" y2="271.00" stroke="#1a4a82" stroke-width="0.6" />
<rect x="309.80" y="266.70" width="3.60" height="3.60" fill="#1a4a82" />
<line x1="323.00" y1="265.50" x2="323.00" y2="269.50" stroke="#1a4a82" stroke-width="0.6" />
<line x1="321.80" y1="265.50" x2="324.20" y2="265.50" stroke="#1a4a82" stroke-width="0.6" />
<line x1="321.80" y1="269.50" x2="324.20" y2="269.50" stroke="#1a4a82" stroke-width="0.6" />
<rect x="321.20" y="265.70" width="3.60" height="3.60" fill="#1a4a82" />
<path d="M276.30,272.40 L288.50,267.20 L300.00,268.60 L311.60,267.20 L323.00,268.60" fill="none" stroke="#c8102e" stroke-width="0.95" />
<line x1="276.30" y1="269.90" x2="276.30" y2="274.90" stroke="#c8102e" stroke-width="0.6" />
<line x1="275.10" y1="269.90" x2="277.50" y2="269.90" stroke="#c8102e" stroke-width="0.6" />
<line x1="275.10" y1="274.90" x2="277.50" y2="274.90" stroke="#c8102e" stroke-width="0.6" />
<rect x="274.50" y="270.60" width="3.60" height="3.60" fill="#c8102e" />
<line x1="288.50" y1="265.20" x2="288.50" y2="269.20" stroke="#c8102e" stroke-width="0.6" />
<line x1="287.30" y1="265.20" x2="289.70" y2="265.20" stroke="#c8102e" stroke-width="0.6" />
<line x1="287.30" y1="269.20" x2="289.70" y2="269.20" stroke="#c8102e" stroke-width="0.6" />
<rect x="286.70" y="265.40" width="3.60" height="3.60" fill="#c8102e" />
<line x1="300.00" y1="265.60" x2="300.00" y2="271.60" stroke="#c8102e" stroke-width="0.6" />
<line x1="298.80" y1="265.60" x2="301.20" y2="265.60" stroke="#c8102e" stroke-width="0.6" />
<line x1="298.80" y1="271.60" x2="301.20" y2="271.60" stroke="#c8102e" stroke-width="0.6" />
<rect x="298.20" y="266.80" width="3.60" height="3.60" fill="#c8102e" />
<line x1="311.60" y1="264.20" x2="311.60" y2="270.20" stroke="#c8102e" stroke-width="0.6" />
<line x1="310.40" y1="264.20" x2="312.80" y2="264.20" stroke="#c8102e" stroke-width="0.6" />
<line x1="310.40" y1="270.20" x2="312.80" y2="270.20" stroke="#c8102e" stroke-width="0.6" />
<rect x="309.80" y="265.40" width="3.60" height="3.60" fill="#c8102e" />
<line x1="323.00" y1="265.10" x2="323.00" y2="272.10" stroke="#c8102e" stroke-width="0.6" />
<line x1="321.80" y1="265.10" x2="324.20" y2="265.10" stroke="#c8102e" stroke-width="0.6" />
<line x1="321.80" y1="272.10" x2="324.20" y2="272.10" stroke="#c8102e" stroke-width="0.6" />
<rect x="321.20" y="266.80" width="3.60" height="3.60" fill="#c8102e" />
<text x="361.80" y="245.40" font-size="6.4" fill="#333" textLength="38.20" lengthAdjust="spacingAndGlyphs" stroke="#333" stroke-width="0.12"><tspan>B220 (</tspan><tspan fill="#4caf50" stroke="#4caf50" stroke-width="0.12">%GFP</tspan><tspan>)</tspan></text>
<line x1="352.50" y1="257.50" x2="352.50" y2="312.95" stroke="#222" stroke-width="1.1" />
<line x1="350.00" y1="259.50" x2="352.50" y2="259.50" stroke="#222" stroke-width="0.7" />
<text x="347.30" y="261.80" font-size="6.4" text-anchor="end" fill="#333" stroke="#333" stroke-width="0.12">100</text>
<line x1="350.00" y1="272.75" x2="352.50" y2="272.75" stroke="#222" stroke-width="0.7" />
<text x="347.30" y="275.05" font-size="6.4" text-anchor="end" fill="#333" stroke="#333" stroke-width="0.12">75</text>
<line x1="350.00" y1="286.00" x2="352.50" y2="286.00" stroke="#222" stroke-width="0.7" />
<text x="347.30" y="288.30" font-size="6.4" text-anchor="end" fill="#333" stroke="#333" stroke-width="0.12">50</text>
<line x1="350.00" y1="299.25" x2="352.50" y2="299.25" stroke="#222" stroke-width="0.7" />
<text x="347.30" y="301.55" font-size="6.4" text-anchor="end" fill="#333" stroke="#333" stroke-width="0.12">25</text>
<line x1="350.00" y1="312.50" x2="352.50" y2="312.50" stroke="#222" stroke-width="0.7" />
<text x="347.30" y="314.80" font-size="6.4" text-anchor="end" fill="#333" stroke="#333" stroke-width="0.12">0</text>
<line x1="351.10" y1="266.12" x2="352.50" y2="266.12" stroke="#222" stroke-width="0.6" />
<line x1="351.10" y1="279.38" x2="352.50" y2="279.38" stroke="#222" stroke-width="0.6" />
<line x1="351.10" y1="292.62" x2="352.50" y2="292.62" stroke="#222" stroke-width="0.6" />
<line x1="351.10" y1="305.88" x2="352.50" y2="305.88" stroke="#222" stroke-width="0.6" />
<line x1="352.05" y1="312.50" x2="408.50" y2="312.50" stroke="#222" stroke-width="1.1" />
<line x1="358.70" y1="312.50" x2="358.70" y2="314.70" stroke="#222" stroke-width="0.7" />
<text x="358.70" y="324.20" font-size="6.4" text-anchor="middle" fill="#333" stroke="#333" stroke-width="0.12">0</text>
<line x1="370.50" y1="312.50" x2="370.50" y2="314.70" stroke="#222" stroke-width="0.7" />
<text x="370.50" y="324.20" font-size="6.4" text-anchor="middle" fill="#333" stroke="#333" stroke-width="0.12">4</text>
<line x1="382.00" y1="312.50" x2="382.00" y2="314.70" stroke="#222" stroke-width="0.7" />
<text x="382.00" y="324.20" font-size="6.4" text-anchor="middle" fill="#333" stroke="#333" stroke-width="0.12">8</text>
<line x1="394.00" y1="312.50" x2="394.00" y2="314.70" stroke="#222" stroke-width="0.7" />
<text x="394.00" y="324.20" font-size="6.4" text-anchor="middle" fill="#333" stroke="#333" stroke-width="0.12">12</text>
<line x1="405.50" y1="312.50" x2="405.50" y2="314.70" stroke="#222" stroke-width="0.7" />
<text x="405.50" y="324.20" font-size="6.4" text-anchor="middle" fill="#333" stroke="#333" stroke-width="0.12">16</text>
<circle cx="380.50" cy="258.50" r="0.92" fill="#c8102e" />
<circle cx="383.50" cy="258.50" r="0.92" fill="#c8102e" />
<circle cx="392.50" cy="258.50" r="0.92" fill="#c8102e" />
<circle cx="395.50" cy="258.50" r="0.92" fill="#c8102e" />
<circle cx="404.00" cy="258.50" r="0.92" fill="#c8102e" />
<circle cx="407.00" cy="258.50" r="0.92" fill="#c8102e" />
<path d="M370.50,301.80 L382.00,294.90" fill="none" stroke="#1a4a82" stroke-width="0.7" stroke-dasharray="1.6,2.2"/>
<circle cx="370.50" cy="301.80" r="1.95" fill="#fff" stroke="#1a4a82" stroke-width="0.95" />
<circle cx="382.00" cy="294.90" r="1.95" fill="#fff" stroke="#1a4a82" stroke-width="0.95" />
<path d="M382.00,286.20 L394.00,286.20 L405.50,283.50" fill="none" stroke="#c8102e" stroke-width="0.7" stroke-dasharray="1.6,2.2"/>
<circle cx="382.00" cy="286.20" r="1.95" fill="#fff" stroke="#c8102e" stroke-width="0.95" />
<circle cx="394.00" cy="286.20" r="1.95" fill="#fff" stroke="#c8102e" stroke-width="0.95" />
<circle cx="405.50" cy="283.50" r="1.95" fill="#fff" stroke="#c8102e" stroke-width="0.95" />
<path d="M358.70,298.00 L370.50,306.00 L382.00,298.30 L394.00,306.70 L405.50,295.60" fill="none" stroke="#1a4a82" stroke-width="0.95" />
<line x1="358.70" y1="296.50" x2="358.70" y2="299.50" stroke="#1a4a82" stroke-width="0.6" />
<line x1="357.50" y1="296.50" x2="359.90" y2="296.50" stroke="#1a4a82" stroke-width="0.6" />
<line x1="357.50" y1="299.50" x2="359.90" y2="299.50" stroke="#1a4a82" stroke-width="0.6" />
<rect x="356.90" y="296.20" width="3.60" height="3.60" fill="#1a4a82" />
<line x1="370.50" y1="304.50" x2="370.50" y2="307.50" stroke="#1a4a82" stroke-width="0.6" />
<line x1="369.30" y1="304.50" x2="371.70" y2="304.50" stroke="#1a4a82" stroke-width="0.6" />
<line x1="369.30" y1="307.50" x2="371.70" y2="307.50" stroke="#1a4a82" stroke-width="0.6" />
<rect x="368.70" y="304.20" width="3.60" height="3.60" fill="#1a4a82" />
<line x1="382.00" y1="296.30" x2="382.00" y2="300.30" stroke="#1a4a82" stroke-width="0.6" />
<line x1="380.80" y1="296.30" x2="383.20" y2="296.30" stroke="#1a4a82" stroke-width="0.6" />
<line x1="380.80" y1="300.30" x2="383.20" y2="300.30" stroke="#1a4a82" stroke-width="0.6" />
<rect x="380.20" y="296.50" width="3.60" height="3.60" fill="#1a4a82" />
<line x1="394.00" y1="305.20" x2="394.00" y2="308.20" stroke="#1a4a82" stroke-width="0.6" />
<line x1="392.80" y1="305.20" x2="395.20" y2="305.20" stroke="#1a4a82" stroke-width="0.6" />
<line x1="392.80" y1="308.20" x2="395.20" y2="308.20" stroke="#1a4a82" stroke-width="0.6" />
<rect x="392.20" y="304.90" width="3.60" height="3.60" fill="#1a4a82" />
<line x1="405.50" y1="293.60" x2="405.50" y2="297.60" stroke="#1a4a82" stroke-width="0.6" />
<line x1="404.30" y1="293.60" x2="406.70" y2="293.60" stroke="#1a4a82" stroke-width="0.6" />
<line x1="404.30" y1="297.60" x2="406.70" y2="297.60" stroke="#1a4a82" stroke-width="0.6" />
<rect x="403.70" y="293.80" width="3.60" height="3.60" fill="#1a4a82" />
<path d="M358.70,293.20 L370.50,295.60 L382.00,292.10 L394.00,291.40 L405.50,289.70" fill="none" stroke="#c8102e" stroke-width="0.95" />
<line x1="358.70" y1="291.70" x2="358.70" y2="294.70" stroke="#c8102e" stroke-width="0.6" />
<line x1="357.50" y1="291.70" x2="359.90" y2="291.70" stroke="#c8102e" stroke-width="0.6" />
<line x1="357.50" y1="294.70" x2="359.90" y2="294.70" stroke="#c8102e" stroke-width="0.6" />
<rect x="356.90" y="291.40" width="3.60" height="3.60" fill="#c8102e" />
<line x1="370.50" y1="293.60" x2="370.50" y2="297.60" stroke="#c8102e" stroke-width="0.6" />
<line x1="369.30" y1="293.60" x2="371.70" y2="293.60" stroke="#c8102e" stroke-width="0.6" />
<line x1="369.30" y1="297.60" x2="371.70" y2="297.60" stroke="#c8102e" stroke-width="0.6" />
<rect x="368.70" y="293.80" width="3.60" height="3.60" fill="#c8102e" />
<line x1="382.00" y1="290.10" x2="382.00" y2="294.10" stroke="#c8102e" stroke-width="0.6" />
<line x1="380.80" y1="290.10" x2="383.20" y2="290.10" stroke="#c8102e" stroke-width="0.6" />
<line x1="380.80" y1="294.10" x2="383.20" y2="294.10" stroke="#c8102e" stroke-width="0.6" />
<rect x="380.20" y="290.30" width="3.60" height="3.60" fill="#c8102e" />
<line x1="394.00" y1="288.90" x2="394.00" y2="293.90" stroke="#c8102e" stroke-width="0.6" />
<line x1="392.80" y1="288.90" x2="395.20" y2="288.90" stroke="#c8102e" stroke-width="0.6" />
<line x1="392.80" y1="293.90" x2="395.20" y2="293.90" stroke="#c8102e" stroke-width="0.6" />
<rect x="392.20" y="289.60" width="3.60" height="3.60" fill="#c8102e" />
<line x1="405.50" y1="287.20" x2="405.50" y2="292.20" stroke="#c8102e" stroke-width="0.6" />
<line x1="404.30" y1="287.20" x2="406.70" y2="287.20" stroke="#c8102e" stroke-width="0.6" />
<line x1="404.30" y1="292.20" x2="406.70" y2="292.20" stroke="#c8102e" stroke-width="0.6" />
<rect x="403.70" y="287.90" width="3.60" height="3.60" fill="#c8102e" />
<text x="214.20" y="335.90" font-size="7.6" text-anchor="middle" fill="#333" textLength="19.20" lengthAdjust="spacingAndGlyphs" stroke="#333" stroke-width="0.12">Weeks</text>
<text x="429.00" y="273.60" font-size="6.8" fill="#c8102e" textLength="7.40" lengthAdjust="spacingAndGlyphs" font-style="italic" stroke="#c8102e" stroke-width="0.12">VF</text>
<text x="440.7" y="273.6" font-size="6.8" font-style="italic" fill="#3a6fa8" stroke="#3a6fa8" stroke-width="0.12">VF;Dm<tspan font-size="4" dy="-2.8">Δ/Δ</tspan></text>
<circle cx="432.80" cy="282.50" r="1.80" fill="#fff" stroke="#c8102e" stroke-width="0.8" />
<circle cx="447.00" cy="282.50" r="1.80" fill="#fff" stroke="#1a4a82" stroke-width="0.8" />
<text x="456.00" y="284.60" font-size="6.6" fill="#aaa" textLength="30.00" lengthAdjust="spacingAndGlyphs" stroke="#aaa" stroke-width="0.12">Vehicle (V)</text>
<rect x="430.80" y="289.00" width="4.00" height="4.00" fill="#c8102e" />
<rect x="445.00" y="289.00" width="4.00" height="4.00" fill="#1a4a82" />
<text x="456.00" y="293.40" font-size="6.6" fill="#f0a850" textLength="35.40" lengthAdjust="spacingAndGlyphs" stroke="#f0a850" stroke-width="0.12">pegIFNα (IF)</text>
<text x="421.00" y="143.60" font-size="10.5" fill="#111" font-weight="bold" stroke="#111" stroke-width="0.12">D</text>
<text x="440.20" y="144.30" font-size="8.4" fill="#333" textLength="66.70" lengthAdjust="spacingAndGlyphs" stroke="#333" stroke-width="0.12">Spleen weight (g)</text>
<text x="457.90" y="157.80" font-size="6.8" fill="#c8102e" textLength="7.90" lengthAdjust="spacingAndGlyphs" font-style="italic" stroke="#c8102e" stroke-width="0.12">VF</text>
<text x="473.6" y="157.8" font-size="6.8" font-style="italic" fill="#3a6fa8" stroke="#3a6fa8" stroke-width="0.12">VF;Dm<tspan font-size="4" dy="-2.8">Δ/Δ</tspan></text>
<rect x="448.75" y="211.90" width="51.25" height="4.60" fill="#dcdcdc" />
<line x1="446.90" y1="171.90" x2="446.90" y2="227.65" stroke="#222" stroke-width="1.1" />
<line x1="444.40" y1="174.60" x2="446.90" y2="174.60" stroke="#222" stroke-width="0.7" />
<text x="440.70" y="176.90" font-size="6.4" text-anchor="end" fill="#333" stroke="#333" stroke-width="0.12">0.4</text>
<line x1="444.40" y1="187.75" x2="446.90" y2="187.75" stroke="#222" stroke-width="0.7" />
<text x="440.70" y="190.05" font-size="6.4" text-anchor="end" fill="#333" stroke="#333" stroke-width="0.12">0.3</text>
<line x1="444.40" y1="200.90" x2="446.90" y2="200.90" stroke="#222" stroke-width="0.7" />
<text x="440.70" y="203.20" font-size="6.4" text-anchor="end" fill="#333" stroke="#333" stroke-width="0.12">0.2</text>
<line x1="444.40" y1="214.00" x2="446.90" y2="214.00" stroke="#222" stroke-width="0.7" />
<text x="440.70" y="216.30" font-size="6.4" text-anchor="end" fill="#333" stroke="#333" stroke-width="0.12">0.1</text>
<line x1="444.40" y1="227.10" x2="446.90" y2="227.10" stroke="#222" stroke-width="0.7" />
<text x="440.70" y="229.40" font-size="6.4" text-anchor="end" fill="#333" stroke="#333" stroke-width="0.12">0</text>
<line x1="446.45" y1="227.20" x2="499.40" y2="227.20" stroke="#222" stroke-width="1.1" />
<line x1="455.25" y1="227.20" x2="455.25" y2="229.40" stroke="#222" stroke-width="0.7" />
<line x1="467.50" y1="227.20" x2="467.50" y2="229.40" stroke="#222" stroke-width="0.7" />
<line x1="479.40" y1="227.20" x2="479.40" y2="229.40" stroke="#222" stroke-width="0.7" />
<line x1="491.90" y1="227.20" x2="491.90" y2="229.40" stroke="#222" stroke-width="0.7" />
<text x="455.25" y="237.70" font-size="6.2" text-anchor="middle" fill="#333" stroke="#333" stroke-width="0.12">V</text>
<text x="467.50" y="237.70" font-size="6.2" text-anchor="middle" fill="#f0a850" stroke="#f0a850" stroke-width="0.12">IF</text>
<text x="479.40" y="237.70" font-size="6.2" text-anchor="middle" fill="#333" stroke="#333" stroke-width="0.12">V</text>
<text x="491.90" y="237.70" font-size="6.2" text-anchor="middle" fill="#f0a850" stroke="#f0a850" stroke-width="0.12">IF</text>
<path d="M455.25,169 L455.25,167.5 L479.4,167.5 L479.4,169" fill="none" stroke="#333" stroke-width="0.6" />
<circle cx="465.80" cy="165.20" r="0.80" fill="#222" />
<circle cx="468.80" cy="165.20" r="0.80" fill="#222" />
<path d="M455.25,174 L455.25,172.5 L467.5,172.5 L467.5,174" fill="none" stroke="#c86070" stroke-width="0.6" />
<circle cx="459.80" cy="170.20" r="0.80" fill="#c8102e" />
<circle cx="462.80" cy="170.20" r="0.80" fill="#c8102e" />
<circle cx="452.30" cy="179.80" r="1.40" fill="#fff" stroke="#c8102e" stroke-width="0.7" />
<circle cx="458.10" cy="178.10" r="1.40" fill="#fff" stroke="#c8102e" stroke-width="0.7" />
<circle cx="452.50" cy="190.50" r="1.40" fill="#fff" stroke="#c8102e" stroke-width="0.7" />
<circle cx="455.50" cy="190.00" r="1.40" fill="#fff" stroke="#c8102e" stroke-width="0.7" />
<circle cx="458.00" cy="191.00" r="1.40" fill="#fff" stroke="#c8102e" stroke-width="0.7" />
<circle cx="451.00" cy="193.50" r="1.40" fill="#fff" stroke="#c8102e" stroke-width="0.7" />
<circle cx="455.00" cy="193.00" r="1.40" fill="#fff" stroke="#c8102e" stroke-width="0.7" />
<circle cx="458.50" cy="194.50" r="1.40" fill="#fff" stroke="#c8102e" stroke-width="0.7" />
<circle cx="451.50" cy="196.50" r="1.40" fill="#fff" stroke="#c8102e" stroke-width="0.7" />
<circle cx="455.00" cy="197.50" r="1.40" fill="#fff" stroke="#c8102e" stroke-width="0.7" />
<circle cx="458.50" cy="197.50" r="1.40" fill="#fff" stroke="#c8102e" stroke-width="0.7" />
<circle cx="452.00" cy="200.50" r="1.40" fill="#fff" stroke="#c8102e" stroke-width="0.7" />
<circle cx="456.00" cy="200.00" r="1.40" fill="#fff" stroke="#c8102e" stroke-width="0.7" />
<circle cx="458.00" cy="201.50" r="1.40" fill="#fff" stroke="#c8102e" stroke-width="0.7" />
<circle cx="455.30" cy="204.00" r="1.40" fill="#fff" stroke="#c8102e" stroke-width="0.7" />
<circle cx="463.50" cy="197.30" r="1.35" fill="#c8102e" />
<circle cx="470.50" cy="197.30" r="1.35" fill="#c8102e" />
<circle cx="466.00" cy="199.50" r="1.35" fill="#c8102e" />
<circle cx="469.00" cy="199.50" r="1.35" fill="#c8102e" />
<circle cx="464.00" cy="201.50" r="1.35" fill="#c8102e" />
<circle cx="467.50" cy="201.50" r="1.35" fill="#c8102e" />
<circle cx="471.00" cy="201.50" r="1.35" fill="#c8102e" />
<circle cx="462.80" cy="203.50" r="1.35" fill="#c8102e" />
<circle cx="466.00" cy="203.50" r="1.35" fill="#c8102e" />
<circle cx="469.00" cy="203.50" r="1.35" fill="#c8102e" />
<circle cx="472.00" cy="203.50" r="1.35" fill="#c8102e" />
<circle cx="464.50" cy="205.50" r="1.35" fill="#c8102e" />
<circle cx="468.00" cy="205.50" r="1.35" fill="#c8102e" />
<circle cx="471.00" cy="205.50" r="1.35" fill="#c8102e" />
<circle cx="466.00" cy="207.50" r="1.35" fill="#c8102e" />
<circle cx="469.00" cy="207.50" r="1.35" fill="#c8102e" />
<circle cx="467.50" cy="209.80" r="1.35" fill="#c8102e" />
<circle cx="479.50" cy="177.20" r="1.25" fill="#fff" stroke="#1a4a82" stroke-width="0.65" />
<circle cx="479.50" cy="197.60" r="1.25" fill="#fff" stroke="#1a4a82" stroke-width="0.65" />
<circle cx="477.50" cy="199.80" r="1.25" fill="#fff" stroke="#1a4a82" stroke-width="0.65" />
<circle cx="481.50" cy="199.80" r="1.25" fill="#fff" stroke="#1a4a82" stroke-width="0.65" />
<circle cx="476.00" cy="202.00" r="1.25" fill="#fff" stroke="#1a4a82" stroke-width="0.65" />
<circle cx="479.50" cy="202.00" r="1.25" fill="#fff" stroke="#1a4a82" stroke-width="0.65" />
<circle cx="483.00" cy="202.00" r="1.25" fill="#fff" stroke="#1a4a82" stroke-width="0.65" />
<circle cx="475.50" cy="204.50" r="1.25" fill="#fff" stroke="#1a4a82" stroke-width="0.65" />
<circle cx="479.00" cy="204.50" r="1.25" fill="#fff" stroke="#1a4a82" stroke-width="0.65" />
<circle cx="482.50" cy="204.50" r="1.25" fill="#fff" stroke="#1a4a82" stroke-width="0.65" />
<circle cx="477.00" cy="207.00" r="1.25" fill="#fff" stroke="#1a4a82" stroke-width="0.65" />
<circle cx="481.00" cy="207.00" r="1.25" fill="#fff" stroke="#1a4a82" stroke-width="0.65" />
<circle cx="476.50" cy="209.50" r="1.25" fill="#fff" stroke="#1a4a82" stroke-width="0.65" />
<circle cx="480.00" cy="209.50" r="1.25" fill="#fff" stroke="#1a4a82" stroke-width="0.65" />
<circle cx="483.00" cy="209.50" r="1.25" fill="#fff" stroke="#1a4a82" stroke-width="0.65" />
<circle cx="478.00" cy="212.00" r="1.25" fill="#fff" stroke="#1a4a82" stroke-width="0.65" />
<circle cx="481.50" cy="212.00" r="1.25" fill="#fff" stroke="#1a4a82" stroke-width="0.65" />
<circle cx="479.50" cy="214.50" r="1.25" fill="#fff" stroke="#1a4a82" stroke-width="0.65" />
<circle cx="491.90" cy="184.00" r="1.35" fill="#1a4a82" />
<circle cx="488.60" cy="188.00" r="1.35" fill="#1a4a82" />
<circle cx="495.20" cy="188.00" r="1.35" fill="#1a4a82" />
<circle cx="491.90" cy="192.20" r="1.35" fill="#1a4a82" />
<circle cx="488.50" cy="196.80" r="1.35" fill="#1a4a82" />
<circle cx="491.90" cy="196.50" r="1.35" fill="#1a4a82" />
<circle cx="495.30" cy="196.80" r="1.35" fill="#1a4a82" />
<circle cx="487.80" cy="199.00" r="1.35" fill="#1a4a82" />
<circle cx="491.00" cy="199.00" r="1.35" fill="#1a4a82" />
<circle cx="494.50" cy="199.00" r="1.35" fill="#1a4a82" />
<circle cx="496.50" cy="199.00" r="1.35" fill="#1a4a82" />
<circle cx="489.50" cy="201.30" r="1.35" fill="#1a4a82" />
<circle cx="493.00" cy="201.30" r="1.35" fill="#1a4a82" />
<circle cx="491.20" cy="203.50" r="1.35" fill="#1a4a82" />
<circle cx="491.90" cy="213.30" r="1.35" fill="#1a4a82" />
<line x1="449.50" y1="194.40" x2="460.50" y2="194.40" stroke="#333" stroke-width="0.8" />
<line x1="461.50" y1="203.40" x2="473.50" y2="203.40" stroke="#222" stroke-width="0.9" />
<line x1="474.00" y1="204.20" x2="485.50" y2="204.20" stroke="#222" stroke-width="0.9" />
<line x1="486.50" y1="198.40" x2="497.50" y2="198.40" stroke="#222" stroke-width="0.9" />
<text x="6.50" y="357.50" font-size="10.5" fill="#111" font-weight="bold" stroke="#111" stroke-width="0.12">E</text>
<text x="111.00" y="357.50" font-size="8.5" fill="#333" textLength="247.00" lengthAdjust="spacingAndGlyphs" stroke="#333" stroke-width="0.12">Frequency and GFP chimerism in HSPCs cells from bone marrow</text>
<text x="58.45" y="370.30" font-size="6.5" text-anchor="middle" fill="#333" textLength="21.50" lengthAdjust="spacingAndGlyphs" stroke="#333" stroke-width="0.12">LT-HSC</text>
<line x1="32.30" y1="375.40" x2="84.60" y2="375.40" stroke="#444" stroke-width="1.0" />
<text x="124.25" y="370.30" font-size="6.5" text-anchor="middle" fill="#333" textLength="16.50" lengthAdjust="spacingAndGlyphs" stroke="#333" stroke-width="0.12">MPP1</text>
<line x1="106.00" y1="375.40" x2="142.30" y2="375.40" stroke="#444" stroke-width="1.0" />
<text x="183.35" y="370.30" font-size="6.5" text-anchor="middle" fill="#333" textLength="22.50" lengthAdjust="spacingAndGlyphs" stroke="#333" stroke-width="0.12">MPP2-4</text>
<line x1="164.80" y1="375.40" x2="201.50" y2="375.40" stroke="#444" stroke-width="1.0" />
<text x="242.75" y="370.30" font-size="6.5" text-anchor="middle" fill="#333" textLength="13.50" lengthAdjust="spacingAndGlyphs" stroke="#333" stroke-width="0.12">CMP</text>
<line x1="225.80" y1="375.40" x2="261.20" y2="375.40" stroke="#444" stroke-width="1.0" />
<text x="305.35" y="370.30" font-size="6.5" text-anchor="middle" fill="#333" textLength="13.30" lengthAdjust="spacingAndGlyphs" stroke="#333" stroke-width="0.12">MEP</text>
<line x1="287.30" y1="375.40" x2="323.30" y2="375.40" stroke="#444" stroke-width="1.0" />
<text x="367.20" y="370.30" font-size="6.5" text-anchor="middle" fill="#333" textLength="11.40" lengthAdjust="spacingAndGlyphs" stroke="#333" stroke-width="0.12">MkP</text>
<line x1="348.70" y1="375.40" x2="385.00" y2="375.40" stroke="#444" stroke-width="1.0" />
<text x="431.40" y="370.30" font-size="6.5" text-anchor="middle" fill="#333" textLength="18.00" lengthAdjust="spacingAndGlyphs" stroke="#333" stroke-width="0.12">CFU-E</text>
<line x1="412.70" y1="375.40" x2="450.10" y2="375.40" stroke="#444" stroke-width="1.0" />
<text x="23.80" y="384.20" font-size="6.6" text-anchor="middle" fill="#333" stroke="#333" stroke-width="0.12">%</text>
<line x1="32.40" y1="389.20" x2="32.40" y2="436.25" stroke="#222" stroke-width="1.1" />
<line x1="29.90" y1="391.20" x2="32.40" y2="391.20" stroke="#222" stroke-width="0.7" />
<text x="26.80" y="393.50" font-size="6.4" text-anchor="end" fill="#333" stroke="#333" stroke-width="0.12">0.15</text>
<line x1="29.90" y1="406.10" x2="32.40" y2="406.10" stroke="#222" stroke-width="0.7" />
<text x="26.80" y="408.40" font-size="6.4" text-anchor="end" fill="#333" stroke="#333" stroke-width="0.12">0.10</text>
<line x1="29.90" y1="420.80" x2="32.40" y2="420.80" stroke="#222" stroke-width="0.7" />
<text x="26.80" y="423.10" font-size="6.4" text-anchor="end" fill="#333" stroke="#333" stroke-width="0.12">0.05</text>
<line x1="29.90" y1="435.80" x2="32.40" y2="435.80" stroke="#222" stroke-width="0.7" />
<text x="26.80" y="438.10" font-size="6.4" text-anchor="end" fill="#333" stroke="#333" stroke-width="0.12">0</text>
<line x1="31.95" y1="435.80" x2="46.00" y2="435.80" stroke="#222" stroke-width="1.15" />
<rect x="34.20" y="416.20" width="4.30" height="19.60" fill="#c8102e" />
<line x1="36.35" y1="411.20" x2="36.35" y2="416.20" stroke="#c8102e" stroke-width="0.6" />
<line x1="35.35" y1="411.20" x2="37.35" y2="411.20" stroke="#c8102e" stroke-width="0.7" />
<line x1="36.35" y1="435.80" x2="36.35" y2="437.60" stroke="#222" stroke-width="0.6" />
<rect x="40.60" y="397.30" width="3.70" height="16.90" fill="#fff" stroke="#e8909c" stroke-width="0.6" />
<rect x="40.30" y="414.20" width="4.30" height="21.60" fill="#c8102e" />
<line x1="42.45" y1="394.20" x2="42.45" y2="397.30" stroke="#e8909c" stroke-width="0.6" />
<line x1="41.45" y1="394.20" x2="43.45" y2="394.20" stroke="#e8909c" stroke-width="0.7" />
<line x1="42.45" y1="435.80" x2="42.45" y2="437.60" stroke="#222" stroke-width="0.6" />
<line x1="69.60" y1="389.20" x2="69.60" y2="436.25" stroke="#222" stroke-width="1.1" />
<line x1="67.10" y1="390.40" x2="69.60" y2="390.40" stroke="#222" stroke-width="0.7" />
<text x="64.00" y="392.70" font-size="6.4" text-anchor="end" fill="#333" stroke="#333" stroke-width="0.12">2.5</text>
<line x1="67.10" y1="399.50" x2="69.60" y2="399.50" stroke="#222" stroke-width="0.7" />
<text x="64.00" y="401.80" font-size="6.4" text-anchor="end" fill="#333" stroke="#333" stroke-width="0.12">2.0</text>
<line x1="67.10" y1="408.60" x2="69.60" y2="408.60" stroke="#222" stroke-width="0.7" />
<text x="64.00" y="410.90" font-size="6.4" text-anchor="end" fill="#333" stroke="#333" stroke-width="0.12">1.5</text>
<line x1="67.10" y1="417.70" x2="69.60" y2="417.70" stroke="#222" stroke-width="0.7" />
<text x="64.00" y="420.00" font-size="6.4" text-anchor="end" fill="#333" stroke="#333" stroke-width="0.12">1.0</text>
<line x1="67.10" y1="426.80" x2="69.60" y2="426.80" stroke="#222" stroke-width="0.7" />
<text x="64.00" y="429.10" font-size="6.4" text-anchor="end" fill="#333" stroke="#333" stroke-width="0.12">0.5</text>
<line x1="67.10" y1="435.80" x2="69.60" y2="435.80" stroke="#222" stroke-width="0.7" />
<text x="64.00" y="438.10" font-size="6.4" text-anchor="end" fill="#333" stroke="#333" stroke-width="0.12">0.0</text>
<line x1="69.15" y1="435.80" x2="84.00" y2="435.80" stroke="#222" stroke-width="1.15" />
<rect x="71.50" y="406.30" width="4.30" height="29.50" fill="#1a4a82" />
<line x1="73.65" y1="395.80" x2="73.65" y2="406.30" stroke="#6f9fd0" stroke-width="1.7" />
<line x1="72.65" y1="395.80" x2="74.65" y2="395.80" stroke="#1a4a82" stroke-width="0.7" />
<line x1="73.65" y1="435.80" x2="73.65" y2="437.60" stroke="#222" stroke-width="0.6" />
<rect x="77.90" y="427.50" width="4.30" height="8.30" fill="#1a4a82" />
<line x1="80.05" y1="435.80" x2="80.05" y2="437.60" stroke="#222" stroke-width="0.6" />
<circle cx="76.50" cy="397.00" r="0.92" fill="#1a4a82" />
<circle cx="79.00" cy="397.00" r="0.92" fill="#1a4a82" />
<circle cx="81.50" cy="397.00" r="0.92" fill="#1a4a82" />
<circle cx="84.00" cy="397.00" r="0.92" fill="#1a4a82" />
<circle cx="86.50" cy="397.00" r="0.92" fill="#1a4a82" />
<line x1="120.30" y1="389.80" x2="120.30" y2="436.25" stroke="#222" stroke-width="1.1" />
<line x1="117.80" y1="392.90" x2="120.30" y2="392.90" stroke="#222" stroke-width="0.7" />
<text x="114.70" y="395.20" font-size="6.4" text-anchor="end" fill="#333" stroke="#333" stroke-width="0.12">0.15</text>
<line x1="117.80" y1="407.20" x2="120.30" y2="407.20" stroke="#222" stroke-width="0.7" />
<text x="114.70" y="409.50" font-size="6.4" text-anchor="end" fill="#333" stroke="#333" stroke-width="0.12">0.10</text>
<line x1="117.80" y1="421.50" x2="120.30" y2="421.50" stroke="#222" stroke-width="0.7" />
<text x="114.70" y="423.80" font-size="6.4" text-anchor="end" fill="#333" stroke="#333" stroke-width="0.12">0.05</text>
<line x1="117.80" y1="435.80" x2="120.30" y2="435.80" stroke="#222" stroke-width="0.7" />
<text x="114.70" y="438.10" font-size="6.4" text-anchor="end" fill="#333" stroke="#333" stroke-width="0.12">0.00</text>
<line x1="119.85" y1="435.80" x2="146.50" y2="435.80" stroke="#222" stroke-width="1.15" />
<rect x="122.10" y="431.30" width="4.30" height="4.50" fill="#c8102e" />
<line x1="124.25" y1="435.80" x2="124.25" y2="437.60" stroke="#222" stroke-width="0.6" />
<rect x="128.50" y="416.20" width="3.70" height="14.30" fill="#fff" stroke="#e8909c" stroke-width="0.6" />
<rect x="128.20" y="430.50" width="4.30" height="5.30" fill="#c8102e" />
<line x1="130.35" y1="413.60" x2="130.35" y2="416.20" stroke="#e8909c" stroke-width="0.6" />
<line x1="129.35" y1="413.60" x2="131.35" y2="413.60" stroke="#e8909c" stroke-width="0.7" />
<line x1="130.35" y1="435.80" x2="130.35" y2="437.60" stroke="#222" stroke-width="0.6" />
<rect x="135.30" y="400.00" width="4.30" height="35.80" fill="#1a4a82" />
<line x1="137.45" y1="393.50" x2="137.45" y2="400.00" stroke="#6f9fd0" stroke-width="1.7" />
<line x1="136.45" y1="393.50" x2="138.45" y2="393.50" stroke="#1a4a82" stroke-width="0.7" />
<line x1="137.45" y1="435.80" x2="137.45" y2="437.60" stroke="#222" stroke-width="0.6" />
<rect x="141.40" y="400.80" width="3.70" height="8.00" fill="#fff" stroke="#6a9ccc" stroke-width="0.6" />
<rect x="141.10" y="408.80" width="4.30" height="27.00" fill="#1a4a82" />
<line x1="143.25" y1="399.30" x2="143.25" y2="400.80" stroke="#6a9ccc" stroke-width="0.6" />
<line x1="142.25" y1="399.30" x2="144.25" y2="399.30" stroke="#6a9ccc" stroke-width="0.7" />
<line x1="143.25" y1="435.80" x2="143.25" y2="437.60" stroke="#222" stroke-width="0.6" />
<circle cx="130.30" cy="410.70" r="0.92" fill="#c8102e" />
<line x1="176.90" y1="389.50" x2="176.90" y2="436.25" stroke="#222" stroke-width="1.1" />
<line x1="174.40" y1="391.90" x2="176.90" y2="391.90" stroke="#222" stroke-width="0.7" />
<text x="171.30" y="394.20" font-size="6.4" text-anchor="end" fill="#333" stroke="#333" stroke-width="0.12">2.5</text>
<line x1="174.40" y1="400.70" x2="176.90" y2="400.70" stroke="#222" stroke-width="0.7" />
<text x="171.30" y="403.00" font-size="6.4" text-anchor="end" fill="#333" stroke="#333" stroke-width="0.12">2.0</text>
<line x1="174.40" y1="409.50" x2="176.90" y2="409.50" stroke="#222" stroke-width="0.7" />
<text x="171.30" y="411.80" font-size="6.4" text-anchor="end" fill="#333" stroke="#333" stroke-width="0.12">1.5</text>
<line x1="174.40" y1="418.30" x2="176.90" y2="418.30" stroke="#222" stroke-width="0.7" />
<text x="171.30" y="420.60" font-size="6.4" text-anchor="end" fill="#333" stroke="#333" stroke-width="0.12">1.0</text>
<line x1="174.40" y1="427.10" x2="176.90" y2="427.10" stroke="#222" stroke-width="0.7" />
<text x="171.30" y="429.40" font-size="6.4" text-anchor="end" fill="#333" stroke="#333" stroke-width="0.12">0.5</text>
<line x1="174.40" y1="435.80" x2="176.90" y2="435.80" stroke="#222" stroke-width="0.7" />
<text x="171.30" y="438.10" font-size="6.4" text-anchor="end" fill="#333" stroke="#333" stroke-width="0.12">0.0</text>
<line x1="176.45" y1="435.80" x2="204.00" y2="435.80" stroke="#222" stroke-width="1.15" />
<rect x="178.70" y="433.60" width="4.30" height="2.20" fill="#c8102e" />
<line x1="180.85" y1="435.80" x2="180.85" y2="437.60" stroke="#222" stroke-width="0.6" />
<rect x="185.20" y="408.00" width="3.70" height="11.60" fill="#fff" stroke="#e8909c" stroke-width="0.6" />
<rect x="184.90" y="419.60" width="4.30" height="16.20" fill="#c8102e" />
<line x1="187.05" y1="405.50" x2="187.05" y2="408.00" stroke="#e8909c" stroke-width="0.6" />
<line x1="186.05" y1="405.50" x2="188.05" y2="405.50" stroke="#e8909c" stroke-width="0.7" />
<line x1="187.05" y1="435.80" x2="187.05" y2="437.60" stroke="#222" stroke-width="0.6" />
<rect x="192.30" y="428.20" width="4.30" height="7.60" fill="#1a4a82" />
<line x1="194.45" y1="427.00" x2="194.45" y2="428.20" stroke="#1a4a82" stroke-width="0.6" />
<line x1="193.45" y1="427.00" x2="195.45" y2="427.00" stroke="#1a4a82" stroke-width="0.7" />
<line x1="194.45" y1="435.80" x2="194.45" y2="437.60" stroke="#222" stroke-width="0.6" />
<rect x="198.70" y="394.50" width="3.70" height="3.50" fill="#fff" stroke="#6a9ccc" stroke-width="0.6" />
<rect x="198.40" y="398.00" width="4.30" height="37.80" fill="#1a4a82" />
<line x1="200.55" y1="393.00" x2="200.55" y2="394.50" stroke="#6a9ccc" stroke-width="0.6" />
<line x1="199.55" y1="393.00" x2="201.55" y2="393.00" stroke="#6a9ccc" stroke-width="0.7" />
<line x1="200.55" y1="435.80" x2="200.55" y2="437.60" stroke="#222" stroke-width="0.6" />
<circle cx="185.80" cy="401.00" r="0.92" fill="#c8102e" />
<circle cx="188.30" cy="401.00" r="0.92" fill="#c8102e" />
<line x1="234.40" y1="389.50" x2="234.40" y2="436.25" stroke="#222" stroke-width="1.1" />
<line x1="231.90" y1="391.60" x2="234.40" y2="391.60" stroke="#222" stroke-width="0.7" />
<text x="228.80" y="393.90" font-size="6.4" text-anchor="end" fill="#333" stroke="#333" stroke-width="0.12">1.0</text>
<line x1="231.90" y1="400.50" x2="234.40" y2="400.50" stroke="#222" stroke-width="0.7" />
<text x="228.80" y="402.80" font-size="6.4" text-anchor="end" fill="#333" stroke="#333" stroke-width="0.12">0.8</text>
<line x1="231.90" y1="409.50" x2="234.40" y2="409.50" stroke="#222" stroke-width="0.7" />
<text x="228.80" y="411.80" font-size="6.4" text-anchor="end" fill="#333" stroke="#333" stroke-width="0.12">0.6</text>
<line x1="231.90" y1="418.30" x2="234.40" y2="418.30" stroke="#222" stroke-width="0.7" />
<text x="228.80" y="420.60" font-size="6.4" text-anchor="end" fill="#333" stroke="#333" stroke-width="0.12">0.4</text>
<line x1="231.90" y1="427.10" x2="234.40" y2="427.10" stroke="#222" stroke-width="0.7" />
<text x="228.80" y="429.40" font-size="6.4" text-anchor="end" fill="#333" stroke="#333" stroke-width="0.12">0.2</text>
<line x1="231.90" y1="435.80" x2="234.40" y2="435.80" stroke="#222" stroke-width="0.7" />
<text x="228.80" y="438.10" font-size="6.4" text-anchor="end" fill="#333" stroke="#333" stroke-width="0.12">0.0</text>
<line x1="233.95" y1="435.80" x2="261.50" y2="435.80" stroke="#222" stroke-width="1.15" />
<rect x="236.30" y="421.00" width="4.30" height="14.80" fill="#c8102e" />
<line x1="238.45" y1="419.00" x2="238.45" y2="421.00" stroke="#c8102e" stroke-width="0.6" />
<line x1="237.45" y1="419.00" x2="239.45" y2="419.00" stroke="#c8102e" stroke-width="0.7" />
<line x1="238.45" y1="435.80" x2="238.45" y2="437.60" stroke="#222" stroke-width="0.6" />
<rect x="242.40" y="435.20" width="4.30" height="0.60" fill="#c8102e" />
<line x1="244.55" y1="435.80" x2="244.55" y2="437.60" stroke="#222" stroke-width="0.6" />
<rect x="250.90" y="403.00" width="4.30" height="32.80" fill="#1a4a82" />
<line x1="253.05" y1="396.10" x2="253.05" y2="403.00" stroke="#6f9fd0" stroke-width="1.7" />
<line x1="252.05" y1="396.10" x2="254.05" y2="396.10" stroke="#1a4a82" stroke-width="0.7" />
<line x1="253.05" y1="435.80" x2="253.05" y2="437.60" stroke="#222" stroke-width="0.6" />
<rect x="256.80" y="434.50" width="4.30" height="1.30" fill="#1a4a82" />
<line x1="258.95" y1="435.80" x2="258.95" y2="437.60" stroke="#222" stroke-width="0.6" />
<circle cx="240.90" cy="423.60" r="0.92" fill="#c8102e" />
<circle cx="243.28" cy="423.60" r="0.92" fill="#c8102e" />
<circle cx="245.65" cy="423.60" r="0.92" fill="#c8102e" />
<circle cx="248.03" cy="423.60" r="0.92" fill="#c8102e" />
<circle cx="250.40" cy="423.60" r="0.92" fill="#c8102e" />
<circle cx="255.70" cy="423.60" r="0.92" fill="#1a4a82" />
<circle cx="258.35" cy="423.60" r="0.92" fill="#1a4a82" />
<circle cx="261.00" cy="423.60" r="0.92" fill="#1a4a82" />
<circle cx="263.65" cy="423.60" r="0.92" fill="#1a4a82" />
<circle cx="266.30" cy="423.60" r="0.92" fill="#1a4a82" />
<line x1="296.80" y1="389.50" x2="296.80" y2="436.25" stroke="#222" stroke-width="1.1" />
<line x1="294.30" y1="391.60" x2="296.80" y2="391.60" stroke="#222" stroke-width="0.7" />
<text x="291.20" y="393.90" font-size="6.4" text-anchor="end" fill="#333" stroke="#333" stroke-width="0.12">0.8</text>
<line x1="294.30" y1="402.70" x2="296.80" y2="402.70" stroke="#222" stroke-width="0.7" />
<text x="291.20" y="405.00" font-size="6.4" text-anchor="end" fill="#333" stroke="#333" stroke-width="0.12">0.6</text>
<line x1="294.30" y1="413.60" x2="296.80" y2="413.60" stroke="#222" stroke-width="0.7" />
<text x="291.20" y="415.90" font-size="6.4" text-anchor="end" fill="#333" stroke="#333" stroke-width="0.12">0.4</text>
<line x1="294.30" y1="424.70" x2="296.80" y2="424.70" stroke="#222" stroke-width="0.7" />
<text x="291.20" y="427.00" font-size="6.4" text-anchor="end" fill="#333" stroke="#333" stroke-width="0.12">0.2</text>
<line x1="294.30" y1="435.80" x2="296.80" y2="435.80" stroke="#222" stroke-width="0.7" />
<text x="291.20" y="438.10" font-size="6.4" text-anchor="end" fill="#333" stroke="#333" stroke-width="0.12">0.0</text>
<line x1="296.35" y1="435.80" x2="324.50" y2="435.80" stroke="#222" stroke-width="1.15" />
<rect x="298.60" y="425.00" width="4.30" height="10.80" fill="#c8102e" />
<line x1="300.75" y1="423.00" x2="300.75" y2="425.00" stroke="#c8102e" stroke-width="0.6" />
<line x1="299.75" y1="423.00" x2="301.75" y2="423.00" stroke="#c8102e" stroke-width="0.7" />
<line x1="300.75" y1="435.80" x2="300.75" y2="437.60" stroke="#222" stroke-width="0.6" />
<rect x="304.30" y="434.20" width="4.30" height="1.60" fill="#c8102e" />
<line x1="306.45" y1="435.80" x2="306.45" y2="437.60" stroke="#222" stroke-width="0.6" />
<rect x="313.20" y="407.70" width="4.30" height="28.10" fill="#1a4a82" />
<line x1="315.35" y1="401.40" x2="315.35" y2="407.70" stroke="#6f9fd0" stroke-width="1.7" />
<line x1="314.35" y1="401.40" x2="316.35" y2="401.40" stroke="#1a4a82" stroke-width="0.7" />
<line x1="315.35" y1="435.80" x2="315.35" y2="437.60" stroke="#222" stroke-width="0.6" />
<rect x="319.10" y="431.50" width="4.30" height="4.30" fill="#1a4a82" />
<line x1="321.25" y1="435.80" x2="321.25" y2="437.60" stroke="#222" stroke-width="0.6" />
<circle cx="306.30" cy="423.60" r="0.92" fill="#c8102e" />
<circle cx="318.60" cy="423.60" r="0.92" fill="#1a4a82" />
<circle cx="321.60" cy="423.60" r="0.92" fill="#1a4a82" />
<circle cx="324.60" cy="423.60" r="0.92" fill="#1a4a82" />
<circle cx="327.60" cy="423.60" r="0.92" fill="#1a4a82" />
<line x1="358.80" y1="389.50" x2="358.80" y2="436.25" stroke="#222" stroke-width="1.1" />
<line x1="356.30" y1="391.60" x2="358.80" y2="391.60" stroke="#222" stroke-width="0.7" />
<text x="353.20" y="393.90" font-size="6.4" text-anchor="end" fill="#333" stroke="#333" stroke-width="0.12">0.8</text>
<line x1="356.30" y1="402.70" x2="358.80" y2="402.70" stroke="#222" stroke-width="0.7" />
<text x="353.20" y="405.00" font-size="6.4" text-anchor="end" fill="#333" stroke="#333" stroke-width="0.12">0.6</text>
<line x1="356.30" y1="413.60" x2="358.80" y2="413.60" stroke="#222" stroke-width="0.7" />
<text x="353.20" y="415.90" font-size="6.4" text-anchor="end" fill="#333" stroke="#333" stroke-width="0.12">0.4</text>
<line x1="356.30" y1="424.70" x2="358.80" y2="424.70" stroke="#222" stroke-width="0.7" />
<text x="353.20" y="427.00" font-size="6.4" text-anchor="end" fill="#333" stroke="#333" stroke-width="0.12">0.2</text>
<line x1="356.30" y1="435.80" x2="358.80" y2="435.80" stroke="#222" stroke-width="0.7" />
<text x="353.20" y="438.10" font-size="6.4" text-anchor="end" fill="#333" stroke="#333" stroke-width="0.12">0.0</text>
<line x1="358.35" y1="435.80" x2="386.50" y2="435.80" stroke="#222" stroke-width="1.15" />
<rect x="360.90" y="430.70" width="4.30" height="5.10" fill="#c8102e" />
<line x1="363.05" y1="435.80" x2="363.05" y2="437.60" stroke="#222" stroke-width="0.6" />
<rect x="375.10" y="406.70" width="4.30" height="29.10" fill="#1a4a82" />
<line x1="377.25" y1="398.20" x2="377.25" y2="406.70" stroke="#6f9fd0" stroke-width="1.7" />
<line x1="376.25" y1="398.20" x2="378.25" y2="398.20" stroke="#1a4a82" stroke-width="0.7" />
<line x1="377.25" y1="435.80" x2="377.25" y2="437.60" stroke="#222" stroke-width="0.6" />
<circle cx="380.60" cy="423.30" r="0.92" fill="#1a4a82" />
<circle cx="383.60" cy="423.30" r="0.92" fill="#1a4a82" />
<circle cx="386.60" cy="423.30" r="0.92" fill="#1a4a82" />
<circle cx="389.60" cy="423.30" r="0.92" fill="#1a4a82" />
<line x1="369.20" y1="435.80" x2="369.20" y2="437.60" stroke="#222" stroke-width="0.6" />
<line x1="383.30" y1="435.80" x2="383.30" y2="437.60" stroke="#222" stroke-width="0.6" />
<line x1="424.20" y1="389.20" x2="424.20" y2="436.25" stroke="#222" stroke-width="1.1" />
<line x1="421.70" y1="391.30" x2="424.20" y2="391.30" stroke="#222" stroke-width="0.7" />
<text x="418.60" y="393.60" font-size="6.4" text-anchor="end" fill="#333" stroke="#333" stroke-width="0.12">0.20</text>
<line x1="421.70" y1="402.50" x2="424.20" y2="402.50" stroke="#222" stroke-width="0.7" />
<text x="418.60" y="404.80" font-size="6.4" text-anchor="end" fill="#333" stroke="#333" stroke-width="0.12">0.15</text>
<line x1="421.70" y1="413.60" x2="424.20" y2="413.60" stroke="#222" stroke-width="0.7" />
<text x="418.60" y="415.90" font-size="6.4" text-anchor="end" fill="#333" stroke="#333" stroke-width="0.12">0.10</text>
<line x1="421.70" y1="424.80" x2="424.20" y2="424.80" stroke="#222" stroke-width="0.7" />
<text x="418.60" y="427.10" font-size="6.4" text-anchor="end" fill="#333" stroke="#333" stroke-width="0.12">0.05</text>
<line x1="421.70" y1="435.80" x2="424.20" y2="435.80" stroke="#222" stroke-width="0.7" />
<text x="418.60" y="438.10" font-size="6.4" text-anchor="end" fill="#333" stroke="#333" stroke-width="0.12">0.0</text>
<line x1="423.75" y1="435.80" x2="452.50" y2="435.80" stroke="#222" stroke-width="1.15" />
<rect x="426.30" y="412.10" width="4.30" height="23.70" fill="#c8102e" />
<line x1="428.45" y1="408.30" x2="428.45" y2="412.10" stroke="#c8102e" stroke-width="0.6" />
<line x1="427.45" y1="408.30" x2="429.45" y2="408.30" stroke="#c8102e" stroke-width="0.7" />
<line x1="428.45" y1="435.80" x2="428.45" y2="437.60" stroke="#222" stroke-width="0.6" />
<rect x="432.50" y="431.20" width="3.70" height="3.30" fill="#fff" stroke="#e8909c" stroke-width="0.6" />
<rect x="432.20" y="434.50" width="4.30" height="1.30" fill="#c8102e" />
<line x1="434.35" y1="429.40" x2="434.35" y2="431.20" stroke="#e8909c" stroke-width="0.6" />
<line x1="433.35" y1="429.40" x2="435.35" y2="429.40" stroke="#e8909c" stroke-width="0.7" />
<line x1="434.35" y1="435.80" x2="434.35" y2="437.60" stroke="#222" stroke-width="0.6" />
<rect x="441.10" y="404.00" width="4.30" height="31.80" fill="#1a4a82" />
<line x1="443.25" y1="399.40" x2="443.25" y2="404.00" stroke="#6f9fd0" stroke-width="1.7" />
<line x1="442.25" y1="399.40" x2="444.25" y2="399.40" stroke="#1a4a82" stroke-width="0.7" />
<line x1="443.25" y1="435.80" x2="443.25" y2="437.60" stroke="#222" stroke-width="0.6" />
<rect x="447.00" y="430.30" width="4.30" height="5.50" fill="#1a4a82" />
<line x1="449.15" y1="435.80" x2="449.15" y2="437.60" stroke="#222" stroke-width="0.6" />
<circle cx="431.75" cy="424.20" r="0.92" fill="#c8102e" />
<circle cx="434.75" cy="424.20" r="0.92" fill="#c8102e" />
<circle cx="437.75" cy="424.20" r="0.92" fill="#c8102e" />
<circle cx="440.75" cy="424.20" r="0.92" fill="#c8102e" />
<circle cx="446.50" cy="424.20" r="0.92" fill="#1a4a82" />
<circle cx="449.50" cy="424.20" r="0.92" fill="#1a4a82" />
<circle cx="452.50" cy="424.20" r="0.92" fill="#1a4a82" />
<circle cx="455.50" cy="424.20" r="0.92" fill="#1a4a82" />
<text x="466.90" y="401.60" font-size="6.8" fill="#c8102e" textLength="7.40" lengthAdjust="spacingAndGlyphs" font-style="italic" stroke="#c8102e" stroke-width="0.12">VF</text>
<text x="480.1" y="401.6" font-size="6.8" font-style="italic" fill="#3a6fa8" textLength="19" lengthAdjust="spacingAndGlyphs" stroke="#3a6fa8" stroke-width="0.12">VF;Dm</text>
<text x="499.50" y="398.50" font-size="3.6" fill="#3a6fa8" stroke="#3a6fa8" stroke-width="0.12">Δ/Δ</text>
<rect x="468.50" y="408.10" width="4.10" height="3.90" fill="#fff" stroke="#e8909c" stroke-width="0.7" />
<rect x="484.40" y="408.10" width="4.10" height="3.90" fill="#fff" stroke="#8a9ab0" stroke-width="0.7" />
<text x="491.2" y="412.5" font-size="6.6" fill="#333" stroke="#333" stroke-width="0.12">GFP<tspan font-size="3.8" dy="-2.4">−</tspan></text>
<rect x="468.20" y="419.10" width="4.70" height="4.50" fill="#c8102e" />
<rect x="484.10" y="419.10" width="4.70" height="4.50" fill="#1a4a82" />
<text x="491.2" y="423.4" font-size="6.6" fill="#4caf50" stroke="#4caf50" stroke-width="0.12">GFP<tspan font-size="3.8" dy="-2.4">+</tspan></text>
<text x="9.20" y="450.60" font-size="6.6" fill="#4caf50" textLength="16.80" lengthAdjust="spacingAndGlyphs" stroke="#4caf50" stroke-width="0.12">%GFP</text>
<line x1="31.30" y1="455.80" x2="31.30" y2="503.35" stroke="#222" stroke-width="1.1" />
<line x1="28.80" y1="458.70" x2="31.30" y2="458.70" stroke="#222" stroke-width="0.7" />
<text x="25.80" y="461.00" font-size="6.4" text-anchor="end" fill="#333" stroke="#333" stroke-width="0.12">100</text>
<line x1="28.80" y1="469.80" x2="31.30" y2="469.80" stroke="#222" stroke-width="0.7" />
<text x="25.80" y="472.10" font-size="6.4" text-anchor="end" fill="#333" stroke="#333" stroke-width="0.12">75</text>
<line x1="28.80" y1="480.80" x2="31.30" y2="480.80" stroke="#222" stroke-width="0.7" />
<text x="25.80" y="483.10" font-size="6.4" text-anchor="end" fill="#333" stroke="#333" stroke-width="0.12">50</text>
<line x1="28.80" y1="491.90" x2="31.30" y2="491.90" stroke="#222" stroke-width="0.7" />
<text x="25.80" y="494.20" font-size="6.4" text-anchor="end" fill="#333" stroke="#333" stroke-width="0.12">25</text>
<line x1="28.80" y1="502.90" x2="31.30" y2="502.90" stroke="#222" stroke-width="0.7" />
<text x="25.80" y="505.20" font-size="6.4" text-anchor="end" fill="#333" stroke="#333" stroke-width="0.12">0</text>
<line x1="29.90" y1="464.25" x2="31.30" y2="464.25" stroke="#222" stroke-width="0.6" />
<line x1="29.90" y1="475.30" x2="31.30" y2="475.30" stroke="#222" stroke-width="0.6" />
<line x1="29.90" y1="486.35" x2="31.30" y2="486.35" stroke="#222" stroke-width="0.6" />
<line x1="29.90" y1="497.40" x2="31.30" y2="497.40" stroke="#222" stroke-width="0.6" />
<line x1="31.00" y1="502.90" x2="452.70" y2="502.90" stroke="#222" stroke-width="1.15" />
<rect x="35.90" y="459.30" width="3.50" height="4.20" fill="#fbe6ea" stroke="#e8909c" stroke-width="0.6" />
<rect x="35.90" y="460.30" width="3.50" height="3.20" fill="#f4c4cc" />
<rect x="35.60" y="463.50" width="4.10" height="39.40" fill="#c8102e" />
<line x1="37.65" y1="456.30" x2="37.65" y2="459.30" stroke="#e8909c" stroke-width="0.6" />
<line x1="36.65" y1="456.30" x2="38.65" y2="456.30" stroke="#e8909c" stroke-width="0.7" />
<rect x="42.30" y="459.30" width="3.50" height="21.50" fill="#fff" stroke="#e8909c" stroke-width="0.6" />
<rect x="42.30" y="477.60" width="3.50" height="3.20" fill="#f4c4cc" />
<rect x="42.00" y="480.80" width="4.10" height="22.10" fill="#c8102e" />
<line x1="44.05" y1="455.40" x2="44.05" y2="459.30" stroke="#e8909c" stroke-width="0.6" />
<line x1="43.05" y1="455.40" x2="45.05" y2="455.40" stroke="#e8909c" stroke-width="0.7" />
<rect x="70.80" y="458.70" width="4.10" height="44.20" fill="#1a4a82" />
<rect x="77.30" y="459.00" width="3.50" height="6.40" fill="#fff" stroke="#6a9ccc" stroke-width="0.6" />
<rect x="77.30" y="462.90" width="3.50" height="2.50" fill="#a8c8e8" />
<rect x="77.00" y="465.40" width="4.10" height="37.50" fill="#1a4a82" />
<line x1="79.05" y1="456.00" x2="79.05" y2="459.00" stroke="#6a9ccc" stroke-width="0.6" />
<line x1="78.05" y1="456.00" x2="80.05" y2="456.00" stroke="#6a9ccc" stroke-width="0.7" />
<circle cx="39.55" cy="450.40" r="0.92" fill="#c8102e" />
<circle cx="42.55" cy="450.40" r="0.92" fill="#c8102e" />
<circle cx="45.55" cy="450.40" r="0.92" fill="#c8102e" />
<circle cx="48.55" cy="450.40" r="0.92" fill="#c8102e" />
<text x="37.65" y="510.80" font-size="6.4" text-anchor="middle" fill="#333" stroke="#333" stroke-width="0.12">V</text>
<text x="44.05" y="510.80" font-size="6.4" text-anchor="middle" fill="#f0a850" stroke="#f0a850" stroke-width="0.12">IF</text>
<text x="72.85" y="510.80" font-size="6.4" text-anchor="middle" fill="#333" stroke="#333" stroke-width="0.12">V</text>
<text x="79.05" y="510.80" font-size="6.4" text-anchor="middle" fill="#f0a850" stroke="#f0a850" stroke-width="0.12">IF</text>
<rect x="122.10" y="459.30" width="3.50" height="8.80" fill="#fbe6ea" stroke="#e8909c" stroke-width="0.6" />
<rect x="122.10" y="464.90" width="3.50" height="3.20" fill="#f4c4cc" />
<rect x="121.80" y="468.10" width="4.10" height="34.80" fill="#c8102e" />
<line x1="123.85" y1="456.30" x2="123.85" y2="459.30" stroke="#e8909c" stroke-width="0.6" />
<line x1="122.85" y1="456.30" x2="124.85" y2="456.30" stroke="#e8909c" stroke-width="0.7" />
<rect x="127.60" y="459.30" width="3.50" height="24.70" fill="#fff" stroke="#e8909c" stroke-width="0.6" />
<rect x="127.60" y="480.80" width="3.50" height="3.20" fill="#f4c4cc" />
<rect x="127.30" y="484.00" width="4.10" height="18.90" fill="#c8102e" />
<line x1="129.35" y1="455.40" x2="129.35" y2="459.30" stroke="#e8909c" stroke-width="0.6" />
<line x1="128.35" y1="455.40" x2="130.35" y2="455.40" stroke="#e8909c" stroke-width="0.7" />
<rect x="135.10" y="458.70" width="4.10" height="44.20" fill="#1a4a82" />
<rect x="140.90" y="459.00" width="3.50" height="9.60" fill="#fff" stroke="#6a9ccc" stroke-width="0.6" />
<rect x="140.90" y="466.10" width="3.50" height="2.50" fill="#a8c8e8" />
<rect x="140.60" y="468.60" width="4.10" height="34.30" fill="#1a4a82" />
<line x1="142.65" y1="456.00" x2="142.65" y2="459.00" stroke="#6a9ccc" stroke-width="0.6" />
<line x1="141.65" y1="456.00" x2="143.65" y2="456.00" stroke="#6a9ccc" stroke-width="0.7" />
<circle cx="124.50" cy="450.40" r="0.92" fill="#c8102e" />
<circle cx="127.50" cy="450.40" r="0.92" fill="#c8102e" />
<circle cx="130.50" cy="450.40" r="0.92" fill="#c8102e" />
<circle cx="133.50" cy="450.40" r="0.92" fill="#c8102e" />
<text x="123.85" y="510.80" font-size="6.4" text-anchor="middle" fill="#333" stroke="#333" stroke-width="0.12">V</text>
<text x="129.35" y="510.80" font-size="6.4" text-anchor="middle" fill="#f0a850" stroke="#f0a850" stroke-width="0.12">IF</text>
<text x="137.15" y="510.80" font-size="6.4" text-anchor="middle" fill="#333" stroke="#333" stroke-width="0.12">V</text>
<text x="142.65" y="510.80" font-size="6.4" text-anchor="middle" fill="#f0a850" stroke="#f0a850" stroke-width="0.12">IF</text>
<rect x="178.30" y="459.30" width="4.10" height="43.60" fill="#c8102e" />
<line x1="180.35" y1="456.30" x2="180.35" y2="459.30" stroke="#c8102e" stroke-width="0.6" />
<line x1="179.35" y1="456.30" x2="181.35" y2="456.30" stroke="#c8102e" stroke-width="0.7" />
<rect x="183.80" y="459.30" width="3.50" height="18.10" fill="#fff" stroke="#e8909c" stroke-width="0.6" />
<rect x="183.80" y="474.20" width="3.50" height="3.20" fill="#f4c4cc" />
<rect x="183.50" y="477.40" width="4.10" height="25.50" fill="#c8102e" />
<line x1="185.55" y1="455.40" x2="185.55" y2="459.30" stroke="#e8909c" stroke-width="0.6" />
<line x1="184.55" y1="455.40" x2="186.55" y2="455.40" stroke="#e8909c" stroke-width="0.7" />
<rect x="191.80" y="458.70" width="4.10" height="44.20" fill="#1a4a82" />
<rect x="197.60" y="459.00" width="3.50" height="3.50" fill="#fff" stroke="#6a9ccc" stroke-width="0.6" />
<rect x="197.60" y="460.00" width="3.50" height="2.50" fill="#a8c8e8" />
<rect x="197.30" y="462.50" width="4.10" height="40.40" fill="#1a4a82" />
<line x1="199.35" y1="456.00" x2="199.35" y2="459.00" stroke="#6a9ccc" stroke-width="0.6" />
<line x1="198.35" y1="456.00" x2="200.35" y2="456.00" stroke="#6a9ccc" stroke-width="0.7" />
<circle cx="181.85" cy="450.40" r="0.92" fill="#c8102e" />
<circle cx="184.85" cy="450.40" r="0.92" fill="#c8102e" />
<circle cx="187.85" cy="450.40" r="0.92" fill="#c8102e" />
<circle cx="190.85" cy="450.40" r="0.92" fill="#c8102e" />
<text x="180.35" y="510.80" font-size="6.4" text-anchor="middle" fill="#333" stroke="#333" stroke-width="0.12">V</text>
<text x="185.55" y="510.80" font-size="6.4" text-anchor="middle" fill="#f0a850" stroke="#f0a850" stroke-width="0.12">IF</text>
<text x="193.85" y="510.80" font-size="6.4" text-anchor="middle" fill="#333" stroke="#333" stroke-width="0.12">V</text>
<text x="199.35" y="510.80" font-size="6.4" text-anchor="middle" fill="#f0a850" stroke="#f0a850" stroke-width="0.12">IF</text>
<rect x="237.40" y="459.30" width="3.50" height="2.20" fill="#fbe6ea" stroke="#e8909c" stroke-width="0.6" />
<rect x="237.40" y="459.60" width="3.50" height="1.90" fill="#f4c4cc" />
<rect x="237.10" y="461.50" width="4.10" height="41.40" fill="#c8102e" />
<line x1="239.15" y1="456.30" x2="239.15" y2="459.30" stroke="#e8909c" stroke-width="0.6" />
<line x1="238.15" y1="456.30" x2="240.15" y2="456.30" stroke="#e8909c" stroke-width="0.7" />
<rect x="242.90" y="459.30" width="3.50" height="16.00" fill="#fff" stroke="#e8909c" stroke-width="0.6" />
<rect x="242.90" y="472.10" width="3.50" height="3.20" fill="#f4c4cc" />
<rect x="242.60" y="475.30" width="4.10" height="27.60" fill="#c8102e" />
<line x1="244.65" y1="455.40" x2="244.65" y2="459.30" stroke="#e8909c" stroke-width="0.6" />
<line x1="243.65" y1="455.40" x2="245.65" y2="455.40" stroke="#e8909c" stroke-width="0.7" />
<rect x="251.00" y="458.70" width="4.10" height="44.20" fill="#1a4a82" />
<rect x="256.80" y="459.00" width="3.50" height="6.00" fill="#fff" stroke="#6a9ccc" stroke-width="0.6" />
<rect x="256.80" y="462.50" width="3.50" height="2.50" fill="#a8c8e8" />
<rect x="256.50" y="465.00" width="4.10" height="37.90" fill="#1a4a82" />
<line x1="258.55" y1="456.00" x2="258.55" y2="459.00" stroke="#6a9ccc" stroke-width="0.6" />
<line x1="257.55" y1="456.00" x2="259.55" y2="456.00" stroke="#6a9ccc" stroke-width="0.7" />
<circle cx="239.00" cy="450.40" r="0.92" fill="#c8102e" />
<circle cx="242.00" cy="450.40" r="0.92" fill="#c8102e" />
<circle cx="245.00" cy="450.40" r="0.92" fill="#c8102e" />
<text x="239.15" y="510.80" font-size="6.4" text-anchor="middle" fill="#333" stroke="#333" stroke-width="0.12">V</text>
<text x="244.65" y="510.80" font-size="6.4" text-anchor="middle" fill="#f0a850" stroke="#f0a850" stroke-width="0.12">IF</text>
<text x="253.05" y="510.80" font-size="6.4" text-anchor="middle" fill="#333" stroke="#333" stroke-width="0.12">V</text>
<text x="258.55" y="510.80" font-size="6.4" text-anchor="middle" fill="#f0a850" stroke="#f0a850" stroke-width="0.12">IF</text>
<rect x="299.20" y="459.30" width="4.10" height="43.60" fill="#c8102e" />
<line x1="301.25" y1="456.30" x2="301.25" y2="459.30" stroke="#c8102e" stroke-width="0.6" />
<line x1="300.25" y1="456.30" x2="302.25" y2="456.30" stroke="#c8102e" stroke-width="0.7" />
<rect x="305.70" y="459.30" width="3.50" height="17.20" fill="#fff" stroke="#e8909c" stroke-width="0.6" />
<rect x="305.70" y="473.30" width="3.50" height="3.20" fill="#f4c4cc" />
<rect x="305.40" y="476.50" width="4.10" height="26.40" fill="#c8102e" />
<line x1="307.45" y1="455.40" x2="307.45" y2="459.30" stroke="#e8909c" stroke-width="0.6" />
<line x1="306.45" y1="455.40" x2="308.45" y2="455.40" stroke="#e8909c" stroke-width="0.7" />
<rect x="313.10" y="458.70" width="4.10" height="44.20" fill="#1a4a82" />
<rect x="319.60" y="459.00" width="3.50" height="6.60" fill="#fff" stroke="#6a9ccc" stroke-width="0.6" />
<rect x="319.60" y="463.10" width="3.50" height="2.50" fill="#a8c8e8" />
<rect x="319.30" y="465.60" width="4.10" height="37.30" fill="#1a4a82" />
<line x1="321.35" y1="456.00" x2="321.35" y2="459.00" stroke="#6a9ccc" stroke-width="0.6" />
<line x1="320.35" y1="456.00" x2="322.35" y2="456.00" stroke="#6a9ccc" stroke-width="0.7" />
<circle cx="303.00" cy="450.40" r="0.92" fill="#c8102e" />
<circle cx="306.00" cy="450.40" r="0.92" fill="#c8102e" />
<circle cx="309.00" cy="450.40" r="0.92" fill="#c8102e" />
<circle cx="312.00" cy="450.40" r="0.92" fill="#c8102e" />
<text x="301.25" y="510.80" font-size="6.4" text-anchor="middle" fill="#333" stroke="#333" stroke-width="0.12">V</text>
<text x="307.45" y="510.80" font-size="6.4" text-anchor="middle" fill="#f0a850" stroke="#f0a850" stroke-width="0.12">IF</text>
<text x="315.15" y="510.80" font-size="6.4" text-anchor="middle" fill="#333" stroke="#333" stroke-width="0.12">V</text>
<text x="321.35" y="510.80" font-size="6.4" text-anchor="middle" fill="#f0a850" stroke="#f0a850" stroke-width="0.12">IF</text>
<rect x="360.90" y="459.30" width="3.50" height="0.20" fill="#fbe6ea" stroke="#e8909c" stroke-width="0.6" />
<rect x="360.60" y="459.50" width="4.10" height="43.40" fill="#c8102e" />
<line x1="362.65" y1="456.30" x2="362.65" y2="459.30" stroke="#e8909c" stroke-width="0.6" />
<line x1="361.65" y1="456.30" x2="363.65" y2="456.30" stroke="#e8909c" stroke-width="0.7" />
<rect x="367.10" y="459.30" width="3.50" height="20.20" fill="#fff" stroke="#e8909c" stroke-width="0.6" />
<rect x="367.10" y="476.30" width="3.50" height="3.20" fill="#f4c4cc" />
<rect x="366.80" y="479.50" width="4.10" height="23.40" fill="#c8102e" />
<line x1="368.85" y1="455.40" x2="368.85" y2="459.30" stroke="#e8909c" stroke-width="0.6" />
<line x1="367.85" y1="455.40" x2="369.85" y2="455.40" stroke="#e8909c" stroke-width="0.7" />
<rect x="374.90" y="458.70" width="4.10" height="44.20" fill="#1a4a82" />
<rect x="381.30" y="459.00" width="3.50" height="6.60" fill="#fff" stroke="#6a9ccc" stroke-width="0.6" />
<rect x="381.30" y="463.10" width="3.50" height="2.50" fill="#a8c8e8" />
<rect x="381.00" y="465.60" width="4.10" height="37.30" fill="#1a4a82" />
<line x1="383.05" y1="456.00" x2="383.05" y2="459.00" stroke="#6a9ccc" stroke-width="0.6" />
<line x1="382.05" y1="456.00" x2="384.05" y2="456.00" stroke="#6a9ccc" stroke-width="0.7" />
<circle cx="365.00" cy="450.40" r="0.92" fill="#c8102e" />
<circle cx="368.00" cy="450.40" r="0.92" fill="#c8102e" />
<circle cx="371.00" cy="450.40" r="0.92" fill="#c8102e" />
<circle cx="374.00" cy="450.40" r="0.92" fill="#c8102e" />
<text x="362.65" y="510.80" font-size="6.4" text-anchor="middle" fill="#333" stroke="#333" stroke-width="0.12">V</text>
<text x="368.85" y="510.80" font-size="6.4" text-anchor="middle" fill="#f0a850" stroke="#f0a850" stroke-width="0.12">IF</text>
<text x="376.95" y="510.80" font-size="6.4" text-anchor="middle" fill="#333" stroke="#333" stroke-width="0.12">V</text>
<text x="383.05" y="510.80" font-size="6.4" text-anchor="middle" fill="#f0a850" stroke="#f0a850" stroke-width="0.12">IF</text>
<rect x="422.70" y="459.30" width="4.10" height="43.60" fill="#c8102e" />
<line x1="424.75" y1="456.30" x2="424.75" y2="459.30" stroke="#c8102e" stroke-width="0.6" />
<line x1="423.75" y1="456.30" x2="425.75" y2="456.30" stroke="#c8102e" stroke-width="0.7" />
<rect x="429.60" y="459.30" width="3.50" height="20.20" fill="#fff" stroke="#e8909c" stroke-width="0.6" />
<rect x="429.60" y="476.30" width="3.50" height="3.20" fill="#f4c4cc" />
<rect x="429.30" y="479.50" width="4.10" height="23.40" fill="#c8102e" />
<line x1="431.35" y1="455.40" x2="431.35" y2="459.30" stroke="#e8909c" stroke-width="0.6" />
<line x1="430.35" y1="455.40" x2="432.35" y2="455.40" stroke="#e8909c" stroke-width="0.7" />
<rect x="438.00" y="458.70" width="4.10" height="44.20" fill="#1a4a82" />
<rect x="445.70" y="459.00" width="3.50" height="6.60" fill="#fff" stroke="#6a9ccc" stroke-width="0.6" />
<rect x="445.70" y="463.10" width="3.50" height="2.50" fill="#a8c8e8" />
<rect x="445.40" y="465.60" width="4.10" height="37.30" fill="#1a4a82" />
<line x1="447.45" y1="456.00" x2="447.45" y2="459.00" stroke="#6a9ccc" stroke-width="0.6" />
<line x1="446.45" y1="456.00" x2="448.45" y2="456.00" stroke="#6a9ccc" stroke-width="0.7" />
<circle cx="427.70" cy="450.40" r="0.92" fill="#c8102e" />
<circle cx="430.70" cy="450.40" r="0.92" fill="#c8102e" />
<circle cx="433.70" cy="450.40" r="0.92" fill="#c8102e" />
<circle cx="436.70" cy="450.40" r="0.92" fill="#c8102e" />
<text x="424.75" y="510.80" font-size="6.4" text-anchor="middle" fill="#333" stroke="#333" stroke-width="0.12">V</text>
<text x="431.35" y="510.80" font-size="6.4" text-anchor="middle" fill="#f0a850" stroke="#f0a850" stroke-width="0.12">IF</text>
<text x="440.05" y="510.80" font-size="6.4" text-anchor="middle" fill="#333" stroke="#333" stroke-width="0.12">V</text>
<text x="447.45" y="510.80" font-size="6.4" text-anchor="middle" fill="#f0a850" stroke="#f0a850" stroke-width="0.12">IF</text>
<text x="6.50" y="532.20" font-size="10.5" fill="#111" font-weight="bold" stroke="#111" stroke-width="0.12">F</text>
<text x="125.70" y="532.30" font-size="8.5" fill="#333" textLength="218.00" lengthAdjust="spacingAndGlyphs" stroke="#333" stroke-width="0.12">Frequency and GFP chimerism in HSPCs cells from spleen</text>
<text x="56.88" y="545.00" font-size="6.5" text-anchor="middle" fill="#333" textLength="21.25" lengthAdjust="spacingAndGlyphs" stroke="#333" stroke-width="0.12">LT-HSC</text>
<line x1="32.00" y1="549.60" x2="82.00" y2="549.60" stroke="#444" stroke-width="1.0" />
<text x="117.15" y="545.00" font-size="6.5" text-anchor="middle" fill="#333" textLength="16.30" lengthAdjust="spacingAndGlyphs" stroke="#333" stroke-width="0.12">MPP1</text>
<line x1="98.70" y1="549.60" x2="135.00" y2="549.60" stroke="#444" stroke-width="1.0" />
<text x="172.05" y="545.00" font-size="6.5" text-anchor="middle" fill="#333" textLength="21.70" lengthAdjust="spacingAndGlyphs" stroke="#333" stroke-width="0.12">MPP2-4</text>
<line x1="153.80" y1="549.60" x2="190.50" y2="549.60" stroke="#444" stroke-width="1.0" />
<text x="226.90" y="545.00" font-size="6.5" text-anchor="middle" fill="#333" textLength="13.80" lengthAdjust="spacingAndGlyphs" stroke="#333" stroke-width="0.12">CMP</text>
<line x1="208.00" y1="549.60" x2="245.00" y2="549.60" stroke="#444" stroke-width="1.0" />
<text x="281.55" y="545.00" font-size="6.5" text-anchor="middle" fill="#333" textLength="13.90" lengthAdjust="spacingAndGlyphs" stroke="#333" stroke-width="0.12">MEP</text>
<line x1="262.50" y1="549.60" x2="298.80" y2="549.60" stroke="#444" stroke-width="1.0" />
<text x="334.35" y="545.00" font-size="6.5" text-anchor="middle" fill="#333" textLength="12.10" lengthAdjust="spacingAndGlyphs" stroke="#333" stroke-width="0.12">MkP</text>
<line x1="316.20" y1="549.60" x2="353.50" y2="549.60" stroke="#444" stroke-width="1.0" />
<text x="391.75" y="545.00" font-size="6.5" text-anchor="middle" fill="#333" textLength="18.50" lengthAdjust="spacingAndGlyphs" stroke="#333" stroke-width="0.12">CFU-E</text>
<line x1="373.30" y1="549.60" x2="410.80" y2="549.60" stroke="#444" stroke-width="1.0" />
<text x="23.80" y="559.30" font-size="6.6" text-anchor="middle" fill="#333" stroke="#333" stroke-width="0.12">%</text>
<line x1="32.20" y1="564.50" x2="32.20" y2="610.65" stroke="#222" stroke-width="1.1" />
<line x1="29.70" y1="566.80" x2="32.20" y2="566.80" stroke="#222" stroke-width="0.7" />
<text x="26.60" y="569.10" font-size="6.4" text-anchor="end" fill="#333" stroke="#333" stroke-width="0.12">0.15</text>
<line x1="29.70" y1="581.30" x2="32.20" y2="581.30" stroke="#222" stroke-width="0.7" />
<text x="26.60" y="583.60" font-size="6.4" text-anchor="end" fill="#333" stroke="#333" stroke-width="0.12">0.10</text>
<line x1="29.70" y1="596.20" x2="32.20" y2="596.20" stroke="#222" stroke-width="0.7" />
<text x="26.60" y="598.50" font-size="6.4" text-anchor="end" fill="#333" stroke="#333" stroke-width="0.12">0.05</text>
<line x1="29.70" y1="610.20" x2="32.20" y2="610.20" stroke="#222" stroke-width="0.7" />
<text x="26.60" y="612.50" font-size="6.4" text-anchor="end" fill="#333" stroke="#333" stroke-width="0.12">0</text>
<line x1="31.75" y1="610.20" x2="46.00" y2="610.20" stroke="#222" stroke-width="1.15" />
<rect x="35.00" y="603.80" width="3.90" height="6.40" fill="#c8102e" />
<line x1="36.95" y1="602.00" x2="36.95" y2="603.80" stroke="#c8102e" stroke-width="0.6" />
<line x1="35.95" y1="602.00" x2="37.95" y2="602.00" stroke="#c8102e" stroke-width="0.7" />
<line x1="36.95" y1="610.20" x2="36.95" y2="612.00" stroke="#222" stroke-width="0.6" />
<rect x="40.80" y="607.00" width="3.30" height="2.20" fill="#fff" stroke="#e8909c" stroke-width="0.6" />
<rect x="40.50" y="609.20" width="3.90" height="1.00" fill="#c8102e" />
<line x1="42.45" y1="610.20" x2="42.45" y2="612.00" stroke="#222" stroke-width="0.6" />
<line x1="68.80" y1="564.50" x2="68.80" y2="610.65" stroke="#222" stroke-width="1.1" />
<line x1="66.30" y1="566.30" x2="68.80" y2="566.30" stroke="#222" stroke-width="0.7" />
<text x="63.20" y="568.60" font-size="6.4" text-anchor="end" fill="#333" stroke="#333" stroke-width="0.12">2.5</text>
<line x1="66.30" y1="575.10" x2="68.80" y2="575.10" stroke="#222" stroke-width="0.7" />
<text x="63.20" y="577.40" font-size="6.4" text-anchor="end" fill="#333" stroke="#333" stroke-width="0.12">2.0</text>
<line x1="66.30" y1="583.90" x2="68.80" y2="583.90" stroke="#222" stroke-width="0.7" />
<text x="63.20" y="586.20" font-size="6.4" text-anchor="end" fill="#333" stroke="#333" stroke-width="0.12">1.5</text>
<line x1="66.30" y1="592.60" x2="68.80" y2="592.60" stroke="#222" stroke-width="0.7" />
<text x="63.20" y="594.90" font-size="6.4" text-anchor="end" fill="#333" stroke="#333" stroke-width="0.12">1.0</text>
<line x1="66.30" y1="601.40" x2="68.80" y2="601.40" stroke="#222" stroke-width="0.7" />
<text x="63.20" y="603.70" font-size="6.4" text-anchor="end" fill="#333" stroke="#333" stroke-width="0.12">0.5</text>
<line x1="66.30" y1="610.20" x2="68.80" y2="610.20" stroke="#222" stroke-width="0.7" />
<text x="63.20" y="612.50" font-size="6.4" text-anchor="end" fill="#333" stroke="#333" stroke-width="0.12">0.0</text>
<line x1="68.35" y1="610.20" x2="83.00" y2="610.20" stroke="#222" stroke-width="1.15" />
<rect x="72.00" y="602.00" width="3.90" height="8.20" fill="#1a4a82" />
<line x1="73.95" y1="598.00" x2="73.95" y2="602.00" stroke="#1a4a82" stroke-width="0.6" />
<line x1="72.95" y1="598.00" x2="74.95" y2="598.00" stroke="#1a4a82" stroke-width="0.7" />
<line x1="73.95" y1="610.20" x2="73.95" y2="612.00" stroke="#222" stroke-width="0.6" />
<rect x="77.50" y="609.20" width="3.90" height="1.00" fill="#1a4a82" />
<line x1="79.45" y1="610.20" x2="79.45" y2="612.00" stroke="#222" stroke-width="0.6" />
<circle cx="77.00" cy="585.80" r="0.92" fill="#1a4a82" />
<circle cx="80.00" cy="585.80" r="0.92" fill="#1a4a82" />
<circle cx="83.00" cy="585.80" r="0.92" fill="#1a4a82" />
<line x1="113.50" y1="565.60" x2="113.50" y2="610.65" stroke="#222" stroke-width="1.1" />
<line x1="111.00" y1="568.20" x2="113.50" y2="568.20" stroke="#222" stroke-width="0.7" />
<text x="107.90" y="570.50" font-size="6.4" text-anchor="end" fill="#333" stroke="#333" stroke-width="0.12">0.15</text>
<line x1="111.00" y1="582.30" x2="113.50" y2="582.30" stroke="#222" stroke-width="0.7" />
<text x="107.90" y="584.60" font-size="6.4" text-anchor="end" fill="#333" stroke="#333" stroke-width="0.12">0.10</text>
<line x1="111.00" y1="596.20" x2="113.50" y2="596.20" stroke="#222" stroke-width="0.7" />
<text x="107.90" y="598.50" font-size="6.4" text-anchor="end" fill="#333" stroke="#333" stroke-width="0.12">0.05</text>
<line x1="111.00" y1="610.20" x2="113.50" y2="610.20" stroke="#222" stroke-width="0.7" />
<text x="107.90" y="612.50" font-size="6.4" text-anchor="end" fill="#333" stroke="#333" stroke-width="0.12">0.00</text>
<line x1="113.05" y1="610.20" x2="139.40" y2="610.20" stroke="#222" stroke-width="1.15" />
<rect x="115.10" y="608.40" width="3.90" height="1.80" fill="#c8102e" />
<line x1="117.05" y1="610.20" x2="117.05" y2="612.00" stroke="#222" stroke-width="0.6" />
<rect x="121.20" y="606.30" width="3.30" height="3.10" fill="#fff" stroke="#e8909c" stroke-width="0.6" />
<rect x="120.90" y="609.40" width="3.90" height="0.80" fill="#c8102e" />
<line x1="122.85" y1="610.20" x2="122.85" y2="612.00" stroke="#222" stroke-width="0.6" />
<rect x="128.00" y="601.70" width="3.90" height="8.50" fill="#1a4a82" />
<line x1="129.95" y1="599.60" x2="129.95" y2="601.70" stroke="#1a4a82" stroke-width="0.6" />
<line x1="128.95" y1="599.60" x2="130.95" y2="599.60" stroke="#1a4a82" stroke-width="0.7" />
<line x1="129.95" y1="610.20" x2="129.95" y2="612.00" stroke="#222" stroke-width="0.6" />
<rect x="134.10" y="592.00" width="3.90" height="18.20" fill="#1a4a82" />
<line x1="136.05" y1="591.00" x2="136.05" y2="592.00" stroke="#1a4a82" stroke-width="0.6" />
<line x1="135.05" y1="591.00" x2="137.05" y2="591.00" stroke="#1a4a82" stroke-width="0.7" />
<line x1="136.05" y1="610.20" x2="136.05" y2="612.00" stroke="#222" stroke-width="0.6" />
<line x1="165.10" y1="564.50" x2="165.10" y2="610.65" stroke="#222" stroke-width="1.1" />
<line x1="162.60" y1="566.30" x2="165.10" y2="566.30" stroke="#222" stroke-width="0.7" />
<text x="159.50" y="568.60" font-size="6.4" text-anchor="end" fill="#333" stroke="#333" stroke-width="0.12">2.5</text>
<line x1="162.60" y1="575.10" x2="165.10" y2="575.10" stroke="#222" stroke-width="0.7" />
<text x="159.50" y="577.40" font-size="6.4" text-anchor="end" fill="#333" stroke="#333" stroke-width="0.12">2.0</text>
<line x1="162.60" y1="583.90" x2="165.10" y2="583.90" stroke="#222" stroke-width="0.7" />
<text x="159.50" y="586.20" font-size="6.4" text-anchor="end" fill="#333" stroke="#333" stroke-width="0.12">1.5</text>
<line x1="162.60" y1="592.60" x2="165.10" y2="592.60" stroke="#222" stroke-width="0.7" />
<text x="159.50" y="594.90" font-size="6.4" text-anchor="end" fill="#333" stroke="#333" stroke-width="0.12">1.0</text>
<line x1="162.60" y1="601.40" x2="165.10" y2="601.40" stroke="#222" stroke-width="0.7" />
<text x="159.50" y="603.70" font-size="6.4" text-anchor="end" fill="#333" stroke="#333" stroke-width="0.12">0.5</text>
<line x1="162.60" y1="610.20" x2="165.10" y2="610.20" stroke="#222" stroke-width="0.7" />
<text x="159.50" y="612.50" font-size="6.4" text-anchor="end" fill="#333" stroke="#333" stroke-width="0.12">0.0</text>
<line x1="164.65" y1="610.20" x2="192.00" y2="610.20" stroke="#222" stroke-width="1.15" />
<rect x="166.80" y="609.20" width="3.90" height="1.00" fill="#c8102e" />
<line x1="168.75" y1="610.20" x2="168.75" y2="612.00" stroke="#222" stroke-width="0.6" />
<rect x="172.90" y="607.10" width="3.90" height="3.10" fill="#c8102e" />
<line x1="174.85" y1="606.30" x2="174.85" y2="607.10" stroke="#c8102e" stroke-width="0.6" />
<line x1="173.85" y1="606.30" x2="175.85" y2="606.30" stroke="#c8102e" stroke-width="0.7" />
<line x1="174.85" y1="610.20" x2="174.85" y2="612.00" stroke="#222" stroke-width="0.6" />
<rect x="180.00" y="609.20" width="3.90" height="1.00" fill="#1a4a82" />
<line x1="181.95" y1="610.20" x2="181.95" y2="612.00" stroke="#222" stroke-width="0.6" />
<rect x="186.60" y="604.20" width="3.90" height="6.00" fill="#1a4a82" />
<line x1="188.55" y1="603.00" x2="188.55" y2="604.20" stroke="#1a4a82" stroke-width="0.6" />
<line x1="187.55" y1="603.00" x2="189.55" y2="603.00" stroke="#1a4a82" stroke-width="0.7" />
<line x1="188.55" y1="610.20" x2="188.55" y2="612.00" stroke="#222" stroke-width="0.6" />
<circle cx="184.40" cy="591.70" r="0.92" fill="#1a4a82" />
<circle cx="187.40" cy="591.70" r="0.92" fill="#1a4a82" />
<circle cx="190.40" cy="591.70" r="0.92" fill="#1a4a82" />
<circle cx="193.40" cy="591.70" r="0.92" fill="#1a4a82" />
<line x1="220.20" y1="563.80" x2="220.20" y2="610.65" stroke="#222" stroke-width="1.1" />
<line x1="217.70" y1="565.80" x2="220.20" y2="565.80" stroke="#222" stroke-width="0.7" />
<text x="214.60" y="568.10" font-size="6.4" text-anchor="end" fill="#333" stroke="#333" stroke-width="0.12">1.0</text>
<line x1="217.70" y1="574.80" x2="220.20" y2="574.80" stroke="#222" stroke-width="0.7" />
<text x="214.60" y="577.10" font-size="6.4" text-anchor="end" fill="#333" stroke="#333" stroke-width="0.12">0.8</text>
<line x1="217.70" y1="583.80" x2="220.20" y2="583.80" stroke="#222" stroke-width="0.7" />
<text x="214.60" y="586.10" font-size="6.4" text-anchor="end" fill="#333" stroke="#333" stroke-width="0.12">0.6</text>
<line x1="217.70" y1="592.70" x2="220.20" y2="592.70" stroke="#222" stroke-width="0.7" />
<text x="214.60" y="595.00" font-size="6.4" text-anchor="end" fill="#333" stroke="#333" stroke-width="0.12">0.4</text>
<line x1="217.70" y1="601.60" x2="220.20" y2="601.60" stroke="#222" stroke-width="0.7" />
<text x="214.60" y="603.90" font-size="6.4" text-anchor="end" fill="#333" stroke="#333" stroke-width="0.12">0.2</text>
<line x1="217.70" y1="610.50" x2="220.20" y2="610.50" stroke="#222" stroke-width="0.7" />
<text x="214.60" y="612.80" font-size="6.4" text-anchor="end" fill="#333" stroke="#333" stroke-width="0.12">0.0</text>
<line x1="219.75" y1="610.20" x2="247.90" y2="610.20" stroke="#222" stroke-width="1.15" />
<rect x="222.20" y="601.50" width="3.90" height="8.70" fill="#c8102e" />
<line x1="224.15" y1="599.80" x2="224.15" y2="601.50" stroke="#c8102e" stroke-width="0.6" />
<line x1="223.15" y1="599.80" x2="225.15" y2="599.80" stroke="#c8102e" stroke-width="0.7" />
<line x1="224.15" y1="610.20" x2="224.15" y2="612.00" stroke="#222" stroke-width="0.6" />
<rect x="228.30" y="609.80" width="3.90" height="0.40" fill="#c8102e" />
<line x1="230.25" y1="610.20" x2="230.25" y2="612.00" stroke="#222" stroke-width="0.6" />
<rect x="236.30" y="603.30" width="3.90" height="6.90" fill="#1a4a82" />
<line x1="238.25" y1="601.50" x2="238.25" y2="603.30" stroke="#1a4a82" stroke-width="0.6" />
<line x1="237.25" y1="601.50" x2="239.25" y2="601.50" stroke="#1a4a82" stroke-width="0.7" />
<line x1="238.25" y1="610.20" x2="238.25" y2="612.00" stroke="#222" stroke-width="0.6" />
<rect x="242.40" y="609.80" width="3.90" height="0.40" fill="#1a4a82" />
<line x1="244.35" y1="610.20" x2="244.35" y2="612.00" stroke="#222" stroke-width="0.6" />
<circle cx="225.80" cy="584.50" r="0.92" fill="#c8102e" />
<circle cx="228.80" cy="584.50" r="0.92" fill="#c8102e" />
<circle cx="231.80" cy="584.50" r="0.92" fill="#c8102e" />
<circle cx="234.80" cy="584.50" r="0.92" fill="#c8102e" />
<circle cx="241.65" cy="584.50" r="0.92" fill="#1a4a82" />
<circle cx="244.65" cy="584.50" r="0.92" fill="#1a4a82" />
<circle cx="247.65" cy="584.50" r="0.92" fill="#1a4a82" />
<circle cx="250.65" cy="584.50" r="0.92" fill="#1a4a82" />
<line x1="274.00" y1="563.80" x2="274.00" y2="610.65" stroke="#222" stroke-width="1.1" />
<line x1="271.50" y1="565.80" x2="274.00" y2="565.80" stroke="#222" stroke-width="0.7" />
<text x="268.40" y="568.10" font-size="6.4" text-anchor="end" fill="#333" stroke="#333" stroke-width="0.12">0.8</text>
<line x1="271.50" y1="577.00" x2="274.00" y2="577.00" stroke="#222" stroke-width="0.7" />
<text x="268.40" y="579.30" font-size="6.4" text-anchor="end" fill="#333" stroke="#333" stroke-width="0.12">0.6</text>
<line x1="271.50" y1="588.20" x2="274.00" y2="588.20" stroke="#222" stroke-width="0.7" />
<text x="268.40" y="590.50" font-size="6.4" text-anchor="end" fill="#333" stroke="#333" stroke-width="0.12">0.4</text>
<line x1="271.50" y1="599.40" x2="274.00" y2="599.40" stroke="#222" stroke-width="0.7" />
<text x="268.40" y="601.70" font-size="6.4" text-anchor="end" fill="#333" stroke="#333" stroke-width="0.12">0.2</text>
<line x1="271.50" y1="610.50" x2="274.00" y2="610.50" stroke="#222" stroke-width="0.7" />
<text x="268.40" y="612.80" font-size="6.4" text-anchor="end" fill="#333" stroke="#333" stroke-width="0.12">0.0</text>
<line x1="273.55" y1="610.20" x2="302.30" y2="610.20" stroke="#222" stroke-width="1.15" />
<rect x="276.30" y="598.70" width="3.90" height="11.50" fill="#c8102e" />
<line x1="278.25" y1="597.50" x2="278.25" y2="598.70" stroke="#c8102e" stroke-width="0.6" />
<line x1="277.25" y1="597.50" x2="279.25" y2="597.50" stroke="#c8102e" stroke-width="0.7" />
<line x1="278.25" y1="610.20" x2="278.25" y2="612.00" stroke="#222" stroke-width="0.6" />
<rect x="282.10" y="609.20" width="3.90" height="1.00" fill="#c8102e" />
<line x1="284.05" y1="610.20" x2="284.05" y2="612.00" stroke="#222" stroke-width="0.6" />
<rect x="290.30" y="594.60" width="3.90" height="15.60" fill="#1a4a82" />
<line x1="292.25" y1="592.30" x2="292.25" y2="594.60" stroke="#1a4a82" stroke-width="0.6" />
<line x1="291.25" y1="592.30" x2="293.25" y2="592.30" stroke="#1a4a82" stroke-width="0.7" />
<line x1="292.25" y1="610.20" x2="292.25" y2="612.00" stroke="#222" stroke-width="0.6" />
<rect x="296.50" y="606.20" width="3.90" height="4.00" fill="#1a4a82" />
<line x1="298.45" y1="610.20" x2="298.45" y2="612.00" stroke="#222" stroke-width="0.6" />
<circle cx="279.35" cy="584.20" r="0.92" fill="#c8102e" />
<circle cx="282.35" cy="584.20" r="0.92" fill="#c8102e" />
<circle cx="285.35" cy="584.20" r="0.92" fill="#c8102e" />
<circle cx="288.35" cy="584.20" r="0.92" fill="#c8102e" />
<circle cx="297.35" cy="584.20" r="0.92" fill="#1a4a82" />
<circle cx="300.35" cy="584.20" r="0.92" fill="#1a4a82" />
<circle cx="303.35" cy="584.20" r="0.92" fill="#1a4a82" />
<circle cx="306.35" cy="584.20" r="0.92" fill="#1a4a82" />
<line x1="328.50" y1="563.80" x2="328.50" y2="610.65" stroke="#222" stroke-width="1.1" />
<line x1="326.00" y1="565.80" x2="328.50" y2="565.80" stroke="#222" stroke-width="0.7" />
<text x="322.90" y="568.10" font-size="6.4" text-anchor="end" fill="#333" stroke="#333" stroke-width="0.12">0.8</text>
<line x1="326.00" y1="577.00" x2="328.50" y2="577.00" stroke="#222" stroke-width="0.7" />
<text x="322.90" y="579.30" font-size="6.4" text-anchor="end" fill="#333" stroke="#333" stroke-width="0.12">0.6</text>
<line x1="326.00" y1="588.20" x2="328.50" y2="588.20" stroke="#222" stroke-width="0.7" />
<text x="322.90" y="590.50" font-size="6.4" text-anchor="end" fill="#333" stroke="#333" stroke-width="0.12">0.4</text>
<line x1="326.00" y1="599.40" x2="328.50" y2="599.40" stroke="#222" stroke-width="0.7" />
<text x="322.90" y="601.70" font-size="6.4" text-anchor="end" fill="#333" stroke="#333" stroke-width="0.12">0.2</text>
<line x1="326.00" y1="610.50" x2="328.50" y2="610.50" stroke="#222" stroke-width="0.7" />
<text x="322.90" y="612.80" font-size="6.4" text-anchor="end" fill="#333" stroke="#333" stroke-width="0.12">0.0</text>
<line x1="328.05" y1="610.20" x2="355.90" y2="610.20" stroke="#222" stroke-width="1.15" />
<rect x="330.20" y="606.70" width="3.90" height="3.50" fill="#c8102e" />
<line x1="332.15" y1="605.50" x2="332.15" y2="606.70" stroke="#c8102e" stroke-width="0.6" />
<line x1="331.15" y1="605.50" x2="333.15" y2="605.50" stroke="#c8102e" stroke-width="0.7" />
<line x1="332.15" y1="610.20" x2="332.15" y2="612.00" stroke="#222" stroke-width="0.6" />
<rect x="344.30" y="602.10" width="3.90" height="8.10" fill="#1a4a82" />
<line x1="346.25" y1="600.20" x2="346.25" y2="602.10" stroke="#1a4a82" stroke-width="0.6" />
<line x1="345.25" y1="600.20" x2="347.25" y2="600.20" stroke="#1a4a82" stroke-width="0.7" />
<line x1="346.25" y1="610.20" x2="346.25" y2="612.00" stroke="#222" stroke-width="0.6" />
<rect x="350.30" y="609.80" width="3.90" height="0.40" fill="#1a4a82" />
<line x1="352.25" y1="610.20" x2="352.25" y2="612.00" stroke="#222" stroke-width="0.6" />
<circle cx="340.90" cy="584.40" r="0.92" fill="#1a4a82" />
<circle cx="348.20" cy="584.40" r="0.92" fill="#1a4a82" />
<circle cx="351.20" cy="584.40" r="0.92" fill="#1a4a82" />
<circle cx="354.20" cy="584.40" r="0.92" fill="#1a4a82" />
<circle cx="357.20" cy="584.40" r="0.92" fill="#1a4a82" />
<line x1="338.20" y1="610.20" x2="338.20" y2="612.00" stroke="#222" stroke-width="0.6" />
<line x1="385.60" y1="563.50" x2="385.60" y2="610.65" stroke="#222" stroke-width="1.1" />
<line x1="383.10" y1="565.20" x2="385.60" y2="565.20" stroke="#222" stroke-width="0.7" />
<text x="380.00" y="567.50" font-size="6.4" text-anchor="end" fill="#333" stroke="#333" stroke-width="0.12">0.20</text>
<line x1="383.10" y1="577.30" x2="385.60" y2="577.30" stroke="#222" stroke-width="0.7" />
<text x="380.00" y="579.60" font-size="6.4" text-anchor="end" fill="#333" stroke="#333" stroke-width="0.12">0.15</text>
<line x1="383.10" y1="588.30" x2="385.60" y2="588.30" stroke="#222" stroke-width="0.7" />
<text x="380.00" y="590.60" font-size="6.4" text-anchor="end" fill="#333" stroke="#333" stroke-width="0.12">0.10</text>
<line x1="383.10" y1="599.20" x2="385.60" y2="599.20" stroke="#222" stroke-width="0.7" />
<text x="380.00" y="601.50" font-size="6.4" text-anchor="end" fill="#333" stroke="#333" stroke-width="0.12">0.05</text>
<line x1="383.10" y1="610.20" x2="385.60" y2="610.20" stroke="#222" stroke-width="0.7" />
<text x="380.00" y="612.50" font-size="6.4" text-anchor="end" fill="#333" stroke="#333" stroke-width="0.12">0.0</text>
<line x1="385.15" y1="610.20" x2="413.80" y2="610.20" stroke="#222" stroke-width="1.15" />
<rect x="388.20" y="587.10" width="3.90" height="23.10" fill="#c8102e" />
<line x1="390.15" y1="584.20" x2="390.15" y2="587.10" stroke="#c8102e" stroke-width="0.6" />
<line x1="389.15" y1="584.20" x2="391.15" y2="584.20" stroke="#c8102e" stroke-width="0.7" />
<line x1="390.15" y1="610.20" x2="390.15" y2="612.00" stroke="#222" stroke-width="0.6" />
<rect x="394.00" y="604.40" width="3.30" height="4.10" fill="#fff" stroke="#e8909c" stroke-width="0.6" />
<rect x="393.70" y="608.50" width="3.90" height="1.70" fill="#c8102e" />
<line x1="395.65" y1="602.10" x2="395.65" y2="604.40" stroke="#e8909c" stroke-width="0.6" />
<line x1="394.65" y1="602.10" x2="396.65" y2="602.10" stroke="#e8909c" stroke-width="0.7" />
<line x1="395.65" y1="610.20" x2="395.65" y2="612.00" stroke="#222" stroke-width="0.6" />
<rect x="402.30" y="594.60" width="3.90" height="15.60" fill="#1a4a82" />
<line x1="404.25" y1="592.10" x2="404.25" y2="594.60" stroke="#1a4a82" stroke-width="0.6" />
<line x1="403.25" y1="592.10" x2="405.25" y2="592.10" stroke="#1a4a82" stroke-width="0.7" />
<line x1="404.25" y1="610.20" x2="404.25" y2="612.00" stroke="#222" stroke-width="0.6" />
<rect x="408.10" y="604.40" width="3.90" height="5.80" fill="#1a4a82" />
<line x1="410.05" y1="610.20" x2="410.05" y2="612.00" stroke="#222" stroke-width="0.6" />
<circle cx="394.00" cy="584.50" r="0.92" fill="#c8102e" />
<circle cx="397.00" cy="584.50" r="0.92" fill="#c8102e" />
<circle cx="400.00" cy="584.50" r="0.92" fill="#c8102e" />
<circle cx="403.00" cy="584.50" r="0.92" fill="#c8102e" />
<circle cx="408.30" cy="584.50" r="0.92" fill="#1a4a82" />
<circle cx="411.30" cy="584.50" r="0.92" fill="#1a4a82" />
<circle cx="414.30" cy="584.50" r="0.92" fill="#1a4a82" />
<circle cx="417.30" cy="584.50" r="0.92" fill="#1a4a82" />
<text x="9.40" y="626.90" font-size="6.6" fill="#4caf50" textLength="16.70" lengthAdjust="spacingAndGlyphs" stroke="#4caf50" stroke-width="0.12">%GFP</text>
<line x1="31.80" y1="632.50" x2="31.80" y2="680.05" stroke="#222" stroke-width="1.1" />
<line x1="29.30" y1="635.60" x2="31.80" y2="635.60" stroke="#222" stroke-width="0.7" />
<text x="26.30" y="637.90" font-size="6.4" text-anchor="end" fill="#333" stroke="#333" stroke-width="0.12">100</text>
<line x1="29.30" y1="646.60" x2="31.80" y2="646.60" stroke="#222" stroke-width="0.7" />
<text x="26.30" y="648.90" font-size="6.4" text-anchor="end" fill="#333" stroke="#333" stroke-width="0.12">75</text>
<line x1="29.30" y1="657.60" x2="31.80" y2="657.60" stroke="#222" stroke-width="0.7" />
<text x="26.30" y="659.90" font-size="6.4" text-anchor="end" fill="#333" stroke="#333" stroke-width="0.12">50</text>
<line x1="29.30" y1="668.60" x2="31.80" y2="668.60" stroke="#222" stroke-width="0.7" />
<text x="26.30" y="670.90" font-size="6.4" text-anchor="end" fill="#333" stroke="#333" stroke-width="0.12">25</text>
<line x1="29.30" y1="679.60" x2="31.80" y2="679.60" stroke="#222" stroke-width="0.7" />
<text x="26.30" y="681.90" font-size="6.4" text-anchor="end" fill="#333" stroke="#333" stroke-width="0.12">0</text>
<line x1="30.40" y1="641.10" x2="31.80" y2="641.10" stroke="#222" stroke-width="0.6" />
<line x1="30.40" y1="652.10" x2="31.80" y2="652.10" stroke="#222" stroke-width="0.6" />
<line x1="30.40" y1="663.10" x2="31.80" y2="663.10" stroke="#222" stroke-width="0.6" />
<line x1="30.40" y1="674.10" x2="31.80" y2="674.10" stroke="#222" stroke-width="0.6" />
<line x1="31.50" y1="679.60" x2="414.20" y2="679.60" stroke="#222" stroke-width="1.15" />
<rect x="36.10" y="635.60" width="3.40" height="12.90" fill="#fff" stroke="#e8909c" stroke-width="0.6" />
<rect x="36.10" y="645.30" width="3.40" height="3.20" fill="#f4c4cc" />
<rect x="35.80" y="648.50" width="4.00" height="31.10" fill="#c8102e" />
<line x1="37.80" y1="632.80" x2="37.80" y2="635.60" stroke="#e8909c" stroke-width="0.6" />
<line x1="36.80" y1="632.80" x2="38.80" y2="632.80" stroke="#e8909c" stroke-width="0.7" />
<rect x="42.60" y="635.60" width="3.40" height="25.00" fill="#fff" stroke="#e8909c" stroke-width="0.6" />
<rect x="42.60" y="657.10" width="3.40" height="3.50" fill="#f4c4cc" />
<rect x="42.30" y="660.60" width="4.00" height="19.00" fill="#c8102e" />
<line x1="44.30" y1="632.50" x2="44.30" y2="635.60" stroke="#e8909c" stroke-width="0.6" />
<line x1="43.30" y1="632.50" x2="45.30" y2="632.50" stroke="#e8909c" stroke-width="0.7" />
<rect x="72.20" y="635.60" width="4.00" height="44.00" fill="#1a4a82" />
<rect x="78.90" y="635.60" width="3.40" height="4.00" fill="#fff" stroke="#6a9ccc" stroke-width="0.6" />
<rect x="78.90" y="637.10" width="3.40" height="2.50" fill="#a8c8e8" />
<rect x="78.60" y="639.60" width="4.00" height="40.00" fill="#1a4a82" />
<line x1="80.60" y1="633.00" x2="80.60" y2="635.60" stroke="#6a9ccc" stroke-width="0.6" />
<line x1="79.60" y1="633.00" x2="81.60" y2="633.00" stroke="#6a9ccc" stroke-width="0.7" />
<circle cx="42.90" cy="627.30" r="0.92" fill="#c8102e" />
<circle cx="45.90" cy="627.30" r="0.92" fill="#c8102e" />
<text x="37.80" y="687.50" font-size="6.4" text-anchor="middle" fill="#333" stroke="#333" stroke-width="0.12">V</text>
<text x="44.30" y="687.50" font-size="6.4" text-anchor="middle" fill="#f0a850" stroke="#f0a850" stroke-width="0.12">IF</text>
<text x="74.20" y="687.50" font-size="6.4" text-anchor="middle" fill="#333" stroke="#333" stroke-width="0.12">V</text>
<text x="80.60" y="687.50" font-size="6.4" text-anchor="middle" fill="#f0a850" stroke="#f0a850" stroke-width="0.12">IF</text>
<rect x="114.70" y="635.60" width="3.40" height="14.80" fill="#fff" stroke="#e8909c" stroke-width="0.6" />
<rect x="114.70" y="647.20" width="3.40" height="3.20" fill="#f4c4cc" />
<rect x="114.40" y="650.40" width="4.00" height="29.20" fill="#c8102e" />
<line x1="116.40" y1="632.80" x2="116.40" y2="635.60" stroke="#e8909c" stroke-width="0.6" />
<line x1="115.40" y1="632.80" x2="117.40" y2="632.80" stroke="#e8909c" stroke-width="0.7" />
<rect x="120.10" y="635.60" width="3.40" height="28.20" fill="#fff" stroke="#e8909c" stroke-width="0.6" />
<rect x="120.10" y="660.30" width="3.40" height="3.50" fill="#f4c4cc" />
<rect x="119.80" y="663.80" width="4.00" height="15.80" fill="#c8102e" />
<line x1="121.80" y1="632.50" x2="121.80" y2="635.60" stroke="#e8909c" stroke-width="0.6" />
<line x1="120.80" y1="632.50" x2="122.80" y2="632.50" stroke="#e8909c" stroke-width="0.7" />
<rect x="127.00" y="635.60" width="4.00" height="44.00" fill="#1a4a82" />
<rect x="133.60" y="635.60" width="3.40" height="3.40" fill="#fff" stroke="#6a9ccc" stroke-width="0.6" />
<rect x="133.60" y="636.50" width="3.40" height="2.50" fill="#a8c8e8" />
<rect x="133.30" y="639.00" width="4.00" height="40.60" fill="#1a4a82" />
<line x1="135.30" y1="633.00" x2="135.30" y2="635.60" stroke="#6a9ccc" stroke-width="0.6" />
<line x1="134.30" y1="633.00" x2="136.30" y2="633.00" stroke="#6a9ccc" stroke-width="0.7" />
<circle cx="120.40" cy="627.30" r="0.92" fill="#c8102e" />
<circle cx="123.40" cy="627.30" r="0.92" fill="#c8102e" />
<text x="116.40" y="687.50" font-size="6.4" text-anchor="middle" fill="#333" stroke="#333" stroke-width="0.12">V</text>
<text x="121.80" y="687.50" font-size="6.4" text-anchor="middle" fill="#f0a850" stroke="#f0a850" stroke-width="0.12">IF</text>
<text x="129.00" y="687.50" font-size="6.4" text-anchor="middle" fill="#333" stroke="#333" stroke-width="0.12">V</text>
<text x="135.30" y="687.50" font-size="6.4" text-anchor="middle" fill="#f0a850" stroke="#f0a850" stroke-width="0.12">IF</text>
<rect x="166.60" y="635.60" width="3.40" height="5.20" fill="#fff" stroke="#e8909c" stroke-width="0.6" />
<rect x="166.60" y="637.60" width="3.40" height="3.20" fill="#f4c4cc" />
<rect x="166.30" y="640.80" width="4.00" height="38.80" fill="#c8102e" />
<line x1="168.30" y1="632.80" x2="168.30" y2="635.60" stroke="#e8909c" stroke-width="0.6" />
<line x1="167.30" y1="632.80" x2="169.30" y2="632.80" stroke="#e8909c" stroke-width="0.7" />
<rect x="172.50" y="635.60" width="3.40" height="17.40" fill="#fff" stroke="#e8909c" stroke-width="0.6" />
<rect x="172.50" y="649.50" width="3.40" height="3.50" fill="#f4c4cc" />
<rect x="172.20" y="653.00" width="4.00" height="26.60" fill="#c8102e" />
<line x1="174.20" y1="632.50" x2="174.20" y2="635.60" stroke="#e8909c" stroke-width="0.6" />
<line x1="173.20" y1="632.50" x2="175.20" y2="632.50" stroke="#e8909c" stroke-width="0.7" />
<rect x="179.80" y="635.80" width="4.00" height="43.80" fill="#1a4a82" />
<rect x="186.30" y="635.60" width="3.40" height="3.40" fill="#fff" stroke="#6a9ccc" stroke-width="0.6" />
<rect x="186.30" y="636.50" width="3.40" height="2.50" fill="#a8c8e8" />
<rect x="186.00" y="639.00" width="4.00" height="40.60" fill="#1a4a82" />
<line x1="188.00" y1="633.00" x2="188.00" y2="635.60" stroke="#6a9ccc" stroke-width="0.6" />
<line x1="187.00" y1="633.00" x2="189.00" y2="633.00" stroke="#6a9ccc" stroke-width="0.7" />
<circle cx="172.75" cy="627.30" r="0.92" fill="#c8102e" />
<circle cx="175.75" cy="627.30" r="0.92" fill="#c8102e" />
<text x="168.30" y="687.50" font-size="6.4" text-anchor="middle" fill="#333" stroke="#333" stroke-width="0.12">V</text>
<text x="174.20" y="687.50" font-size="6.4" text-anchor="middle" fill="#f0a850" stroke="#f0a850" stroke-width="0.12">IF</text>
<text x="181.80" y="687.50" font-size="6.4" text-anchor="middle" fill="#333" stroke="#333" stroke-width="0.12">V</text>
<text x="188.00" y="687.50" font-size="6.4" text-anchor="middle" fill="#f0a850" stroke="#f0a850" stroke-width="0.12">IF</text>
<rect x="222.60" y="635.60" width="3.40" height="4.20" fill="#fff" stroke="#e8909c" stroke-width="0.6" />
<rect x="222.60" y="636.60" width="3.40" height="3.20" fill="#f4c4cc" />
<rect x="222.30" y="639.80" width="4.00" height="39.80" fill="#c8102e" />
<line x1="224.30" y1="632.80" x2="224.30" y2="635.60" stroke="#e8909c" stroke-width="0.6" />
<line x1="223.30" y1="632.80" x2="225.30" y2="632.80" stroke="#e8909c" stroke-width="0.7" />
<rect x="228.80" y="635.60" width="3.40" height="22.10" fill="#fff" stroke="#e8909c" stroke-width="0.6" />
<rect x="228.80" y="654.20" width="3.40" height="3.50" fill="#f4c4cc" />
<rect x="228.50" y="657.70" width="4.00" height="21.90" fill="#c8102e" />
<line x1="230.50" y1="632.50" x2="230.50" y2="635.60" stroke="#e8909c" stroke-width="0.6" />
<line x1="229.50" y1="632.50" x2="231.50" y2="632.50" stroke="#e8909c" stroke-width="0.7" />
<rect x="236.20" y="635.60" width="4.00" height="44.00" fill="#1a4a82" />
<rect x="242.60" y="635.60" width="3.40" height="3.40" fill="#fff" stroke="#6a9ccc" stroke-width="0.6" />
<rect x="242.60" y="636.50" width="3.40" height="2.50" fill="#a8c8e8" />
<rect x="242.30" y="639.00" width="4.00" height="40.60" fill="#1a4a82" />
<line x1="244.30" y1="633.00" x2="244.30" y2="635.60" stroke="#6a9ccc" stroke-width="0.6" />
<line x1="243.30" y1="633.00" x2="245.30" y2="633.00" stroke="#6a9ccc" stroke-width="0.7" />
<circle cx="225.00" cy="627.30" r="0.92" fill="#c8102e" />
<circle cx="228.00" cy="627.30" r="0.92" fill="#c8102e" />
<circle cx="231.00" cy="627.30" r="0.92" fill="#c8102e" />
<circle cx="234.00" cy="627.30" r="0.92" fill="#c8102e" />
<text x="224.30" y="687.50" font-size="6.4" text-anchor="middle" fill="#333" stroke="#333" stroke-width="0.12">V</text>
<text x="230.50" y="687.50" font-size="6.4" text-anchor="middle" fill="#f0a850" stroke="#f0a850" stroke-width="0.12">IF</text>
<text x="238.20" y="687.50" font-size="6.4" text-anchor="middle" fill="#333" stroke="#333" stroke-width="0.12">V</text>
<text x="244.30" y="687.50" font-size="6.4" text-anchor="middle" fill="#f0a850" stroke="#f0a850" stroke-width="0.12">IF</text>
<rect x="276.60" y="635.60" width="3.40" height="3.20" fill="#fff" stroke="#e8909c" stroke-width="0.6" />
<rect x="276.60" y="635.90" width="3.40" height="2.90" fill="#f4c4cc" />
<rect x="276.30" y="638.80" width="4.00" height="40.80" fill="#c8102e" />
<line x1="278.30" y1="632.80" x2="278.30" y2="635.60" stroke="#e8909c" stroke-width="0.6" />
<line x1="277.30" y1="632.80" x2="279.30" y2="632.80" stroke="#e8909c" stroke-width="0.7" />
<rect x="282.70" y="635.60" width="3.40" height="17.70" fill="#fff" stroke="#e8909c" stroke-width="0.6" />
<rect x="282.70" y="649.80" width="3.40" height="3.50" fill="#f4c4cc" />
<rect x="282.40" y="653.30" width="4.00" height="26.30" fill="#c8102e" />
<line x1="284.40" y1="632.50" x2="284.40" y2="635.60" stroke="#e8909c" stroke-width="0.6" />
<line x1="283.40" y1="632.50" x2="285.40" y2="632.50" stroke="#e8909c" stroke-width="0.7" />
<rect x="290.20" y="635.60" width="4.00" height="44.00" fill="#1a4a82" />
<rect x="296.80" y="635.60" width="3.40" height="3.40" fill="#fff" stroke="#6a9ccc" stroke-width="0.6" />
<rect x="296.80" y="636.50" width="3.40" height="2.50" fill="#a8c8e8" />
<rect x="296.50" y="639.00" width="4.00" height="40.60" fill="#1a4a82" />
<line x1="298.50" y1="633.00" x2="298.50" y2="635.60" stroke="#6a9ccc" stroke-width="0.6" />
<line x1="297.50" y1="633.00" x2="299.50" y2="633.00" stroke="#6a9ccc" stroke-width="0.7" />
<circle cx="283.00" cy="627.30" r="0.92" fill="#c8102e" />
<circle cx="286.00" cy="627.30" r="0.92" fill="#c8102e" />
<text x="278.30" y="687.50" font-size="6.4" text-anchor="middle" fill="#333" stroke="#333" stroke-width="0.12">V</text>
<text x="284.40" y="687.50" font-size="6.4" text-anchor="middle" fill="#f0a850" stroke="#f0a850" stroke-width="0.12">IF</text>
<text x="292.20" y="687.50" font-size="6.4" text-anchor="middle" fill="#333" stroke="#333" stroke-width="0.12">V</text>
<text x="298.50" y="687.50" font-size="6.4" text-anchor="middle" fill="#f0a850" stroke="#f0a850" stroke-width="0.12">IF</text>
<rect x="330.30" y="635.60" width="3.40" height="3.20" fill="#fff" stroke="#e8909c" stroke-width="0.6" />
<rect x="330.30" y="635.90" width="3.40" height="2.90" fill="#f4c4cc" />
<rect x="330.00" y="638.80" width="4.00" height="40.80" fill="#c8102e" />
<line x1="332.00" y1="632.80" x2="332.00" y2="635.60" stroke="#e8909c" stroke-width="0.6" />
<line x1="331.00" y1="632.80" x2="333.00" y2="632.80" stroke="#e8909c" stroke-width="0.7" />
<rect x="336.60" y="635.60" width="3.40" height="19.10" fill="#fff" stroke="#e8909c" stroke-width="0.6" />
<rect x="336.60" y="651.20" width="3.40" height="3.50" fill="#f4c4cc" />
<rect x="336.30" y="654.70" width="4.00" height="24.90" fill="#c8102e" />
<line x1="338.30" y1="632.50" x2="338.30" y2="635.60" stroke="#e8909c" stroke-width="0.6" />
<line x1="337.30" y1="632.50" x2="339.30" y2="632.50" stroke="#e8909c" stroke-width="0.7" />
<rect x="344.40" y="635.60" width="4.00" height="44.00" fill="#1a4a82" />
<rect x="351.10" y="635.60" width="3.40" height="3.40" fill="#fff" stroke="#6a9ccc" stroke-width="0.6" />
<rect x="351.10" y="636.50" width="3.40" height="2.50" fill="#a8c8e8" />
<rect x="350.80" y="639.00" width="4.00" height="40.60" fill="#1a4a82" />
<line x1="352.80" y1="633.00" x2="352.80" y2="635.60" stroke="#6a9ccc" stroke-width="0.6" />
<line x1="351.80" y1="633.00" x2="353.80" y2="633.00" stroke="#6a9ccc" stroke-width="0.7" />
<circle cx="335.50" cy="627.30" r="0.92" fill="#c8102e" />
<circle cx="338.50" cy="627.30" r="0.92" fill="#c8102e" />
<circle cx="341.50" cy="627.30" r="0.92" fill="#c8102e" />
<text x="332.00" y="687.50" font-size="6.4" text-anchor="middle" fill="#333" stroke="#333" stroke-width="0.12">V</text>
<text x="338.30" y="687.50" font-size="6.4" text-anchor="middle" fill="#f0a850" stroke="#f0a850" stroke-width="0.12">IF</text>
<text x="346.40" y="687.50" font-size="6.4" text-anchor="middle" fill="#333" stroke="#333" stroke-width="0.12">V</text>
<text x="352.80" y="687.50" font-size="6.4" text-anchor="middle" fill="#f0a850" stroke="#f0a850" stroke-width="0.12">IF</text>
<rect x="385.10" y="635.60" width="3.40" height="0.90" fill="#fff" stroke="#e8909c" stroke-width="0.6" />
<rect x="385.10" y="635.90" width="3.40" height="0.60" fill="#f4c4cc" />
<rect x="384.80" y="636.50" width="4.00" height="43.10" fill="#c8102e" />
<line x1="386.80" y1="632.80" x2="386.80" y2="635.60" stroke="#e8909c" stroke-width="0.6" />
<line x1="385.80" y1="632.80" x2="387.80" y2="632.80" stroke="#e8909c" stroke-width="0.7" />
<rect x="390.90" y="635.60" width="3.40" height="19.10" fill="#fff" stroke="#e8909c" stroke-width="0.6" />
<rect x="390.90" y="651.20" width="3.40" height="3.50" fill="#f4c4cc" />
<rect x="390.60" y="654.70" width="4.00" height="24.90" fill="#c8102e" />
<line x1="392.60" y1="632.50" x2="392.60" y2="635.60" stroke="#e8909c" stroke-width="0.6" />
<line x1="391.60" y1="632.50" x2="393.60" y2="632.50" stroke="#e8909c" stroke-width="0.7" />
<rect x="399.80" y="635.60" width="4.00" height="44.00" fill="#1a4a82" />
<rect x="407.60" y="635.60" width="3.40" height="0.60" fill="#fff" stroke="#6a9ccc" stroke-width="0.6" />
<rect x="407.60" y="635.90" width="3.40" height="0.30" fill="#a8c8e8" />
<rect x="407.30" y="636.20" width="4.00" height="43.40" fill="#1a4a82" />
<line x1="409.30" y1="633.00" x2="409.30" y2="635.60" stroke="#6a9ccc" stroke-width="0.6" />
<line x1="408.30" y1="633.00" x2="410.30" y2="633.00" stroke="#6a9ccc" stroke-width="0.7" />
<circle cx="386.15" cy="627.30" r="0.92" fill="#c8102e" />
<circle cx="389.15" cy="627.30" r="0.92" fill="#c8102e" />
<circle cx="392.15" cy="627.30" r="0.92" fill="#c8102e" />
<circle cx="395.15" cy="627.30" r="0.92" fill="#c8102e" />
<text x="386.80" y="687.50" font-size="6.4" text-anchor="middle" fill="#333" stroke="#333" stroke-width="0.12">V</text>
<text x="392.60" y="687.50" font-size="6.4" text-anchor="middle" fill="#f0a850" stroke="#f0a850" stroke-width="0.12">IF</text>
<text x="401.80" y="687.50" font-size="6.4" text-anchor="middle" fill="#333" stroke="#333" stroke-width="0.12">V</text>
<text x="409.30" y="687.50" font-size="6.4" text-anchor="middle" fill="#f0a850" stroke="#f0a850" stroke-width="0.12">IF</text>
<text x="419.40" y="531.80" font-size="10.5" fill="#111" font-weight="bold" stroke="#111" stroke-width="0.12">G</text>
<text x="436.20" y="531.20" font-size="8.2" fill="#333" textLength="72.70" lengthAdjust="spacingAndGlyphs" stroke="#333" stroke-width="0.12"><tspan>% of CD41</tspan><tspan font-size="5.08" dy="-3.28">hi/lo</tspan><tspan dy="3.28"> cells</tspan></text>
<text x="432.80" y="540.80" font-size="8.2" fill="#333" textLength="80.20" lengthAdjust="spacingAndGlyphs" stroke="#333" stroke-width="0.12"><tspan>within GFP</tspan><tspan font-size="5.08" dy="-3.28">+</tspan><tspan dy="3.28"> LT-HSCs</tspan></text>
<text x="457.00" y="552.60" font-size="6.6" fill="#c8102e" textLength="8.60" lengthAdjust="spacingAndGlyphs" stroke="#c8102e" stroke-width="0.12">VF</text>
<text x="473.6" y="552.6" font-size="6.6" fill="#3a6fa8" textLength="24" lengthAdjust="spacingAndGlyphs" stroke="#3a6fa8" stroke-width="0.12">VF;Dm</text>
<text x="498.30" y="549.60" font-size="3.8" fill="#3a6fa8" stroke="#3a6fa8" stroke-width="0.12">Δ/Δ</text>
<text x="443.70" y="558.80" font-size="6.8" text-anchor="middle" fill="#333" stroke="#333" stroke-width="0.12">%</text>
<line x1="453.40" y1="562.50" x2="453.40" y2="610.45" stroke="#222" stroke-width="1.1" />
<line x1="450.90" y1="564.50" x2="453.40" y2="564.50" stroke="#222" stroke-width="0.7" />
<text x="447.90" y="566.80" font-size="6.4" text-anchor="end" fill="#333" stroke="#333" stroke-width="0.12">100</text>
<line x1="450.90" y1="575.88" x2="453.40" y2="575.88" stroke="#222" stroke-width="0.7" />
<text x="447.90" y="578.18" font-size="6.4" text-anchor="end" fill="#333" stroke="#333" stroke-width="0.12">75</text>
<line x1="450.90" y1="587.25" x2="453.40" y2="587.25" stroke="#222" stroke-width="0.7" />
<text x="447.90" y="589.55" font-size="6.4" text-anchor="end" fill="#333" stroke="#333" stroke-width="0.12">50</text>
<line x1="450.90" y1="598.62" x2="453.40" y2="598.62" stroke="#222" stroke-width="0.7" />
<text x="447.90" y="600.93" font-size="6.4" text-anchor="end" fill="#333" stroke="#333" stroke-width="0.12">25</text>
<line x1="450.90" y1="610.00" x2="453.40" y2="610.00" stroke="#222" stroke-width="0.7" />
<text x="447.90" y="612.30" font-size="6.4" text-anchor="end" fill="#333" stroke="#333" stroke-width="0.12">0</text>
<line x1="452.00" y1="570.19" x2="453.40" y2="570.19" stroke="#222" stroke-width="0.6" />
<line x1="452.00" y1="581.56" x2="453.40" y2="581.56" stroke="#222" stroke-width="0.6" />
<line x1="452.00" y1="592.94" x2="453.40" y2="592.94" stroke="#222" stroke-width="0.6" />
<line x1="452.00" y1="604.31" x2="453.40" y2="604.31" stroke="#222" stroke-width="0.6" />
<line x1="452.95" y1="610.00" x2="487.70" y2="610.00" stroke="#222" stroke-width="1.15" />
<line x1="459.10" y1="610.00" x2="459.10" y2="611.80" stroke="#222" stroke-width="0.6" />
<line x1="466.10" y1="610.00" x2="466.10" y2="611.80" stroke="#222" stroke-width="0.6" />
<line x1="478.10" y1="610.00" x2="478.10" y2="611.80" stroke="#222" stroke-width="0.6" />
<line x1="484.20" y1="610.00" x2="484.20" y2="611.80" stroke="#222" stroke-width="0.6" />
<text x="433.30" y="586.40" font-size="7.4" text-anchor="middle" fill="#333" textLength="38.90" lengthAdjust="spacingAndGlyphs" transform="rotate(-90 433.3 586.4)" stroke="#333" stroke-width="0.12">Bone marrow</text>
<text x="490.7" y="580.0" font-size="6.6" fill="#333" stroke="#333" stroke-width="0.12">CD41<tspan font-size="4" dy="-2.6">lo</tspan></text>
<text x="490.7" y="601.8" font-size="6.6" fill="#333" stroke="#333" stroke-width="0.12">CD41<tspan font-size="4" dy="-2.6">hi</tspan></text>
<line x1="453.40" y1="632.40" x2="453.40" y2="680.25" stroke="#222" stroke-width="1.1" />
<line x1="450.90" y1="634.40" x2="453.40" y2="634.40" stroke="#222" stroke-width="0.7" />
<text x="447.90" y="636.70" font-size="6.4" text-anchor="end" fill="#333" stroke="#333" stroke-width="0.12">100</text>
<line x1="450.90" y1="645.75" x2="453.40" y2="645.75" stroke="#222" stroke-width="0.7" />
<text x="447.90" y="648.05" font-size="6.4" text-anchor="end" fill="#333" stroke="#333" stroke-width="0.12">75</text>
<line x1="450.90" y1="657.10" x2="453.40" y2="657.10" stroke="#222" stroke-width="0.7" />
<text x="447.90" y="659.40" font-size="6.4" text-anchor="end" fill="#333" stroke="#333" stroke-width="0.12">50</text>
<line x1="450.90" y1="668.45" x2="453.40" y2="668.45" stroke="#222" stroke-width="0.7" />
<text x="447.90" y="670.75" font-size="6.4" text-anchor="end" fill="#333" stroke="#333" stroke-width="0.12">25</text>
<line x1="450.90" y1="679.80" x2="453.40" y2="679.80" stroke="#222" stroke-width="0.7" />
<text x="447.90" y="682.10" font-size="6.4" text-anchor="end" fill="#333" stroke="#333" stroke-width="0.12">0</text>
<line x1="452.00" y1="640.08" x2="453.40" y2="640.08" stroke="#222" stroke-width="0.6" />
<line x1="452.00" y1="651.42" x2="453.40" y2="651.42" stroke="#222" stroke-width="0.6" />
<line x1="452.00" y1="662.77" x2="453.40" y2="662.77" stroke="#222" stroke-width="0.6" />
<line x1="452.00" y1="674.12" x2="453.40" y2="674.12" stroke="#222" stroke-width="0.6" />
<line x1="452.95" y1="679.80" x2="487.70" y2="679.80" stroke="#222" stroke-width="1.15" />
<line x1="459.10" y1="679.80" x2="459.10" y2="681.60" stroke="#222" stroke-width="0.6" />
<line x1="466.10" y1="679.80" x2="466.10" y2="681.60" stroke="#222" stroke-width="0.6" />
<line x1="478.10" y1="679.80" x2="478.10" y2="681.60" stroke="#222" stroke-width="0.6" />
<line x1="484.20" y1="679.80" x2="484.20" y2="681.60" stroke="#222" stroke-width="0.6" />
<text x="432.30" y="655.70" font-size="7.4" text-anchor="middle" fill="#333" textLength="20.30" lengthAdjust="spacingAndGlyphs" transform="rotate(-90 432.3 655.7)" stroke="#333" stroke-width="0.12">Spleen</text>
<text x="490.7" y="647.1" font-size="6.6" fill="#333" stroke="#333" stroke-width="0.12">CD41<tspan font-size="4" dy="-2.6">lo</tspan></text>
<text x="490.7" y="667.7" font-size="6.6" fill="#333" stroke="#333" stroke-width="0.12">CD41<tspan font-size="4" dy="-2.6">hi</tspan></text>
<rect x="456.90" y="564.60" width="4.40" height="31.80" fill="#fff" stroke="#e8909c" stroke-width="0.6" />
<rect x="456.60" y="596.40" width="5.00" height="13.60" fill="#c8102e" />
<line x1="459.10" y1="563.50" x2="459.10" y2="564.60" stroke="#e8909c" stroke-width="0.6" />
<line x1="458.10" y1="563.50" x2="460.10" y2="563.50" stroke="#e8909c" stroke-width="0.7" />
<rect x="463.90" y="564.60" width="4.40" height="26.10" fill="#fff" stroke="#e8909c" stroke-width="0.6" />
<rect x="463.60" y="590.70" width="5.00" height="19.30" fill="#c8102e" />
<line x1="466.10" y1="563.50" x2="466.10" y2="564.60" stroke="#e8909c" stroke-width="0.6" />
<line x1="465.10" y1="563.50" x2="467.10" y2="563.50" stroke="#e8909c" stroke-width="0.7" />
<rect x="475.90" y="564.60" width="4.40" height="23.10" fill="#fff" stroke="#6a9ccc" stroke-width="0.6" />
<rect x="475.60" y="587.70" width="5.00" height="22.30" fill="#1a4a82" />
<line x1="478.10" y1="563.50" x2="478.10" y2="564.60" stroke="#6a9ccc" stroke-width="0.6" />
<line x1="477.10" y1="563.50" x2="479.10" y2="563.50" stroke="#6a9ccc" stroke-width="0.7" />
<rect x="482.00" y="564.60" width="4.40" height="23.10" fill="#fff" stroke="#6a9ccc" stroke-width="0.6" />
<rect x="481.70" y="587.70" width="5.00" height="22.30" fill="#1a4a82" />
<line x1="484.20" y1="563.50" x2="484.20" y2="564.60" stroke="#6a9ccc" stroke-width="0.6" />
<line x1="483.20" y1="563.50" x2="485.20" y2="563.50" stroke="#6a9ccc" stroke-width="0.7" />
<rect x="457.10" y="634.50" width="3.80" height="28.10" fill="#fff" stroke="#e8909c" stroke-width="0.6" />
<rect x="456.80" y="662.60" width="4.40" height="17.20" fill="#c8102e" />
<line x1="459.00" y1="632.50" x2="459.00" y2="634.50" stroke="#e8909c" stroke-width="0.6" />
<line x1="458.00" y1="632.50" x2="460.00" y2="632.50" stroke="#e8909c" stroke-width="0.7" />
<text x="462.50" y="660.60" font-size="6.2" fill="#333" textLength="8.60" lengthAdjust="spacingAndGlyphs" stroke="#333" stroke-width="0.12">n/a</text>
<rect x="475.90" y="634.50" width="4.00" height="24.10" fill="#fff" stroke="#6a9ccc" stroke-width="0.6" />
<rect x="475.60" y="658.60" width="4.60" height="21.20" fill="#1a4a82" />
<line x1="477.90" y1="633.00" x2="477.90" y2="634.50" stroke="#6a9ccc" stroke-width="0.6" />
<line x1="476.90" y1="633.00" x2="478.90" y2="633.00" stroke="#6a9ccc" stroke-width="0.7" />
<rect x="481.90" y="634.50" width="4.00" height="24.10" fill="#fff" stroke="#6a9ccc" stroke-width="0.6" />
<rect x="481.60" y="658.60" width="4.60" height="21.20" fill="#1a4a82" />
<line x1="483.90" y1="633.00" x2="483.90" y2="634.50" stroke="#6a9ccc" stroke-width="0.6" />
<line x1="482.90" y1="633.00" x2="484.90" y2="633.00" stroke="#6a9ccc" stroke-width="0.7" />
<text x="459.00" y="686.90" font-size="6" text-anchor="middle" fill="#333" stroke="#333" stroke-width="0.12">V</text>
<text x="466.50" y="686.90" font-size="6" text-anchor="middle" fill="#f0a850" stroke="#f0a850" stroke-width="0.12">IF</text>
<text x="477.90" y="686.90" font-size="6" text-anchor="middle" fill="#333" stroke="#333" stroke-width="0.12">V</text>
<text x="484.40" y="686.90" font-size="6" text-anchor="middle" fill="#f0a850" stroke="#f0a850" stroke-width="0.12">IF</text>
<line x1="0.00" y1="0.50" x2="520.00" y2="0.50" stroke="#5a5a5a" stroke-width="1.2" />
<line x1="0.50" y1="0.00" x2="0.50" y2="695.00" stroke="#5a5a5a" stroke-width="1.2" />
<line x1="519.50" y1="0.00" x2="519.50" y2="695.00" stroke="#5a5a5a" stroke-width="1.2" />
<line x1="0.00" y1="694.30" x2="520.00" y2="694.30" stroke="#5a5a5a" stroke-width="1.2" />
</svg></div>
</body></html>
